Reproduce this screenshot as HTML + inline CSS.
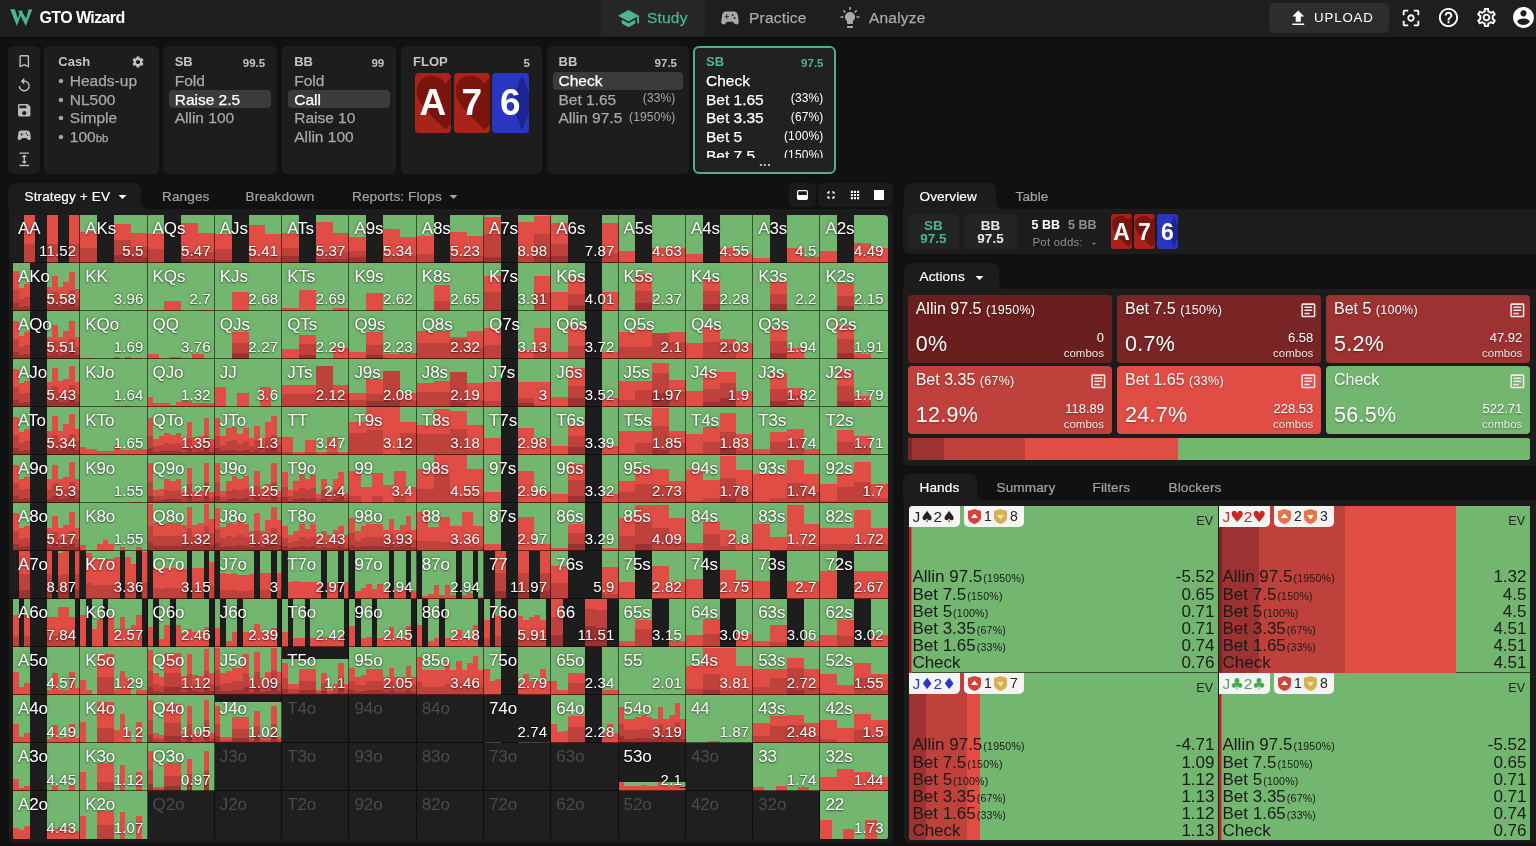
<!DOCTYPE html>
<html lang="en">
<head>
<meta charset="utf-8">
<title>GTO Wizard</title>
<style>
*{box-sizing:border-box;margin:0;padding:0}
html,body{width:1536px;height:846px;overflow:hidden;background:#111111}
body{position:relative;font-family:"Liberation Sans",sans-serif;color:#fff;font-size:14px}
.abs{position:absolute}
svg{display:block}
/* top bar */
#top{position:absolute;left:0;top:0;width:1536px;height:36.5px;background:#1e1e1e;box-shadow:0 0 2px rgba(0,0,0,.6)}
#top .brand{position:absolute;left:39.5px;top:7.5px;font-weight:bold;font-size:16px;letter-spacing:-.6px;color:#fff;line-height:20px}
.nav{position:absolute;top:0;height:36px;line-height:36px;font-size:15.5px;color:#a9a9a9;letter-spacing:.2px;-webkit-text-stroke:.25px currentColor}
.nav svg{position:absolute;top:7px}
.nav.act{background:#262626;color:#4db592}
#upload{position:absolute;left:1269px;top:3px;width:120px;height:30px;border-radius:5px;background:#2d2d2d;font-size:13.3px;letter-spacing:.85px;line-height:30px;color:#fff}
#upload span{position:absolute;left:45px;top:0}
/* panels */
.pn{position:absolute;top:46px;height:127.5px;background:#1d1d1d;border-radius:5px;overflow:hidden}
.pn .h{position:absolute;left:12px;top:9px;font-weight:bold;font-size:13px;color:#c4c4c4;line-height:14px}
.pn .s{position:absolute;right:12px;top:10px;font-weight:bold;font-size:11.5px;color:#c4c4c4;line-height:14px}
.pn .l{position:absolute;left:12px;font-size:15.5px;color:#a8a8a8;line-height:19px;white-space:nowrap;-webkit-text-stroke:.25px currentColor}
.pn .p{position:absolute;right:13.5px;font-size:12px;color:#a8a8a8;line-height:19px;letter-spacing:.15px}
.pn .hl{position:absolute;left:6px;right:6px;height:18px;border-radius:4px;background:#3b3b3b}
.pn .w{color:#fff}
.card{position:absolute;border-radius:4px;overflow:hidden;color:#fff;font-weight:bold;text-align:center}
/* tabs */
.tab{position:absolute;-webkit-text-stroke:.2px currentColor;font-size:13.6px;color:#a4a4a4;line-height:28px;height:26px;white-space:nowrap;letter-spacing:.1px}
.tab.act{background:#1c1c1c;color:#fff;border-radius:7px 7px 0 0}
.panel{position:absolute;background:#1c1c1c}
.cc{position:absolute;width:7px;height:7px;background:radial-gradient(circle at 100% 0,rgba(28,28,28,0) 6.5px,#1c1c1c 7.2px)}
/* matrix */
#matrix{position:absolute;border-radius:4px;overflow:hidden}
#matrix .msvg{position:absolute;left:0;top:0}
.c{position:absolute;width:67.29px;height:48.03px;color:#fff;text-shadow:0 0 3px rgba(0,0,0,.55),0 1px 1px rgba(0,0,0,.35)}
.c b{position:absolute;left:5px;top:3.6px;font-weight:normal;font-size:17px;line-height:20px;letter-spacing:-.1px}
.c i{position:absolute;right:4px;bottom:4px;font-style:normal;font-size:15px;line-height:16px;letter-spacing:.15px}
.c.in{color:#4b4b4b;text-shadow:none}
/* right side */
.box{position:absolute;background:#242424;border-radius:5px;text-align:center;font-weight:bold;font-size:13.5px;line-height:13px;padding-top:5px}
.ac{position:absolute;border-radius:4px;color:#fff;text-shadow:0 1px 2px rgba(0,0,0,.35)}
.ac .t{position:absolute;left:8px;top:5px;font-size:16px;line-height:18px;white-space:nowrap}
.ac .t small{font-size:12.5px;letter-spacing:.3px}
.ac .v{position:absolute;left:8px;bottom:6.5px;font-size:21.5px;line-height:24px;letter-spacing:.3px}
.ac .n{position:absolute;right:8px;bottom:2.5px;font-size:11.5px;line-height:14.5px;text-align:right;color:#f0e4e4}
.ac .n em{font-style:normal;font-size:13px;color:#fff}
.ac svg{position:absolute;right:3.9px;top:5.7px}
.hc{position:absolute;overflow:hidden;background:#73b66f;color:#1a1a1a}
.hc .bd{position:absolute;top:0;height:21px;background:#f4f4f4;border-radius:0 0 5px 0;font-size:15.5px;line-height:21px;font-weight:normal;white-space:nowrap;padding-left:3.5px}
.hc .bd u{text-decoration:none;font-family:"DejaVu Sans","Liberation Sans",sans-serif;font-size:15.5px;line-height:21px;letter-spacing:-.5px}
.hc .bd2{position:absolute;top:0;height:21px;background:#f4f4f4;border-radius:0 0 5px 5px;font-size:14px;line-height:21px;white-space:nowrap;color:#222}
.hc .ev{position:absolute;right:5px;top:8px;font-size:12.5px;line-height:14px;color:#222}
.hc .ls{position:absolute;left:3.5px;right:3.5px;bottom:0;font-size:17px;line-height:17.2px}
.hc.r1 .ls{bottom:1px}
.hc .ls div{position:relative;height:17.2px;white-space:nowrap}
.hc .ls small{font-size:10.6px;margin-left:1px;letter-spacing:.2px}
.hc .ls span{position:absolute;right:0;top:0}
</style>
</head>
<body>
<div id="top">
<svg class="abs" style="left:9.600px;top:9.100px" width="22.500" height="17.100" viewBox="135 170 540 410"><path d="M140 175L252 178 322 395 385 215 440 205 300 575zM330 215L402 205 522 395 583 180 670 175 515 575z" fill="#4db592"/></svg>
<div class="brand">GTO Wizard</div>
<div class="nav act" style="left:601px;width:104px"><svg style="left:16px" width="23" height="23" viewBox="0 0 24 24"><path d="M5 13.18v4L12 21l7-3.82v-4L12 17l-7-3.82zM12 3L1 9l11 6 9-4.910V17h2V9L12 3z" fill="#4db592"/></svg><span class="abs" style="left:46px">Study</span></div>
<div class="nav" style="left:705px;width:120px"><svg style="left:14px" width="22" height="22" viewBox="0 0 24 24"><path d="M21.58 16.09l-1.09-7.66C20.21 6.46 18.52 5 16.53 5H7.47C5.48 5 3.79 6.46 3.51 8.43l-1.090 7.66C2.2 17.63 3.39 19 4.94 19c.68 0 1.32-.27 1.8-.75L9 16h6l2.25 2.25c.48.48 1.13.75 1.8.75 1.56 0 2.75-1.37 2.53-2.910zM11 11H9v2H8v-2H6v-1h2V8h1v2h2v1zm4-1c-.55 0-1-.45-1-1s.45-1 1-1 1 .45 1 1-.45 1-1 1zm2 3c-.55 0-1-.45-1-1s.45-1 1-1 1 .45 1 1-.45 1-1 1z" fill="#a9a9a9"/></svg><span class="abs" style="left:44px">Practice</span></div>
<div class="nav" style="left:825px;width:120px"><svg style="left:13px;top:6px" width="24" height="24" viewBox="0 0 24 24"><path d="M9 21c0 .55.45 1 1 1h4c.55 0 1-.45 1-1v-1H9v1zm3-15c-2.760 0-5 2.240-5 5 0 1.640.8 3.090 2 4v2c0 .55.45 1 1 1h4c.55 0 1-.45 1-1v-2c1.200-.910 2-2.360 2-4 0-2.760-2.240-5-5-5z" fill="#a9a9a9"/><path d="M11.200 1h1.600v3h-1.600zM2.500 10.200h3v1.600h-3zM18.500 10.200h3v1.600h-3zM4.700 4.900l1.100-1.100 2.100 2.100-1.100 1.100zM16.100 5.900l2.100-2.100 1.100 1.100-2.100 2.100z" fill="#a9a9a9"/></svg><span class="abs" style="left:44px">Analyze</span></div>
<div id="upload"><svg class="abs" style="left:19px;top:4.500px" width="20.500" height="20.500" viewBox="0 0 24 24"><path d="M9 16h6v-6h4l-7-7-7 7h4zm-4 2h14v2H5z" fill="#fff"/></svg><span>UPLOAD</span></div>
<svg class="abs" style="left:1400px;top:7px" width="22" height="22" viewBox="0 0 24 24"><path d="M5 15H3v4c0 1.100.9 2 2 2h4v-2H5v-4zM5 5h4V3H5c-1.100 0-2 .9-2 2v4h2V5zm14-2h-4v2h4v4h2V5c0-1.100-.9-2-2-2zm0 16h-4v2h4c1.100 0 2-.9 2-2v-4h-2v4zM12 8c-2.210 0-4 1.790-4 4s1.790 4 4 4 4-1.790 4-4-1.790-4-4-4zm0 6c-1.100 0-2-.9-2-2s.9-2 2-2 2 .9 2 2-.9 2-2 2z" fill="#fff"/></svg>
<svg class="abs" style="left:1437px;top:6px" width="23" height="23" viewBox="0 0 24 24"><path d="M11 18h2v-2h-2v2zm1-16C6.480 2 2 6.480 2 12s4.480 10 10 10 10-4.480 10-10S17.520 2 12 2zm0 18c-4.410 0-8-3.590-8-8s3.590-8 8-8 8 3.590 8 8-3.590 8-8 8zm0-14c-2.210 0-4 1.790-4 4h2c0-1.100.9-2 2-2s2 .9 2 2c0 2-3 1.750-3 5h2c0-2.250 3-2.500 3-5 0-2.210-1.790-4-4-4z" fill="#fff"/></svg>
<svg class="abs" style="left:1475px;top:6px" width="23" height="23" viewBox="0 0 24 24"><path d="M19.430 12.980c.04-.32.07-.64.07-.98 0-.34-.03-.66-.07-.98l2.110-1.650c.19-.15.240-.42.120-.64l-2-3.460c-.09-.16-.26-.25-.44-.25-.06 0-.12.010-.17.030l-2.490 1c-.52-.4-1.080-.73-1.690-.98l-.38-2.650C14.460 2.180 14.250 2 14 2h-4c-.25 0-.46.180-.49.420l-.38 2.650c-.61.250-1.170.59-1.690.98l-2.490-1c-.06-.02-.12-.03-.18-.03-.17 0-.34.090-.43.250l-2 3.460c-.13.220-.07.490.12.640l2.110 1.650c-.04.320-.07.650-.07.980 0 .33.030.66.070.98l-2.110 1.650c-.19.150-.24.420-.12.640l2 3.460c.09.160.26.250.44.250.06 0 .12-.01.17-.03l2.490-1c.52.400 1.080.73 1.690.98l.38 2.650c.03.240.24.420.49.420h4c.25 0 .46-.18.490-.42l.38-2.650c.61-.25 1.170-.59 1.690-.98l2.490 1c.06.020.12.030.18.030.17 0 .34-.09.43-.25l2-3.460c.12-.22.070-.49-.12-.64l-2.110-1.650zm-1.980-1.710c.04.310.05.520.05.730 0 .21-.02.430-.05.730l-.14 1.130.89.700 1.080.84-.7 1.210-1.270-.51-1.040-.42-.9.680c-.43.320-.84.560-1.250.73l-1.060.43-.16 1.130-.2 1.350h-1.400l-.19-1.350-.16-1.130-1.060-.43c-.43-.18-.83-.41-1.230-.71l-.91-.7-1.060.43-1.270.51-.7-1.210 1.080-.84.890-.7-.14-1.130c-.03-.31-.05-.54-.05-.74s.02-.43.050-.73l.14-1.130-.89-.7-1.080-.84.7-1.210 1.270.51 1.040.42.900-.68c.43-.32.840-.56 1.250-.73l1.060-.43.160-1.130.2-1.350h1.390l.19 1.350.16 1.130 1.060.43c.43.180.83.410 1.230.71l.91.700 1.060-.43 1.270-.51.7 1.210-1.070.85-.89.700.14 1.130zM12 8c-2.210 0-4 1.790-4 4s1.790 4 4 4 4-1.790 4-4-1.790-4-4-4zm0 6c-1.100 0-2-.9-2-2s.9-2 2-2 2 .9 2 2-.9 2-2 2z" fill="#fff"/></svg>
<svg class="abs" style="left:1511px;top:5px" width="25" height="25" viewBox="0 0 24 24"><path d="M12 2C6.480 2 2 6.480 2 12s4.480 10 10 10 10-4.480 10-10S17.520 2 12 2zm0 3c1.660 0 3 1.340 3 3s-1.340 3-3 3-3-1.340-3-3 1.340-3 3-3zm0 14.200c-2.500 0-4.710-1.280-6-3.220.03-1.990 4-3.080 6-3.080 1.990 0 5.970 1.090 6 3.080-1.290 1.940-3.500 3.220-6 3.220z" fill="#fff"/></svg>
</div>

<div class="pn" style="left:8px;width:32px">
<svg class="abs" style="left:7.75px;top:6.75px" width="16.500" height="16.500" viewBox="0 0 24 24"><path d="M17 3H7c-1.100 0-2 .9-2 2v16l7-3 7 3V5c0-1.100-.9-2-2-2zm0 15l-5-2.180L7 18V5h10v13z" fill="#bdbdbd"/></svg>
<svg class="abs" style="left:7.75px;top:30.75px" width="16.500" height="16.500" viewBox="0 0 24 24"><path d="M12 5V1L7 6l5 5V7c3.310 0 6 2.690 6 6s-2.690 6-6 6-6-2.690-6-6H4c0 4.420 3.580 8 8 8s8-3.580 8-8-3.580-8-8-8z" fill="#bdbdbd"/></svg>
<svg class="abs" style="left:7.75px;top:55.75px" width="16.500" height="16.500" viewBox="0 0 24 24"><path d="M17 3H5c-1.110 0-2 .9-2 2v14c0 1.100.89 2 2 2h14c1.100 0 2-.9 2-2V7l-4-4zm-5 16c-1.660 0-3-1.340-3-3s1.340-3 3-3 3 1.340 3 3-1.340 3-3 3zm3-10H5V5h10v4z" fill="#bdbdbd"/></svg>
<svg class="abs" style="left:7.75px;top:80.75px" width="16.500" height="16.500" viewBox="0 0 24 24"><path d="M21.580 16.090l-1.090-7.660C20.210 6.460 18.520 5 16.530 5H7.470C5.480 5 3.790 6.460 3.510 8.430l-1.090 7.660C2.200 17.630 3.390 19 4.940 19c.68 0 1.320-.27 1.800-.75L9 16h6l2.250 2.250c.48.480 1.130.75 1.800.75 1.560 0 2.750-1.370 2.530-2.910zM11 11H9v2H8v-2H6v-1h2V8h1v2h2v1zm4-1c-.55 0-1-.45-1-1s.45-1 1-1 1 .45 1 1-.45 1-1 1zm2 3c-.55 0-1-.45-1-1s.45-1 1-1 1 .45 1 1-.45 1-1 1z" fill="#bdbdbd"/></svg>
<svg class="abs" style="left:7.75px;top:104.75px" width="16.500" height="16.500" viewBox="0 0 24 24"><path d="M5 20h14v2H5zM5 2h14v2H5zm8 7h3l-4-4-4 4h3v6H8l4 4 4-4h-3z" fill="#bdbdbd"/></svg>
</div>
<div class="pn" style="left:44.300px;width:114.500px">
<div class="h" style="left:14px">Cash</div>
<svg class="abs" style="left:87px;top:9px" width="14" height="14" viewBox="0 0 24 24"><path d="M19.140 12.940c.04-.3.060-.61.060-.94 0-.32-.02-.64-.07-.94l2.030-1.580c.18-.14.230-.41.120-.61l-1.920-3.320c-.12-.22-.37-.29-.59-.22l-2.390.96c-.5-.38-1.030-.7-1.620-.94l-.36-2.540c-.04-.24-.24-.41-.48-.41h-3.840c-.24 0-.43.170-.47.410l-.36 2.540c-.59.240-1.130.57-1.620.94l-2.390-.96c-.22-.08-.47 0-.59.220L2.740 8.870c-.12.210-.08.470.12.610l2.030 1.580c-.05.3-.09.630-.09.940s.02.640.07.940l-2.030 1.580c-.18.140-.23.410-.12.610l1.920 3.320c.12.220.37.290.59.220l2.390-.96c.5.380 1.030.7 1.620.94l.36 2.540c.05.240.24.410.48.410h3.840c.24 0 .44-.17.470-.41l.36-2.540c.59-.24 1.130-.56 1.620-.94l2.390.96c.22.080.47 0 .59-.22l1.920-3.320c.12-.22.070-.47-.12-.61l-2.010-1.580zM12 15.600c-1.980 0-3.600-1.620-3.600-3.600s1.620-3.600 3.600-3.600 3.600 1.620 3.600 3.600-1.620 3.600-3.600 3.600z" fill="#c4c4c4"/></svg>
<div class="l" style="left:14px;top:24.800px">•<span class="abs" style="left:11.500px;top:0">Heads-up</span></div>
<div class="l" style="left:14px;top:43.600px">•<span class="abs" style="left:11.500px;top:0">NL500</span></div>
<div class="l" style="left:14px;top:62.400px">•<span class="abs" style="left:11.500px;top:0">Simple</span></div>
<div class="l" style="left:14px;top:81.200px">•<span class="abs" style="left:11.500px;top:0">100<small style="font-size:11.500px">bb</small></span></div>
</div>
<div class="pn" style="left:162.700px;width:114.500px">
<div class="h">SB</div><div class="s">99.5</div>
<div class="hl" style="top:44px"></div>
<div class="l" style="top:24.800px">Fold</div>
<div class="l w" style="top:43.600px">Raise 2.5</div>
<div class="l" style="top:62.400px">Allin 100</div>
</div>
<div class="pn" style="left:282.200px;width:114px">
<div class="h">BB</div><div class="s">99</div>
<div class="hl" style="top:44px"></div>
<div class="l" style="top:24.800px">Fold</div>
<div class="l w" style="top:43.600px">Call</div>
<div class="l" style="top:62.400px">Raise 10</div>
<div class="l" style="top:81.200px">Allin 100</div>
</div>
<div class="pn" style="left:401px;width:141px">
<div class="h">FLOP</div><div class="s">5</div>
<div class="card" style="left:13.500px;top:26.500px;width:36.500px;height:60px;background:#a92418"><svg class="abs" style="left:0;top:0" width="37" height="60" viewBox="0 0 37 60"><path d="M30.600 56.600C20 46 1.700 32 1.700 18 1.700 9 8 3 16 3c6 0 12 3 14.600 7.600C33 6 39 3 45 3c8 0 14.500 6 14.500 15 0 14-18.500 28-28.900 38.600z" fill="#7a150e"/></svg><span class="abs" style="left:0;width:36.500px;top:9.500px;font-size:37px;line-height:42px">A</span></div>
<div class="card" style="left:52.500px;top:26.500px;width:36.500px;height:60px;background:#a92418"><svg class="abs" style="left:0;top:0" width="37" height="60" viewBox="0 0 37 60"><path d="M30.600 56.600C20 46 1.700 32 1.700 18 1.700 9 8 3 16 3c6 0 12 3 14.600 7.600C33 6 39 3 45 3c8 0 14.500 6 14.500 15 0 14-18.500 28-28.900 38.600z" fill="#7a150e"/></svg><span class="abs" style="left:0;width:36.500px;top:9.500px;font-size:37px;line-height:42px">7</span></div>
<div class="card" style="left:91px;top:26.500px;width:36.500px;height:60px;background:#2a36c0"><svg class="abs" style="left:0;top:0" width="37" height="60" viewBox="0 0 37 60"><path d="M30 2L40.400 30 30 57.500 19.600 30z" fill="#1c2690"/></svg><span class="abs" style="left:0;width:36.500px;top:9.500px;font-size:37px;line-height:42px">6</span></div>
</div>
<div class="pn" style="left:546.500px;width:142.500px">
<div class="h">BB</div><div class="s">97.5</div>
<div class="hl" style="top:25.500px;height:18.500px"></div>
<div class="l w" style="top:24.800px">Check</div>
<div class="l" style="top:43.600px">Bet 1.65</div><div class="p" style="top:43px">(33%)</div>
<div class="l" style="top:62.400px">Allin 97.5</div><div class="p" style="top:62px">(1950%)</div>
</div>
<div class="pn" style="left:693px;width:142.500px;border:2px solid #4fae8e;border-radius:6px;background:#212121">
<div class="h" style="left:11px;top:7px;color:#4db592">SB</div><div class="s" style="right:10px;top:8px;color:#4db592">97.5</div>
<div class="abs" style="left:0;top:0;width:140px;height:109.500px;overflow:hidden">
<div class="l w" style="left:11px;top:22.800px">Check</div>
<div class="l w" style="left:11px;top:41.600px">Bet 1.65</div><div class="p w" style="right:11.500px;top:41px">(33%)</div>
<div class="l w" style="left:11px;top:60.400px">Bet 3.35</div><div class="p w" style="right:11.500px;top:60px">(67%)</div>
<div class="l w" style="left:11px;top:79.200px">Bet 5</div><div class="p w" style="right:11.500px;top:79px">(100%)</div>
<div class="l w" style="left:11px;top:98px">Bet 7.5</div><div class="p w" style="right:11.500px;top:98px">(150%)</div>
</div>
<div class="abs" style="left:64px;top:109px;width:14px;font-size:13px;line-height:10px;color:#ccc;letter-spacing:.5px;font-weight:bold">...</div>
</div>

<div class="tab act" style="left:8px;top:183px;width:133px"><span class="abs" style="left:16.500px">Strategy + EV</span><svg class="abs" style="left:105px;top:4px" width="19" height="19" viewBox="0 0 24 24"><path d="M7 10l5 5 5-5z" fill="#fff"/></svg></div>
<div class="tab" style="left:162px;top:183px">Ranges</div>
<div class="tab" style="left:245.500px;top:183px">Breakdown</div>
<div class="tab" style="left:352px;top:183px">Reports: Flops<svg class="abs" style="left:92px;top:4px" width="19" height="19" viewBox="0 0 24 24"><path d="M7 10l5 5 5-5z" fill="#a4a4a4"/></svg></div>
<div class="abs" style="left:789px;top:183px;width:27px;height:24px;border-radius:5px;background:#1b1b1b"><svg class="abs" style="left:8px;top:7px" width="11" height="10" viewBox="0 0 11 10"><rect x=".6" y=".6" width="9.800" height="8.800" rx="1.200" fill="none" stroke="#fff" stroke-width="1.200"/><rect x="1" y="5" width="9" height="4.500" fill="#fff"/></svg></div>
<div class="abs" style="left:818px;top:183px;width:75px;height:24px;border-radius:5px;background:#1b1b1b">
<svg class="abs" style="left:7px;top:6px" width="12" height="12" viewBox="0 0 24 24"><path d="M4 15h5v5h-2.500v-2.500H4zM6.500 6.500V4H9v5H4V6.500zM15 20v-5h5v2.500h-2.500V20zM17.500 6.500H20V9h-5V4h2.500z" fill="#fff"/></svg>
<svg class="abs" style="left:32px;top:7px" width="10" height="10" viewBox="0 0 24 24"><path d="M2 2h5v5H2zM9.500 2h5v5h-5zM17 2h5v5h-5zM2 9.500h5v5H2zM9.500 9.500h5v5h-5zM17 9.500h5v5h-5zM2 17h5v5H2zM9.500 17h5v5h-5zM17 17h5v5h-5z" fill="#fff"/></svg>
<svg class="abs" style="left:56px;top:7px" width="10" height="10" viewBox="0 0 10 10"><rect width="10" height="10" fill="#fff"/></svg>
</div>
<div class="panel" style="left:8.500px;top:209px;width:884px;height:634px;border-radius:0 6px 6px 6px"></div>
<div class="cc" style="left:141px;top:202px"></div>
<div class="cc" style="left:995.500px;top:202px"></div>
<div class="cc" style="left:998.500px;top:282px"></div>
<div class="cc" style="left:977px;top:493px"></div>

<div id="matrix" style="left:13px;top:215.2px;width:874.77px;height:624.39px"><svg class="msvg" width="874.77" height="624.39" viewBox="0 0 874.77 624.39" shape-rendering="crispEdges"><rect x="0" y="0" width="67.29" height="48.03" fill="#1d1d1d"/><rect x="11.22" y="0" width="11.22" height="28.82" fill="#e04d45"/><rect x="11.22" y="28.82" width="11.22" height="19.21" fill="#bf413b"/><rect x="33.65" y="0" width="11.22" height="28.82" fill="#e04d45"/><rect x="33.65" y="28.82" width="11.22" height="19.21" fill="#bf413b"/><rect x="56.08" y="0" width="11.21" height="28.82" fill="#e04d45"/><rect x="56.08" y="28.82" width="11.21" height="19.21" fill="#bf413b"/><rect x="67.29" y="0" width="67.29" height="48.03" fill="#1d1d1d"/><rect x="67.29" y="0" width="16.82" height="16.81" fill="#73b66f"/><rect x="67.29" y="16.81" width="16.82" height="15.85" fill="#e04d45"/><rect x="67.29" y="32.66" width="16.82" height="15.37" fill="#bf413b"/><rect x="100.94" y="0" width="16.82" height="8.65" fill="#73b66f"/><rect x="100.94" y="8.65" width="16.82" height="16.81" fill="#e04d45"/><rect x="100.94" y="25.46" width="16.82" height="14.41" fill="#bf413b"/><rect x="100.94" y="39.86" width="16.82" height="8.17" fill="#9c3231"/><rect x="117.76" y="0" width="16.82" height="17.77" fill="#73b66f"/><rect x="117.76" y="17.77" width="16.82" height="13.93" fill="#e04d45"/><rect x="117.76" y="31.7" width="16.82" height="10.57" fill="#bf413b"/><rect x="117.76" y="42.27" width="16.82" height="5.76" fill="#9c3231"/><rect x="134.58" y="0" width="67.29" height="48.03" fill="#1d1d1d"/><rect x="134.58" y="0" width="16.82" height="19.21" fill="#73b66f"/><rect x="134.58" y="19.21" width="16.82" height="14.41" fill="#e04d45"/><rect x="134.58" y="33.62" width="16.82" height="14.41" fill="#bf413b"/><rect x="168.23" y="0" width="16.82" height="8.17" fill="#73b66f"/><rect x="168.23" y="8.17" width="16.82" height="29.3" fill="#e04d45"/><rect x="168.23" y="37.46" width="16.82" height="6.72" fill="#bf413b"/><rect x="168.23" y="44.19" width="16.82" height="3.84" fill="#9c3231"/><rect x="185.05" y="0" width="16.82" height="17.77" fill="#73b66f"/><rect x="185.05" y="17.77" width="16.82" height="19.69" fill="#e04d45"/><rect x="185.05" y="37.46" width="16.82" height="6.72" fill="#bf413b"/><rect x="185.05" y="44.19" width="16.82" height="3.84" fill="#9c3231"/><rect x="201.87" y="0" width="67.29" height="48.03" fill="#1d1d1d"/><rect x="201.87" y="0" width="16.82" height="19.21" fill="#73b66f"/><rect x="201.87" y="19.21" width="16.82" height="14.89" fill="#e04d45"/><rect x="201.87" y="34.1" width="16.82" height="10.57" fill="#bf413b"/><rect x="201.87" y="44.67" width="16.82" height="3.36" fill="#9c3231"/><rect x="235.52" y="0" width="16.82" height="9.61" fill="#73b66f"/><rect x="235.52" y="9.61" width="16.82" height="31.22" fill="#e04d45"/><rect x="235.52" y="40.83" width="16.82" height="7.2" fill="#bf413b"/><rect x="252.34" y="0" width="16.82" height="19.21" fill="#73b66f"/><rect x="252.34" y="19.21" width="16.82" height="21.61" fill="#e04d45"/><rect x="252.34" y="40.83" width="16.82" height="7.2" fill="#bf413b"/><rect x="269.16" y="0" width="67.29" height="48.03" fill="#1d1d1d"/><rect x="269.16" y="0" width="16.82" height="17.77" fill="#73b66f"/><rect x="269.16" y="17.77" width="16.82" height="15.37" fill="#e04d45"/><rect x="269.16" y="33.14" width="16.82" height="8.17" fill="#bf413b"/><rect x="269.16" y="41.31" width="16.82" height="6.72" fill="#9c3231"/><rect x="302.81" y="0" width="16.82" height="7.2" fill="#73b66f"/><rect x="302.81" y="7.2" width="16.82" height="30.26" fill="#e04d45"/><rect x="302.81" y="37.46" width="16.82" height="6.72" fill="#bf413b"/><rect x="302.81" y="44.19" width="16.82" height="3.84" fill="#9c3231"/><rect x="319.63" y="0" width="16.82" height="17.77" fill="#73b66f"/><rect x="319.63" y="17.77" width="16.82" height="19.69" fill="#e04d45"/><rect x="319.63" y="37.46" width="16.82" height="6.72" fill="#bf413b"/><rect x="319.63" y="44.19" width="16.82" height="3.84" fill="#9c3231"/><rect x="336.45" y="0" width="67.29" height="48.03" fill="#1d1d1d"/><rect x="336.45" y="0" width="16.82" height="21.61" fill="#73b66f"/><rect x="336.45" y="21.61" width="16.82" height="14.41" fill="#e04d45"/><rect x="336.45" y="36.02" width="16.82" height="6.24" fill="#bf413b"/><rect x="336.45" y="42.27" width="16.82" height="5.76" fill="#9c3231"/><rect x="370.1" y="0" width="16.82" height="14.41" fill="#73b66f"/><rect x="370.1" y="14.41" width="16.82" height="26.42" fill="#e04d45"/><rect x="370.1" y="40.83" width="16.82" height="7.2" fill="#bf413b"/><rect x="386.92" y="0" width="16.82" height="21.61" fill="#73b66f"/><rect x="386.92" y="21.61" width="16.82" height="19.21" fill="#e04d45"/><rect x="386.92" y="40.83" width="16.82" height="7.2" fill="#bf413b"/><rect x="403.74" y="0" width="67.29" height="48.03" fill="#1d1d1d"/><rect x="403.74" y="0" width="16.82" height="21.13" fill="#73b66f"/><rect x="403.74" y="21.13" width="16.82" height="18.25" fill="#e04d45"/><rect x="403.74" y="39.38" width="16.82" height="8.65" fill="#bf413b"/><rect x="437.38" y="0" width="16.82" height="16.81" fill="#73b66f"/><rect x="437.38" y="16.81" width="16.82" height="24.02" fill="#e04d45"/><rect x="437.38" y="40.83" width="16.82" height="4.8" fill="#bf413b"/><rect x="437.38" y="45.63" width="16.82" height="2.4" fill="#9c3231"/><rect x="454.21" y="0" width="16.82" height="20.65" fill="#73b66f"/><rect x="454.21" y="20.65" width="16.82" height="20.17" fill="#e04d45"/><rect x="454.21" y="40.83" width="16.82" height="4.8" fill="#bf413b"/><rect x="454.21" y="45.63" width="16.82" height="2.4" fill="#9c3231"/><rect x="471.03" y="0" width="67.29" height="48.03" fill="#1d1d1d"/><rect x="471.03" y="0" width="16.82" height="2.4" fill="#73b66f"/><rect x="471.03" y="2.4" width="16.82" height="16.81" fill="#e04d45"/><rect x="471.03" y="19.21" width="16.82" height="23.05" fill="#bf413b"/><rect x="471.03" y="42.27" width="16.82" height="5.76" fill="#9c3231"/><rect x="504.68" y="0" width="16.82" height="7.2" fill="#73b66f"/><rect x="504.68" y="7.2" width="16.82" height="35.06" fill="#e04d45"/><rect x="504.68" y="42.27" width="16.82" height="5.76" fill="#bf413b"/><rect x="521.5" y="0" width="16.82" height="0.96" fill="#73b66f"/><rect x="521.5" y="0.96" width="16.82" height="18.25" fill="#e04d45"/><rect x="521.5" y="19.21" width="16.82" height="23.05" fill="#bf413b"/><rect x="521.5" y="42.27" width="16.82" height="5.76" fill="#9c3231"/><rect x="538.32" y="0" width="67.29" height="48.03" fill="#1d1d1d"/><rect x="538.32" y="0" width="16.82" height="8.17" fill="#73b66f"/><rect x="538.32" y="8.17" width="16.82" height="20.65" fill="#e04d45"/><rect x="538.32" y="28.82" width="16.82" height="12.49" fill="#bf413b"/><rect x="538.32" y="41.31" width="16.82" height="6.72" fill="#9c3231"/><rect x="588.79" y="0" width="16.82" height="8.17" fill="#73b66f"/><rect x="588.79" y="8.17" width="16.82" height="30.26" fill="#e04d45"/><rect x="588.79" y="38.42" width="16.82" height="9.61" fill="#bf413b"/><rect x="605.61" y="0" width="67.29" height="48.03" fill="#1d1d1d"/><rect x="605.61" y="0" width="16.82" height="35.54" fill="#73b66f"/><rect x="605.61" y="35.54" width="16.82" height="12.49" fill="#e04d45"/><rect x="639.26" y="0" width="33.64" height="33.14" fill="#73b66f"/><rect x="639.26" y="33.14" width="33.64" height="14.89" fill="#e04d45"/><rect x="672.9" y="0" width="67.29" height="48.03" fill="#1d1d1d"/><rect x="672.9" y="0" width="16.82" height="38.9" fill="#73b66f"/><rect x="672.9" y="38.9" width="16.82" height="9.13" fill="#e04d45"/><rect x="706.55" y="0" width="16.82" height="33.14" fill="#73b66f"/><rect x="706.55" y="33.14" width="16.82" height="14.89" fill="#e04d45"/><rect x="723.37" y="0" width="16.82" height="38.9" fill="#73b66f"/><rect x="723.37" y="38.9" width="16.82" height="9.13" fill="#e04d45"/><rect x="740.19" y="0" width="67.29" height="48.03" fill="#1d1d1d"/><rect x="740.19" y="0" width="16.82" height="42.75" fill="#73b66f"/><rect x="740.19" y="42.75" width="16.82" height="5.28" fill="#e04d45"/><rect x="773.84" y="0" width="16.82" height="33.14" fill="#73b66f"/><rect x="773.84" y="33.14" width="16.82" height="14.89" fill="#e04d45"/><rect x="790.66" y="0" width="16.82" height="42.27" fill="#73b66f"/><rect x="790.66" y="42.27" width="16.82" height="5.76" fill="#e04d45"/><rect x="807.48" y="0" width="67.29" height="48.03" fill="#1d1d1d"/><rect x="807.48" y="0" width="16.82" height="35.54" fill="#73b66f"/><rect x="807.48" y="35.54" width="16.82" height="12.49" fill="#e04d45"/><rect x="841.12" y="0" width="16.82" height="27.86" fill="#73b66f"/><rect x="841.12" y="27.86" width="16.82" height="20.17" fill="#e04d45"/><rect x="857.95" y="0" width="16.82" height="33.14" fill="#73b66f"/><rect x="857.95" y="33.14" width="16.82" height="14.89" fill="#e04d45"/><rect x="0" y="48.03" width="67.29" height="48.03" fill="#1d1d1d"/><rect x="0" y="48.03" width="5.61" height="8.17" fill="#73b66f"/><rect x="0" y="56.2" width="5.61" height="18.74" fill="#e04d45"/><rect x="0" y="74.93" width="5.61" height="13.55" fill="#bf413b"/><rect x="0" y="88.49" width="5.61" height="7.57" fill="#9c3231"/><rect x="5.61" y="48.03" width="5.61" height="24.98" fill="#73b66f"/><rect x="5.61" y="73.01" width="5.61" height="10.84" fill="#e04d45"/><rect x="5.61" y="83.84" width="5.61" height="7.84" fill="#bf413b"/><rect x="5.61" y="91.68" width="5.61" height="4.38" fill="#9c3231"/><rect x="11.22" y="48.03" width="5.61" height="21.13" fill="#73b66f"/><rect x="11.22" y="69.16" width="5.61" height="12.64" fill="#e04d45"/><rect x="11.22" y="81.8" width="5.61" height="9.14" fill="#bf413b"/><rect x="11.22" y="90.95" width="5.61" height="5.11" fill="#9c3231"/><rect x="33.65" y="48.03" width="5.61" height="24.02" fill="#73b66f"/><rect x="33.65" y="72.05" width="5.61" height="11.29" fill="#e04d45"/><rect x="33.65" y="83.33" width="5.61" height="8.17" fill="#bf413b"/><rect x="33.65" y="91.5" width="5.61" height="4.56" fill="#9c3231"/><rect x="39.25" y="48.03" width="5.61" height="12.49" fill="#73b66f"/><rect x="39.25" y="60.52" width="5.61" height="16.7" fill="#e04d45"/><rect x="39.25" y="77.22" width="5.61" height="12.08" fill="#bf413b"/><rect x="39.25" y="89.31" width="5.61" height="6.75" fill="#9c3231"/><rect x="44.86" y="48.03" width="5.61" height="24.02" fill="#73b66f"/><rect x="44.86" y="72.05" width="5.61" height="11.29" fill="#e04d45"/><rect x="44.86" y="83.33" width="5.61" height="8.17" fill="#bf413b"/><rect x="44.86" y="91.5" width="5.61" height="4.56" fill="#9c3231"/><rect x="50.47" y="48.03" width="5.61" height="18.73" fill="#73b66f"/><rect x="50.47" y="66.76" width="5.61" height="13.77" fill="#e04d45"/><rect x="50.47" y="80.53" width="5.61" height="9.96" fill="#bf413b"/><rect x="50.47" y="90.49" width="5.61" height="5.57" fill="#9c3231"/><rect x="56.08" y="48.03" width="5.61" height="9.13" fill="#73b66f"/><rect x="56.08" y="57.16" width="5.61" height="18.29" fill="#e04d45"/><rect x="56.08" y="75.44" width="5.61" height="13.23" fill="#bf413b"/><rect x="56.08" y="88.67" width="5.61" height="7.39" fill="#9c3231"/><rect x="61.68" y="48.03" width="5.61" height="25.94" fill="#73b66f"/><rect x="61.68" y="73.97" width="5.61" height="10.38" fill="#e04d45"/><rect x="61.68" y="84.35" width="5.61" height="7.51" fill="#bf413b"/><rect x="61.68" y="91.86" width="5.61" height="4.2" fill="#9c3231"/><rect x="67.29" y="48.03" width="67.29" height="48.03" fill="#1d1d1d"/><rect x="67.29" y="48.03" width="67.29" height="48.03" fill="#73b66f"/><rect x="134.58" y="48.03" width="67.29" height="48.03" fill="#1d1d1d"/><rect x="134.58" y="48.03" width="16.82" height="47.07" fill="#73b66f"/><rect x="134.58" y="95.1" width="16.82" height="0.96" fill="#e04d45"/><rect x="151.4" y="48.03" width="16.82" height="38.42" fill="#73b66f"/><rect x="151.4" y="86.45" width="16.82" height="9.61" fill="#e04d45"/><rect x="168.23" y="48.03" width="16.82" height="48.03" fill="#73b66f"/><rect x="185.05" y="48.03" width="16.82" height="46.59" fill="#73b66f"/><rect x="185.05" y="94.62" width="16.82" height="1.44" fill="#e04d45"/><rect x="201.87" y="48.03" width="67.29" height="48.03" fill="#1d1d1d"/><rect x="201.87" y="48.03" width="16.82" height="48.03" fill="#73b66f"/><rect x="218.69" y="48.03" width="16.82" height="29.3" fill="#73b66f"/><rect x="218.69" y="77.33" width="16.82" height="18.73" fill="#e04d45"/><rect x="235.52" y="48.03" width="33.65" height="48.03" fill="#73b66f"/><rect x="269.16" y="48.03" width="67.29" height="48.03" fill="#1d1d1d"/><rect x="269.16" y="48.03" width="16.82" height="45.15" fill="#73b66f"/><rect x="269.16" y="93.18" width="16.82" height="2.88" fill="#e04d45"/><rect x="285.98" y="48.03" width="16.82" height="27.38" fill="#73b66f"/><rect x="285.98" y="75.41" width="16.82" height="20.65" fill="#e04d45"/><rect x="302.81" y="48.03" width="16.82" height="48.03" fill="#73b66f"/><rect x="319.63" y="48.03" width="16.82" height="45.15" fill="#73b66f"/><rect x="319.63" y="93.18" width="16.82" height="2.88" fill="#e04d45"/><rect x="336.45" y="48.03" width="67.29" height="48.03" fill="#1d1d1d"/><rect x="336.45" y="48.03" width="16.82" height="48.03" fill="#73b66f"/><rect x="353.27" y="48.03" width="16.82" height="30.26" fill="#73b66f"/><rect x="353.27" y="78.29" width="16.82" height="17.77" fill="#e04d45"/><rect x="370.1" y="48.03" width="33.64" height="48.03" fill="#73b66f"/><rect x="403.74" y="48.03" width="67.29" height="48.03" fill="#1d1d1d"/><rect x="403.74" y="48.03" width="16.82" height="48.03" fill="#73b66f"/><rect x="420.56" y="48.03" width="16.82" height="22.09" fill="#73b66f"/><rect x="420.56" y="70.12" width="16.82" height="15.85" fill="#e04d45"/><rect x="420.56" y="85.97" width="16.82" height="10.09" fill="#bf413b"/><rect x="437.38" y="48.03" width="33.65" height="48.03" fill="#73b66f"/><rect x="471.03" y="48.03" width="67.29" height="48.03" fill="#1d1d1d"/><rect x="471.03" y="48.03" width="16.82" height="12.49" fill="#73b66f"/><rect x="471.03" y="60.52" width="16.82" height="16.33" fill="#e04d45"/><rect x="471.03" y="76.85" width="16.82" height="19.21" fill="#bf413b"/><rect x="504.68" y="48.03" width="16.82" height="48.03" fill="#73b66f"/><rect x="521.5" y="48.03" width="16.82" height="12.49" fill="#73b66f"/><rect x="521.5" y="60.52" width="16.82" height="17.29" fill="#e04d45"/><rect x="521.5" y="77.81" width="16.82" height="18.25" fill="#bf413b"/><rect x="538.32" y="48.03" width="67.29" height="48.03" fill="#1d1d1d"/><rect x="538.32" y="48.03" width="16.82" height="28.82" fill="#73b66f"/><rect x="538.32" y="76.85" width="16.82" height="19.21" fill="#e04d45"/><rect x="555.14" y="48.03" width="16.82" height="15.37" fill="#73b66f"/><rect x="555.14" y="63.4" width="16.82" height="15.85" fill="#e04d45"/><rect x="555.14" y="79.25" width="16.82" height="11.05" fill="#bf413b"/><rect x="555.14" y="90.3" width="16.82" height="5.76" fill="#9c3231"/><rect x="588.79" y="48.03" width="16.82" height="28.82" fill="#73b66f"/><rect x="588.79" y="76.85" width="16.82" height="19.21" fill="#e04d45"/><rect x="605.61" y="48.03" width="67.29" height="48.03" fill="#1d1d1d"/><rect x="605.61" y="48.03" width="16.82" height="48.03" fill="#73b66f"/><rect x="622.43" y="48.03" width="16.82" height="11.05" fill="#73b66f"/><rect x="622.43" y="59.08" width="16.82" height="16.81" fill="#e04d45"/><rect x="622.43" y="75.89" width="16.82" height="12.49" fill="#bf413b"/><rect x="622.43" y="88.38" width="16.82" height="7.68" fill="#9c3231"/><rect x="639.26" y="48.03" width="33.64" height="48.03" fill="#73b66f"/><rect x="672.9" y="48.03" width="67.29" height="48.03" fill="#1d1d1d"/><rect x="672.9" y="48.03" width="16.82" height="48.03" fill="#73b66f"/><rect x="689.72" y="48.03" width="16.82" height="16.33" fill="#73b66f"/><rect x="689.72" y="64.36" width="16.82" height="12.01" fill="#e04d45"/><rect x="689.72" y="76.37" width="16.82" height="12.49" fill="#bf413b"/><rect x="689.72" y="88.86" width="16.82" height="7.2" fill="#9c3231"/><rect x="706.55" y="48.03" width="33.64" height="48.03" fill="#73b66f"/><rect x="740.19" y="48.03" width="67.29" height="48.03" fill="#1d1d1d"/><rect x="740.19" y="48.03" width="16.82" height="48.03" fill="#73b66f"/><rect x="757.01" y="48.03" width="16.82" height="19.21" fill="#73b66f"/><rect x="757.01" y="67.24" width="16.82" height="11.53" fill="#e04d45"/><rect x="757.01" y="78.77" width="16.82" height="10.09" fill="#bf413b"/><rect x="757.01" y="88.86" width="16.82" height="7.2" fill="#9c3231"/><rect x="773.84" y="48.03" width="33.64" height="48.03" fill="#73b66f"/><rect x="807.48" y="48.03" width="67.29" height="48.03" fill="#1d1d1d"/><rect x="807.48" y="48.03" width="16.82" height="48.03" fill="#73b66f"/><rect x="824.3" y="48.03" width="16.82" height="20.17" fill="#73b66f"/><rect x="824.3" y="68.2" width="16.82" height="12.49" fill="#e04d45"/><rect x="824.3" y="80.69" width="16.82" height="10.57" fill="#bf413b"/><rect x="824.3" y="91.26" width="16.82" height="4.8" fill="#9c3231"/><rect x="841.12" y="48.03" width="33.65" height="48.03" fill="#73b66f"/><rect x="0" y="96.06" width="67.29" height="48.03" fill="#1d1d1d"/><rect x="0" y="96.06" width="5.61" height="9.61" fill="#73b66f"/><rect x="0" y="105.67" width="5.61" height="18.06" fill="#e04d45"/><rect x="0" y="123.73" width="5.61" height="13.06" fill="#bf413b"/><rect x="0" y="136.79" width="5.61" height="7.3" fill="#9c3231"/><rect x="5.61" y="96.06" width="5.61" height="24.98" fill="#73b66f"/><rect x="5.61" y="121.04" width="5.61" height="10.84" fill="#e04d45"/><rect x="5.61" y="131.87" width="5.61" height="7.84" fill="#bf413b"/><rect x="5.61" y="139.71" width="5.61" height="4.38" fill="#9c3231"/><rect x="11.22" y="96.06" width="5.61" height="21.13" fill="#73b66f"/><rect x="11.22" y="117.19" width="5.61" height="12.64" fill="#e04d45"/><rect x="11.22" y="129.83" width="5.61" height="9.14" fill="#bf413b"/><rect x="11.22" y="138.98" width="5.61" height="5.11" fill="#9c3231"/><rect x="33.65" y="96.06" width="5.61" height="25.94" fill="#73b66f"/><rect x="33.65" y="122" width="5.61" height="10.38" fill="#e04d45"/><rect x="33.65" y="132.38" width="5.61" height="7.51" fill="#bf413b"/><rect x="33.65" y="139.89" width="5.61" height="4.2" fill="#9c3231"/><rect x="39.25" y="96.06" width="5.61" height="13.93" fill="#73b66f"/><rect x="39.25" y="109.99" width="5.61" height="16.03" fill="#e04d45"/><rect x="39.25" y="126.02" width="5.61" height="11.59" fill="#bf413b"/><rect x="39.25" y="137.61" width="5.61" height="6.48" fill="#9c3231"/><rect x="44.86" y="96.06" width="5.61" height="25.94" fill="#73b66f"/><rect x="44.86" y="122" width="5.61" height="10.38" fill="#e04d45"/><rect x="44.86" y="132.38" width="5.61" height="7.51" fill="#bf413b"/><rect x="44.86" y="139.89" width="5.61" height="4.2" fill="#9c3231"/><rect x="50.47" y="96.06" width="5.61" height="19.69" fill="#73b66f"/><rect x="50.47" y="115.75" width="5.61" height="13.32" fill="#e04d45"/><rect x="50.47" y="129.07" width="5.61" height="9.63" fill="#bf413b"/><rect x="50.47" y="138.71" width="5.61" height="5.38" fill="#9c3231"/><rect x="56.08" y="96.06" width="5.61" height="9.61" fill="#73b66f"/><rect x="56.08" y="105.67" width="5.61" height="18.06" fill="#e04d45"/><rect x="56.08" y="123.73" width="5.61" height="13.06" fill="#bf413b"/><rect x="56.08" y="136.79" width="5.61" height="7.3" fill="#9c3231"/><rect x="61.68" y="96.06" width="5.61" height="25.94" fill="#73b66f"/><rect x="61.68" y="122" width="5.61" height="10.38" fill="#e04d45"/><rect x="61.68" y="132.38" width="5.61" height="7.51" fill="#bf413b"/><rect x="61.68" y="139.89" width="5.61" height="4.2" fill="#9c3231"/><rect x="67.29" y="96.06" width="67.29" height="48.03" fill="#1d1d1d"/><rect x="67.29" y="96.06" width="5.61" height="48.03" fill="#73b66f"/><rect x="72.9" y="96.06" width="5.61" height="46.59" fill="#73b66f"/><rect x="72.9" y="142.65" width="5.61" height="1.44" fill="#e04d45"/><rect x="78.51" y="96.06" width="22.43" height="48.03" fill="#73b66f"/><rect x="100.94" y="96.06" width="5.61" height="45.63" fill="#73b66f"/><rect x="100.94" y="141.69" width="5.61" height="2.4" fill="#e04d45"/><rect x="106.54" y="96.06" width="5.61" height="48.03" fill="#73b66f"/><rect x="112.15" y="96.06" width="5.61" height="45.63" fill="#73b66f"/><rect x="112.15" y="141.69" width="5.61" height="2.4" fill="#e04d45"/><rect x="117.76" y="96.06" width="5.61" height="48.03" fill="#73b66f"/><rect x="123.37" y="96.06" width="5.61" height="46.59" fill="#73b66f"/><rect x="123.37" y="142.65" width="5.61" height="1.44" fill="#e04d45"/><rect x="128.97" y="96.06" width="5.61" height="48.03" fill="#73b66f"/><rect x="134.58" y="96.06" width="67.29" height="48.03" fill="#1d1d1d"/><rect x="134.58" y="96.06" width="11.22" height="42.75" fill="#73b66f"/><rect x="134.58" y="138.81" width="11.22" height="5.28" fill="#e04d45"/><rect x="145.8" y="96.06" width="11.22" height="48.03" fill="#73b66f"/><rect x="157.01" y="96.06" width="11.22" height="46.11" fill="#73b66f"/><rect x="157.01" y="142.17" width="11.22" height="1.92" fill="#e04d45"/><rect x="168.23" y="96.06" width="11.21" height="48.03" fill="#73b66f"/><rect x="179.44" y="96.06" width="11.22" height="43.23" fill="#73b66f"/><rect x="179.44" y="139.29" width="11.22" height="4.8" fill="#e04d45"/><rect x="190.66" y="96.06" width="11.22" height="48.03" fill="#73b66f"/><rect x="201.87" y="96.06" width="67.29" height="48.03" fill="#1d1d1d"/><rect x="201.87" y="96.06" width="16.82" height="48.03" fill="#73b66f"/><rect x="218.69" y="96.06" width="16.82" height="21.13" fill="#73b66f"/><rect x="218.69" y="117.19" width="16.82" height="11.05" fill="#e04d45"/><rect x="218.69" y="128.24" width="16.82" height="9.61" fill="#bf413b"/><rect x="218.69" y="137.85" width="16.82" height="6.24" fill="#9c3231"/><rect x="235.52" y="96.06" width="33.65" height="48.03" fill="#73b66f"/><rect x="269.16" y="96.06" width="67.29" height="48.03" fill="#1d1d1d"/><rect x="269.16" y="96.06" width="16.82" height="37.46" fill="#73b66f"/><rect x="269.16" y="133.52" width="16.82" height="10.57" fill="#e04d45"/><rect x="285.98" y="96.06" width="16.82" height="23.53" fill="#73b66f"/><rect x="285.98" y="119.59" width="16.82" height="9.61" fill="#e04d45"/><rect x="285.98" y="129.2" width="16.82" height="10.57" fill="#bf413b"/><rect x="285.98" y="139.77" width="16.82" height="4.32" fill="#9c3231"/><rect x="302.81" y="96.06" width="16.82" height="48.03" fill="#73b66f"/><rect x="319.63" y="96.06" width="16.82" height="36.98" fill="#73b66f"/><rect x="319.63" y="133.04" width="16.82" height="11.05" fill="#e04d45"/><rect x="336.45" y="96.06" width="67.29" height="48.03" fill="#1d1d1d"/><rect x="336.45" y="96.06" width="16.82" height="41.31" fill="#73b66f"/><rect x="336.45" y="137.37" width="16.82" height="6.72" fill="#e04d45"/><rect x="353.27" y="96.06" width="16.82" height="21.13" fill="#73b66f"/><rect x="353.27" y="117.19" width="16.82" height="12.97" fill="#e04d45"/><rect x="353.27" y="130.16" width="16.82" height="9.61" fill="#bf413b"/><rect x="353.27" y="139.77" width="16.82" height="4.32" fill="#9c3231"/><rect x="370.1" y="96.06" width="16.82" height="43.23" fill="#73b66f"/><rect x="370.1" y="139.29" width="16.82" height="4.8" fill="#e04d45"/><rect x="386.92" y="96.06" width="16.82" height="41.79" fill="#73b66f"/><rect x="386.92" y="137.85" width="16.82" height="6.24" fill="#e04d45"/><rect x="403.74" y="96.06" width="67.29" height="48.03" fill="#1d1d1d"/><rect x="403.74" y="96.06" width="33.64" height="19.69" fill="#73b66f"/><rect x="403.74" y="115.75" width="33.64" height="12.49" fill="#e04d45"/><rect x="403.74" y="128.24" width="33.64" height="15.85" fill="#bf413b"/><rect x="437.38" y="96.06" width="16.82" height="25.46" fill="#73b66f"/><rect x="437.38" y="121.52" width="16.82" height="2.4" fill="#e04d45"/><rect x="437.38" y="123.92" width="16.82" height="20.17" fill="#bf413b"/><rect x="454.21" y="96.06" width="16.82" height="19.69" fill="#73b66f"/><rect x="454.21" y="115.75" width="16.82" height="16.81" fill="#e04d45"/><rect x="454.21" y="132.56" width="16.82" height="11.53" fill="#bf413b"/><rect x="471.03" y="96.06" width="67.29" height="48.03" fill="#1d1d1d"/><rect x="471.03" y="96.06" width="16.82" height="17.29" fill="#73b66f"/><rect x="471.03" y="113.35" width="16.82" height="16.33" fill="#e04d45"/><rect x="471.03" y="129.68" width="16.82" height="14.41" fill="#bf413b"/><rect x="504.68" y="96.06" width="16.82" height="38.9" fill="#73b66f"/><rect x="504.68" y="134.96" width="16.82" height="9.13" fill="#e04d45"/><rect x="521.5" y="96.06" width="16.82" height="17.29" fill="#73b66f"/><rect x="521.5" y="113.35" width="16.82" height="20.17" fill="#e04d45"/><rect x="521.5" y="133.52" width="16.82" height="10.57" fill="#bf413b"/><rect x="538.32" y="96.06" width="67.29" height="48.03" fill="#1d1d1d"/><rect x="538.32" y="96.06" width="16.82" height="41.31" fill="#73b66f"/><rect x="538.32" y="137.37" width="16.82" height="6.72" fill="#e04d45"/><rect x="555.14" y="96.06" width="16.82" height="15.37" fill="#73b66f"/><rect x="555.14" y="111.43" width="16.82" height="19.21" fill="#e04d45"/><rect x="555.14" y="130.64" width="16.82" height="13.45" fill="#bf413b"/><rect x="588.79" y="96.06" width="16.82" height="41.31" fill="#73b66f"/><rect x="588.79" y="137.37" width="16.82" height="6.72" fill="#e04d45"/><rect x="605.61" y="96.06" width="67.29" height="48.03" fill="#1d1d1d"/><rect x="605.61" y="96.06" width="16.82" height="21.13" fill="#73b66f"/><rect x="605.61" y="117.19" width="16.82" height="14.89" fill="#e04d45"/><rect x="605.61" y="132.08" width="16.82" height="12.01" fill="#bf413b"/><rect x="622.43" y="96.06" width="16.82" height="19.21" fill="#73b66f"/><rect x="622.43" y="115.27" width="16.82" height="16.81" fill="#e04d45"/><rect x="622.43" y="132.08" width="16.82" height="12.01" fill="#bf413b"/><rect x="639.26" y="96.06" width="16.82" height="21.61" fill="#73b66f"/><rect x="639.26" y="117.67" width="16.82" height="26.42" fill="#bf413b"/><rect x="656.08" y="96.06" width="16.82" height="21.13" fill="#73b66f"/><rect x="656.08" y="117.19" width="16.82" height="9.61" fill="#e04d45"/><rect x="656.08" y="126.8" width="16.82" height="17.29" fill="#bf413b"/><rect x="672.9" y="96.06" width="67.29" height="48.03" fill="#1d1d1d"/><rect x="672.9" y="96.06" width="16.82" height="32.18" fill="#73b66f"/><rect x="672.9" y="128.24" width="16.82" height="15.85" fill="#e04d45"/><rect x="689.72" y="96.06" width="16.82" height="16.33" fill="#73b66f"/><rect x="689.72" y="112.39" width="16.82" height="14.89" fill="#e04d45"/><rect x="689.72" y="127.28" width="16.82" height="16.81" fill="#bf413b"/><rect x="706.55" y="96.06" width="16.82" height="27.86" fill="#73b66f"/><rect x="706.55" y="123.92" width="16.82" height="4.8" fill="#e04d45"/><rect x="706.55" y="128.72" width="16.82" height="15.37" fill="#bf413b"/><rect x="723.37" y="96.06" width="16.82" height="32.18" fill="#73b66f"/><rect x="723.37" y="128.24" width="16.82" height="15.85" fill="#e04d45"/><rect x="740.19" y="96.06" width="67.29" height="48.03" fill="#1d1d1d"/><rect x="740.19" y="96.06" width="16.82" height="48.03" fill="#73b66f"/><rect x="757.01" y="96.06" width="16.82" height="16.33" fill="#73b66f"/><rect x="757.01" y="112.39" width="16.82" height="13.45" fill="#e04d45"/><rect x="757.01" y="125.84" width="16.82" height="12.01" fill="#bf413b"/><rect x="757.01" y="137.85" width="16.82" height="6.24" fill="#9c3231"/><rect x="773.84" y="96.06" width="16.82" height="36.98" fill="#73b66f"/><rect x="773.84" y="133.04" width="16.82" height="11.05" fill="#e04d45"/><rect x="790.66" y="96.06" width="16.82" height="48.03" fill="#73b66f"/><rect x="807.48" y="96.06" width="67.29" height="48.03" fill="#1d1d1d"/><rect x="807.48" y="96.06" width="16.82" height="48.03" fill="#73b66f"/><rect x="824.3" y="96.06" width="16.82" height="14.89" fill="#73b66f"/><rect x="824.3" y="110.95" width="16.82" height="12.97" fill="#e04d45"/><rect x="824.3" y="123.92" width="16.82" height="13.93" fill="#bf413b"/><rect x="824.3" y="137.85" width="16.82" height="6.24" fill="#9c3231"/><rect x="841.12" y="96.06" width="16.82" height="42.75" fill="#73b66f"/><rect x="841.12" y="138.81" width="16.82" height="5.28" fill="#e04d45"/><rect x="857.95" y="96.06" width="16.82" height="48.03" fill="#73b66f"/><rect x="0" y="144.09" width="67.29" height="48.03" fill="#1d1d1d"/><rect x="0" y="144.09" width="5.61" height="9.61" fill="#73b66f"/><rect x="0" y="153.7" width="5.61" height="18.06" fill="#e04d45"/><rect x="0" y="171.76" width="5.61" height="13.06" fill="#bf413b"/><rect x="0" y="184.82" width="5.61" height="7.3" fill="#9c3231"/><rect x="5.61" y="144.09" width="5.61" height="24.02" fill="#73b66f"/><rect x="5.61" y="168.11" width="5.61" height="11.29" fill="#e04d45"/><rect x="5.61" y="179.39" width="5.61" height="8.17" fill="#bf413b"/><rect x="5.61" y="187.56" width="5.61" height="4.56" fill="#9c3231"/><rect x="11.22" y="144.09" width="5.61" height="21.61" fill="#73b66f"/><rect x="11.22" y="165.7" width="5.61" height="12.42" fill="#e04d45"/><rect x="11.22" y="178.12" width="5.61" height="8.98" fill="#bf413b"/><rect x="11.22" y="187.1" width="5.61" height="5.02" fill="#9c3231"/><rect x="33.65" y="144.09" width="5.61" height="22.57" fill="#73b66f"/><rect x="33.65" y="166.66" width="5.61" height="11.96" fill="#e04d45"/><rect x="33.65" y="178.63" width="5.61" height="8.66" fill="#bf413b"/><rect x="33.65" y="187.28" width="5.61" height="4.84" fill="#9c3231"/><rect x="39.25" y="144.09" width="5.61" height="9.13" fill="#73b66f"/><rect x="39.25" y="153.22" width="5.61" height="18.29" fill="#e04d45"/><rect x="39.25" y="171.5" width="5.61" height="13.23" fill="#bf413b"/><rect x="39.25" y="184.73" width="5.61" height="7.39" fill="#9c3231"/><rect x="44.86" y="144.09" width="5.61" height="21.61" fill="#73b66f"/><rect x="44.86" y="165.7" width="5.61" height="12.42" fill="#e04d45"/><rect x="44.86" y="178.12" width="5.61" height="8.98" fill="#bf413b"/><rect x="44.86" y="187.1" width="5.61" height="5.02" fill="#9c3231"/><rect x="50.47" y="144.09" width="5.61" height="19.69" fill="#73b66f"/><rect x="50.47" y="163.78" width="5.61" height="13.32" fill="#e04d45"/><rect x="50.47" y="177.1" width="5.61" height="9.63" fill="#bf413b"/><rect x="50.47" y="186.74" width="5.61" height="5.38" fill="#9c3231"/><rect x="56.08" y="144.09" width="5.61" height="7.2" fill="#73b66f"/><rect x="56.08" y="151.29" width="5.61" height="19.19" fill="#e04d45"/><rect x="56.08" y="170.48" width="5.61" height="13.88" fill="#bf413b"/><rect x="56.08" y="184.36" width="5.61" height="7.76" fill="#9c3231"/><rect x="61.68" y="144.09" width="5.61" height="22.57" fill="#73b66f"/><rect x="61.68" y="166.66" width="5.61" height="11.96" fill="#e04d45"/><rect x="61.68" y="178.63" width="5.61" height="8.66" fill="#bf413b"/><rect x="61.68" y="187.28" width="5.61" height="4.84" fill="#9c3231"/><rect x="67.29" y="144.09" width="67.29" height="48.03" fill="#1d1d1d"/><rect x="67.29" y="144.09" width="33.64" height="48.03" fill="#73b66f"/><rect x="100.94" y="144.09" width="5.61" height="47.07" fill="#73b66f"/><rect x="100.94" y="191.16" width="5.61" height="0.96" fill="#e04d45"/><rect x="106.54" y="144.09" width="5.61" height="48.03" fill="#73b66f"/><rect x="112.15" y="144.09" width="5.61" height="47.07" fill="#73b66f"/><rect x="112.15" y="191.16" width="5.61" height="0.96" fill="#e04d45"/><rect x="117.76" y="144.09" width="16.82" height="48.03" fill="#73b66f"/><rect x="134.58" y="144.09" width="67.29" height="48.03" fill="#1d1d1d"/><rect x="134.58" y="144.09" width="5.61" height="37.46" fill="#73b66f"/><rect x="134.58" y="181.55" width="5.61" height="10.57" fill="#e04d45"/><rect x="140.19" y="144.09" width="16.82" height="43.71" fill="#73b66f"/><rect x="140.19" y="187.8" width="16.82" height="4.32" fill="#e04d45"/><rect x="157.01" y="144.09" width="5.61" height="45.63" fill="#73b66f"/><rect x="157.01" y="189.72" width="5.61" height="2.4" fill="#e04d45"/><rect x="162.62" y="144.09" width="5.61" height="43.23" fill="#73b66f"/><rect x="162.62" y="187.32" width="5.61" height="4.8" fill="#e04d45"/><rect x="168.23" y="144.09" width="11.21" height="42.27" fill="#73b66f"/><rect x="168.23" y="186.36" width="11.21" height="5.76" fill="#e04d45"/><rect x="179.44" y="144.09" width="22.43" height="43.71" fill="#73b66f"/><rect x="179.44" y="187.8" width="22.43" height="4.32" fill="#e04d45"/><rect x="201.87" y="144.09" width="67.29" height="48.03" fill="#1d1d1d"/><rect x="201.87" y="144.09" width="11.22" height="27.86" fill="#73b66f"/><rect x="201.87" y="171.95" width="11.22" height="20.17" fill="#e04d45"/><rect x="213.09" y="144.09" width="11.22" height="48.03" fill="#73b66f"/><rect x="224.3" y="144.09" width="11.22" height="34.1" fill="#73b66f"/><rect x="224.3" y="178.19" width="11.22" height="13.93" fill="#e04d45"/><rect x="235.52" y="144.09" width="11.22" height="48.03" fill="#73b66f"/><rect x="246.73" y="144.09" width="11.22" height="27.86" fill="#73b66f"/><rect x="246.73" y="171.95" width="11.22" height="20.17" fill="#e04d45"/><rect x="257.95" y="144.09" width="11.21" height="48.03" fill="#73b66f"/><rect x="269.16" y="144.09" width="67.29" height="48.03" fill="#1d1d1d"/><rect x="269.16" y="144.09" width="33.65" height="25.46" fill="#73b66f"/><rect x="269.16" y="169.55" width="33.65" height="9.61" fill="#e04d45"/><rect x="269.16" y="179.15" width="33.65" height="12.97" fill="#bf413b"/><rect x="302.81" y="144.09" width="16.82" height="7.2" fill="#73b66f"/><rect x="302.81" y="151.29" width="16.82" height="40.83" fill="#bf413b"/><rect x="319.63" y="144.09" width="16.82" height="25.46" fill="#73b66f"/><rect x="319.63" y="169.55" width="16.82" height="9.61" fill="#e04d45"/><rect x="319.63" y="179.15" width="16.82" height="12.97" fill="#bf413b"/><rect x="336.45" y="144.09" width="67.29" height="48.03" fill="#1d1d1d"/><rect x="336.45" y="144.09" width="16.82" height="34.1" fill="#73b66f"/><rect x="336.45" y="178.19" width="16.82" height="7.2" fill="#e04d45"/><rect x="336.45" y="185.4" width="16.82" height="6.72" fill="#bf413b"/><rect x="353.27" y="144.09" width="16.82" height="19.69" fill="#73b66f"/><rect x="353.27" y="163.78" width="16.82" height="15.37" fill="#e04d45"/><rect x="353.27" y="179.15" width="16.82" height="7.2" fill="#bf413b"/><rect x="353.27" y="186.36" width="16.82" height="5.76" fill="#9c3231"/><rect x="370.1" y="144.09" width="16.82" height="11.53" fill="#73b66f"/><rect x="370.1" y="155.62" width="16.82" height="30.74" fill="#bf413b"/><rect x="370.1" y="186.36" width="16.82" height="5.76" fill="#9c3231"/><rect x="386.92" y="144.09" width="16.82" height="34.1" fill="#73b66f"/><rect x="386.92" y="178.19" width="16.82" height="7.2" fill="#e04d45"/><rect x="386.92" y="185.4" width="16.82" height="6.72" fill="#bf413b"/><rect x="403.74" y="144.09" width="67.29" height="48.03" fill="#1d1d1d"/><rect x="403.74" y="144.09" width="16.82" height="23.53" fill="#73b66f"/><rect x="403.74" y="167.62" width="16.82" height="9.61" fill="#e04d45"/><rect x="403.74" y="177.23" width="16.82" height="14.89" fill="#bf413b"/><rect x="420.56" y="144.09" width="16.82" height="21.61" fill="#73b66f"/><rect x="420.56" y="165.7" width="16.82" height="11.53" fill="#e04d45"/><rect x="420.56" y="177.23" width="16.82" height="14.89" fill="#bf413b"/><rect x="437.38" y="144.09" width="16.82" height="12.49" fill="#73b66f"/><rect x="437.38" y="156.58" width="16.82" height="30.74" fill="#bf413b"/><rect x="437.38" y="187.32" width="16.82" height="4.8" fill="#9c3231"/><rect x="454.21" y="144.09" width="16.82" height="23.53" fill="#73b66f"/><rect x="454.21" y="167.62" width="16.82" height="17.29" fill="#e04d45"/><rect x="454.21" y="184.92" width="16.82" height="7.2" fill="#bf413b"/><rect x="471.03" y="144.09" width="67.29" height="48.03" fill="#1d1d1d"/><rect x="471.03" y="144.09" width="16.82" height="22.57" fill="#73b66f"/><rect x="471.03" y="166.66" width="16.82" height="19.69" fill="#e04d45"/><rect x="471.03" y="186.36" width="16.82" height="5.76" fill="#bf413b"/><rect x="504.68" y="144.09" width="16.82" height="22.57" fill="#73b66f"/><rect x="504.68" y="166.66" width="16.82" height="16.33" fill="#e04d45"/><rect x="504.68" y="182.99" width="16.82" height="5.28" fill="#bf413b"/><rect x="504.68" y="188.28" width="16.82" height="3.84" fill="#9c3231"/><rect x="521.5" y="144.09" width="16.82" height="22.57" fill="#73b66f"/><rect x="521.5" y="166.66" width="16.82" height="23.05" fill="#e04d45"/><rect x="521.5" y="189.72" width="16.82" height="2.4" fill="#bf413b"/><rect x="538.32" y="144.09" width="67.29" height="48.03" fill="#1d1d1d"/><rect x="538.32" y="144.09" width="16.82" height="37.94" fill="#73b66f"/><rect x="538.32" y="182.03" width="16.82" height="10.09" fill="#e04d45"/><rect x="555.14" y="144.09" width="16.82" height="9.13" fill="#73b66f"/><rect x="555.14" y="153.22" width="16.82" height="17.77" fill="#e04d45"/><rect x="555.14" y="170.99" width="16.82" height="12.01" fill="#bf413b"/><rect x="555.14" y="182.99" width="16.82" height="9.13" fill="#9c3231"/><rect x="588.79" y="144.09" width="16.82" height="38.9" fill="#73b66f"/><rect x="588.79" y="182.99" width="16.82" height="9.13" fill="#e04d45"/><rect x="605.61" y="144.09" width="67.29" height="48.03" fill="#1d1d1d"/><rect x="605.61" y="144.09" width="16.82" height="21.61" fill="#73b66f"/><rect x="605.61" y="165.7" width="16.82" height="19.69" fill="#e04d45"/><rect x="605.61" y="185.4" width="16.82" height="6.72" fill="#bf413b"/><rect x="622.43" y="144.09" width="16.82" height="21.61" fill="#73b66f"/><rect x="622.43" y="165.7" width="16.82" height="9.13" fill="#e04d45"/><rect x="622.43" y="174.83" width="16.82" height="17.29" fill="#bf413b"/><rect x="639.26" y="144.09" width="16.82" height="3.84" fill="#73b66f"/><rect x="639.26" y="147.93" width="16.82" height="10.09" fill="#e04d45"/><rect x="639.26" y="158.02" width="16.82" height="19.69" fill="#bf413b"/><rect x="639.26" y="177.71" width="16.82" height="14.41" fill="#9c3231"/><rect x="656.08" y="144.09" width="16.82" height="20.65" fill="#73b66f"/><rect x="656.08" y="164.74" width="16.82" height="12.49" fill="#e04d45"/><rect x="656.08" y="177.23" width="16.82" height="14.89" fill="#bf413b"/><rect x="672.9" y="144.09" width="67.29" height="48.03" fill="#1d1d1d"/><rect x="672.9" y="144.09" width="16.82" height="31.7" fill="#73b66f"/><rect x="672.9" y="175.79" width="16.82" height="16.33" fill="#e04d45"/><rect x="689.72" y="144.09" width="16.82" height="12.97" fill="#73b66f"/><rect x="689.72" y="157.06" width="16.82" height="16.81" fill="#e04d45"/><rect x="689.72" y="173.87" width="16.82" height="13.45" fill="#bf413b"/><rect x="689.72" y="187.32" width="16.82" height="4.8" fill="#9c3231"/><rect x="706.55" y="144.09" width="16.82" height="12.97" fill="#73b66f"/><rect x="706.55" y="157.06" width="16.82" height="11.05" fill="#e04d45"/><rect x="706.55" y="168.11" width="16.82" height="14.89" fill="#bf413b"/><rect x="706.55" y="182.99" width="16.82" height="9.13" fill="#9c3231"/><rect x="723.37" y="144.09" width="16.82" height="31.7" fill="#73b66f"/><rect x="723.37" y="175.79" width="16.82" height="16.33" fill="#e04d45"/><rect x="740.19" y="144.09" width="67.29" height="48.03" fill="#1d1d1d"/><rect x="740.19" y="144.09" width="16.82" height="48.03" fill="#73b66f"/><rect x="757.01" y="144.09" width="16.82" height="13.93" fill="#73b66f"/><rect x="757.01" y="158.02" width="16.82" height="15.85" fill="#e04d45"/><rect x="757.01" y="173.87" width="16.82" height="12.49" fill="#bf413b"/><rect x="757.01" y="186.36" width="16.82" height="5.76" fill="#9c3231"/><rect x="773.84" y="144.09" width="16.82" height="29.3" fill="#73b66f"/><rect x="773.84" y="173.39" width="16.82" height="6.72" fill="#e04d45"/><rect x="773.84" y="180.11" width="16.82" height="9.61" fill="#bf413b"/><rect x="773.84" y="189.72" width="16.82" height="2.4" fill="#9c3231"/><rect x="790.66" y="144.09" width="16.82" height="48.03" fill="#73b66f"/><rect x="807.48" y="144.09" width="67.29" height="48.03" fill="#1d1d1d"/><rect x="807.48" y="144.09" width="16.82" height="48.03" fill="#73b66f"/><rect x="824.3" y="144.09" width="16.82" height="11.05" fill="#73b66f"/><rect x="824.3" y="155.14" width="16.82" height="16.33" fill="#e04d45"/><rect x="824.3" y="171.47" width="16.82" height="14.89" fill="#bf413b"/><rect x="824.3" y="186.36" width="16.82" height="5.76" fill="#9c3231"/><rect x="841.12" y="144.09" width="16.82" height="36.98" fill="#73b66f"/><rect x="841.12" y="181.07" width="16.82" height="6.24" fill="#e04d45"/><rect x="841.12" y="187.32" width="16.82" height="4.8" fill="#bf413b"/><rect x="857.95" y="144.09" width="16.82" height="48.03" fill="#73b66f"/><rect x="0" y="192.12" width="67.29" height="48.03" fill="#1d1d1d"/><rect x="0" y="192.12" width="5.61" height="9.61" fill="#73b66f"/><rect x="0" y="201.73" width="5.61" height="18.06" fill="#e04d45"/><rect x="0" y="219.79" width="5.61" height="13.06" fill="#bf413b"/><rect x="0" y="232.85" width="5.61" height="7.3" fill="#9c3231"/><rect x="5.61" y="192.12" width="5.61" height="24.5" fill="#73b66f"/><rect x="5.61" y="216.62" width="5.61" height="11.06" fill="#e04d45"/><rect x="5.61" y="227.68" width="5.61" height="8" fill="#bf413b"/><rect x="5.61" y="235.68" width="5.61" height="4.47" fill="#9c3231"/><rect x="11.22" y="192.12" width="5.61" height="21.61" fill="#73b66f"/><rect x="11.22" y="213.73" width="5.61" height="12.42" fill="#e04d45"/><rect x="11.22" y="226.15" width="5.61" height="8.98" fill="#bf413b"/><rect x="11.22" y="235.13" width="5.61" height="5.02" fill="#9c3231"/><rect x="33.65" y="192.12" width="5.61" height="23.53" fill="#73b66f"/><rect x="33.65" y="215.65" width="5.61" height="11.51" fill="#e04d45"/><rect x="33.65" y="227.17" width="5.61" height="8.33" fill="#bf413b"/><rect x="33.65" y="235.5" width="5.61" height="4.65" fill="#9c3231"/><rect x="39.25" y="192.12" width="5.61" height="9.13" fill="#73b66f"/><rect x="39.25" y="201.25" width="5.61" height="18.29" fill="#e04d45"/><rect x="39.25" y="219.53" width="5.61" height="13.23" fill="#bf413b"/><rect x="39.25" y="232.76" width="5.61" height="7.39" fill="#9c3231"/><rect x="44.86" y="192.12" width="5.61" height="23.53" fill="#73b66f"/><rect x="44.86" y="215.65" width="5.61" height="11.51" fill="#e04d45"/><rect x="44.86" y="227.17" width="5.61" height="8.33" fill="#bf413b"/><rect x="44.86" y="235.5" width="5.61" height="4.65" fill="#9c3231"/><rect x="50.47" y="192.12" width="5.61" height="17.29" fill="#73b66f"/><rect x="50.47" y="209.41" width="5.61" height="14.45" fill="#e04d45"/><rect x="50.47" y="223.86" width="5.61" height="10.45" fill="#bf413b"/><rect x="50.47" y="234.31" width="5.61" height="5.84" fill="#9c3231"/><rect x="56.08" y="192.12" width="5.61" height="7.2" fill="#73b66f"/><rect x="56.08" y="199.32" width="5.61" height="19.19" fill="#e04d45"/><rect x="56.08" y="218.51" width="5.61" height="13.88" fill="#bf413b"/><rect x="56.08" y="232.39" width="5.61" height="7.76" fill="#9c3231"/><rect x="61.68" y="192.12" width="5.61" height="21.61" fill="#73b66f"/><rect x="61.68" y="213.73" width="5.61" height="12.42" fill="#e04d45"/><rect x="61.68" y="226.15" width="5.61" height="8.98" fill="#bf413b"/><rect x="61.68" y="235.13" width="5.61" height="5.02" fill="#9c3231"/><rect x="67.29" y="192.12" width="67.29" height="48.03" fill="#1d1d1d"/><rect x="67.29" y="192.12" width="5.61" height="39.86" fill="#73b66f"/><rect x="67.29" y="231.98" width="5.61" height="8.17" fill="#e04d45"/><rect x="72.9" y="192.12" width="11.22" height="42.27" fill="#73b66f"/><rect x="72.9" y="234.39" width="11.22" height="5.76" fill="#e04d45"/><rect x="84.11" y="192.12" width="16.82" height="44.19" fill="#73b66f"/><rect x="84.11" y="236.31" width="16.82" height="3.84" fill="#e04d45"/><rect x="100.94" y="192.12" width="5.61" height="38.9" fill="#73b66f"/><rect x="100.94" y="231.02" width="5.61" height="9.13" fill="#e04d45"/><rect x="106.54" y="192.12" width="16.82" height="42.75" fill="#73b66f"/><rect x="106.54" y="234.87" width="16.82" height="5.28" fill="#e04d45"/><rect x="123.37" y="192.12" width="11.22" height="41.79" fill="#73b66f"/><rect x="123.37" y="233.91" width="11.22" height="6.24" fill="#e04d45"/><rect x="134.58" y="192.12" width="67.29" height="48.03" fill="#1d1d1d"/><rect x="134.58" y="192.12" width="5.61" height="11.05" fill="#73b66f"/><rect x="134.58" y="203.17" width="5.61" height="17.38" fill="#e04d45"/><rect x="134.58" y="220.55" width="5.61" height="12.57" fill="#bf413b"/><rect x="134.58" y="233.12" width="5.61" height="7.03" fill="#9c3231"/><rect x="140.19" y="192.12" width="5.61" height="31.7" fill="#73b66f"/><rect x="140.19" y="223.82" width="5.61" height="7.68" fill="#e04d45"/><rect x="140.19" y="231.49" width="5.61" height="5.55" fill="#bf413b"/><rect x="140.19" y="237.05" width="5.61" height="3.1" fill="#9c3231"/><rect x="145.8" y="192.12" width="5.61" height="28.82" fill="#73b66f"/><rect x="145.8" y="220.94" width="5.61" height="9.03" fill="#e04d45"/><rect x="145.8" y="229.97" width="5.61" height="6.53" fill="#bf413b"/><rect x="145.8" y="236.5" width="5.61" height="3.65" fill="#9c3231"/><rect x="151.4" y="192.12" width="5.61" height="25.46" fill="#73b66f"/><rect x="151.4" y="217.58" width="5.61" height="10.61" fill="#e04d45"/><rect x="151.4" y="228.19" width="5.61" height="7.68" fill="#bf413b"/><rect x="151.4" y="235.86" width="5.61" height="4.29" fill="#9c3231"/><rect x="157.01" y="192.12" width="5.61" height="27.86" fill="#73b66f"/><rect x="157.01" y="219.98" width="5.61" height="9.48" fill="#e04d45"/><rect x="157.01" y="229.46" width="5.61" height="6.86" fill="#bf413b"/><rect x="157.01" y="236.32" width="5.61" height="3.83" fill="#9c3231"/><rect x="162.62" y="192.12" width="5.61" height="25.46" fill="#73b66f"/><rect x="162.62" y="217.58" width="5.61" height="10.61" fill="#e04d45"/><rect x="162.62" y="228.19" width="5.61" height="7.68" fill="#bf413b"/><rect x="162.62" y="235.86" width="5.61" height="4.29" fill="#9c3231"/><rect x="168.23" y="192.12" width="5.61" height="30.74" fill="#73b66f"/><rect x="168.23" y="222.86" width="5.61" height="8.13" fill="#e04d45"/><rect x="168.23" y="230.99" width="5.61" height="5.88" fill="#bf413b"/><rect x="168.23" y="236.86" width="5.61" height="3.29" fill="#9c3231"/><rect x="173.83" y="192.12" width="5.61" height="15.37" fill="#73b66f"/><rect x="173.83" y="207.49" width="5.61" height="15.35" fill="#e04d45"/><rect x="173.83" y="222.84" width="5.61" height="11.1" fill="#bf413b"/><rect x="173.83" y="233.94" width="5.61" height="6.21" fill="#9c3231"/><rect x="179.44" y="192.12" width="5.61" height="29.78" fill="#73b66f"/><rect x="179.44" y="221.9" width="5.61" height="8.58" fill="#e04d45"/><rect x="179.44" y="230.48" width="5.61" height="6.21" fill="#bf413b"/><rect x="179.44" y="236.68" width="5.61" height="3.47" fill="#9c3231"/><rect x="185.05" y="192.12" width="5.61" height="28.82" fill="#73b66f"/><rect x="185.05" y="220.94" width="5.61" height="9.03" fill="#e04d45"/><rect x="185.05" y="229.97" width="5.61" height="6.53" fill="#bf413b"/><rect x="185.05" y="236.5" width="5.61" height="3.65" fill="#9c3231"/><rect x="190.66" y="192.12" width="5.61" height="11.05" fill="#73b66f"/><rect x="190.66" y="203.17" width="5.61" height="17.38" fill="#e04d45"/><rect x="190.66" y="220.55" width="5.61" height="12.57" fill="#bf413b"/><rect x="190.66" y="233.12" width="5.61" height="7.03" fill="#9c3231"/><rect x="196.26" y="192.12" width="5.61" height="31.7" fill="#73b66f"/><rect x="196.26" y="223.82" width="5.61" height="7.68" fill="#e04d45"/><rect x="196.26" y="231.49" width="5.61" height="5.55" fill="#bf413b"/><rect x="196.26" y="237.05" width="5.61" height="3.1" fill="#9c3231"/><rect x="201.87" y="192.12" width="67.29" height="48.03" fill="#1d1d1d"/><rect x="201.87" y="192.12" width="5.61" height="11.05" fill="#73b66f"/><rect x="201.87" y="203.17" width="5.61" height="17.38" fill="#e04d45"/><rect x="201.87" y="220.55" width="5.61" height="12.57" fill="#bf413b"/><rect x="201.87" y="233.12" width="5.61" height="7.03" fill="#9c3231"/><rect x="207.48" y="192.12" width="5.61" height="28.82" fill="#73b66f"/><rect x="207.48" y="220.94" width="5.61" height="9.03" fill="#e04d45"/><rect x="207.48" y="229.97" width="5.61" height="6.53" fill="#bf413b"/><rect x="207.48" y="236.5" width="5.61" height="3.65" fill="#9c3231"/><rect x="213.09" y="192.12" width="5.61" height="20.65" fill="#73b66f"/><rect x="213.09" y="212.77" width="5.61" height="12.87" fill="#e04d45"/><rect x="213.09" y="225.64" width="5.61" height="9.31" fill="#bf413b"/><rect x="213.09" y="234.95" width="5.61" height="5.2" fill="#9c3231"/><rect x="218.69" y="192.12" width="5.61" height="20.17" fill="#73b66f"/><rect x="218.69" y="212.29" width="5.61" height="13.09" fill="#e04d45"/><rect x="218.69" y="225.39" width="5.61" height="9.47" fill="#bf413b"/><rect x="218.69" y="234.86" width="5.61" height="5.29" fill="#9c3231"/><rect x="224.3" y="192.12" width="5.61" height="26.42" fill="#73b66f"/><rect x="224.3" y="218.54" width="5.61" height="10.16" fill="#e04d45"/><rect x="224.3" y="228.69" width="5.61" height="7.35" fill="#bf413b"/><rect x="224.3" y="236.04" width="5.61" height="4.11" fill="#9c3231"/><rect x="229.91" y="192.12" width="5.61" height="20.65" fill="#73b66f"/><rect x="229.91" y="212.77" width="5.61" height="12.87" fill="#e04d45"/><rect x="229.91" y="225.64" width="5.61" height="9.31" fill="#bf413b"/><rect x="229.91" y="234.95" width="5.61" height="5.2" fill="#9c3231"/><rect x="235.52" y="192.12" width="5.61" height="30.74" fill="#73b66f"/><rect x="235.52" y="222.86" width="5.61" height="8.13" fill="#e04d45"/><rect x="235.52" y="230.99" width="5.61" height="5.88" fill="#bf413b"/><rect x="235.52" y="236.86" width="5.61" height="3.29" fill="#9c3231"/><rect x="241.12" y="192.12" width="5.61" height="19.21" fill="#73b66f"/><rect x="241.12" y="211.33" width="5.61" height="13.54" fill="#e04d45"/><rect x="241.12" y="224.88" width="5.61" height="9.8" fill="#bf413b"/><rect x="241.12" y="234.67" width="5.61" height="5.48" fill="#9c3231"/><rect x="246.73" y="192.12" width="5.61" height="30.74" fill="#73b66f"/><rect x="246.73" y="222.86" width="5.61" height="8.13" fill="#e04d45"/><rect x="246.73" y="230.99" width="5.61" height="5.88" fill="#bf413b"/><rect x="246.73" y="236.86" width="5.61" height="3.29" fill="#9c3231"/><rect x="252.34" y="192.12" width="5.61" height="15.37" fill="#73b66f"/><rect x="252.34" y="207.49" width="5.61" height="15.35" fill="#e04d45"/><rect x="252.34" y="222.84" width="5.61" height="11.1" fill="#bf413b"/><rect x="252.34" y="233.94" width="5.61" height="6.21" fill="#9c3231"/><rect x="257.95" y="192.12" width="5.61" height="9.13" fill="#73b66f"/><rect x="257.95" y="201.25" width="5.61" height="18.29" fill="#e04d45"/><rect x="257.95" y="219.53" width="5.61" height="13.23" fill="#bf413b"/><rect x="257.95" y="232.76" width="5.61" height="7.39" fill="#9c3231"/><rect x="263.55" y="192.12" width="5.61" height="29.78" fill="#73b66f"/><rect x="263.55" y="221.9" width="5.61" height="8.58" fill="#e04d45"/><rect x="263.55" y="230.48" width="5.61" height="6.21" fill="#bf413b"/><rect x="263.55" y="236.68" width="5.61" height="3.47" fill="#9c3231"/><rect x="269.16" y="192.12" width="67.29" height="48.03" fill="#1d1d1d"/><rect x="269.16" y="192.12" width="11.21" height="29.78" fill="#73b66f"/><rect x="269.16" y="221.9" width="11.21" height="15.37" fill="#e04d45"/><rect x="269.16" y="237.27" width="11.21" height="2.88" fill="#bf413b"/><rect x="280.38" y="192.12" width="11.22" height="44.67" fill="#73b66f"/><rect x="280.38" y="236.79" width="11.22" height="3.36" fill="#e04d45"/><rect x="291.59" y="192.12" width="11.22" height="33.14" fill="#73b66f"/><rect x="291.59" y="225.26" width="11.22" height="12.01" fill="#e04d45"/><rect x="291.59" y="237.27" width="11.22" height="2.88" fill="#bf413b"/><rect x="302.81" y="192.12" width="11.21" height="44.67" fill="#73b66f"/><rect x="302.81" y="236.79" width="11.21" height="3.36" fill="#e04d45"/><rect x="314.02" y="192.12" width="11.21" height="29.78" fill="#73b66f"/><rect x="314.02" y="221.9" width="11.21" height="15.37" fill="#e04d45"/><rect x="314.02" y="237.27" width="11.21" height="2.88" fill="#bf413b"/><rect x="325.24" y="192.12" width="11.22" height="44.67" fill="#73b66f"/><rect x="325.24" y="236.79" width="11.22" height="3.36" fill="#e04d45"/><rect x="336.45" y="192.12" width="67.29" height="48.03" fill="#1d1d1d"/><rect x="336.45" y="192.12" width="16.82" height="15.37" fill="#73b66f"/><rect x="336.45" y="207.49" width="16.82" height="10.09" fill="#e04d45"/><rect x="336.45" y="217.58" width="16.82" height="22.57" fill="#bf413b"/><rect x="353.27" y="192.12" width="16.82" height="22.57" fill="#e04d45"/><rect x="353.27" y="214.69" width="16.82" height="25.46" fill="#bf413b"/><rect x="370.1" y="192.12" width="16.82" height="48.03" fill="#e04d45"/><rect x="386.92" y="192.12" width="16.82" height="14.41" fill="#73b66f"/><rect x="386.92" y="206.53" width="16.82" height="11.05" fill="#e04d45"/><rect x="386.92" y="217.58" width="16.82" height="22.57" fill="#bf413b"/><rect x="403.74" y="192.12" width="67.29" height="48.03" fill="#1d1d1d"/><rect x="403.74" y="192.12" width="16.82" height="18.25" fill="#73b66f"/><rect x="403.74" y="210.37" width="16.82" height="9.13" fill="#e04d45"/><rect x="403.74" y="219.5" width="16.82" height="20.65" fill="#bf413b"/><rect x="420.56" y="192.12" width="16.82" height="1.92" fill="#73b66f"/><rect x="420.56" y="194.04" width="16.82" height="25.46" fill="#e04d45"/><rect x="420.56" y="219.5" width="16.82" height="20.65" fill="#bf413b"/><rect x="437.38" y="192.12" width="16.82" height="4.32" fill="#73b66f"/><rect x="437.38" y="196.44" width="16.82" height="17.29" fill="#e04d45"/><rect x="437.38" y="213.73" width="16.82" height="26.42" fill="#bf413b"/><rect x="454.21" y="192.12" width="16.82" height="18.25" fill="#73b66f"/><rect x="454.21" y="210.37" width="16.82" height="24.98" fill="#e04d45"/><rect x="454.21" y="235.35" width="16.82" height="4.8" fill="#bf413b"/><rect x="471.03" y="192.12" width="67.29" height="48.03" fill="#1d1d1d"/><rect x="471.03" y="192.12" width="16.82" height="30.74" fill="#73b66f"/><rect x="471.03" y="222.86" width="16.82" height="17.29" fill="#e04d45"/><rect x="504.68" y="192.12" width="16.82" height="20.65" fill="#73b66f"/><rect x="504.68" y="212.77" width="16.82" height="27.38" fill="#e04d45"/><rect x="521.5" y="192.12" width="16.82" height="30.74" fill="#73b66f"/><rect x="521.5" y="222.86" width="16.82" height="17.29" fill="#e04d45"/><rect x="538.32" y="192.12" width="67.29" height="48.03" fill="#1d1d1d"/><rect x="538.32" y="192.12" width="16.82" height="38.42" fill="#73b66f"/><rect x="538.32" y="230.54" width="16.82" height="9.61" fill="#e04d45"/><rect x="555.14" y="192.12" width="16.82" height="19.21" fill="#73b66f"/><rect x="555.14" y="211.33" width="16.82" height="10.09" fill="#e04d45"/><rect x="555.14" y="221.42" width="16.82" height="10.57" fill="#bf413b"/><rect x="555.14" y="231.98" width="16.82" height="8.17" fill="#9c3231"/><rect x="588.79" y="192.12" width="16.82" height="38.42" fill="#73b66f"/><rect x="588.79" y="230.54" width="16.82" height="9.61" fill="#e04d45"/><rect x="605.61" y="192.12" width="67.29" height="48.03" fill="#1d1d1d"/><rect x="605.61" y="192.12" width="16.82" height="24.01" fill="#73b66f"/><rect x="605.61" y="216.13" width="16.82" height="21.61" fill="#e04d45"/><rect x="605.61" y="237.75" width="16.82" height="2.4" fill="#bf413b"/><rect x="622.43" y="192.12" width="16.82" height="24.01" fill="#73b66f"/><rect x="622.43" y="216.13" width="16.82" height="12.01" fill="#e04d45"/><rect x="622.43" y="228.14" width="16.82" height="12.01" fill="#bf413b"/><rect x="639.26" y="192.12" width="16.82" height="0.96" fill="#73b66f"/><rect x="639.26" y="193.08" width="16.82" height="18.25" fill="#e04d45"/><rect x="639.26" y="211.33" width="16.82" height="24.02" fill="#bf413b"/><rect x="639.26" y="235.35" width="16.82" height="4.8" fill="#9c3231"/><rect x="656.08" y="192.12" width="16.82" height="24.01" fill="#73b66f"/><rect x="656.08" y="216.13" width="16.82" height="12.01" fill="#e04d45"/><rect x="656.08" y="228.14" width="16.82" height="12.01" fill="#bf413b"/><rect x="672.9" y="192.12" width="67.29" height="48.03" fill="#1d1d1d"/><rect x="672.9" y="192.12" width="16.82" height="27.38" fill="#73b66f"/><rect x="672.9" y="219.5" width="16.82" height="18.25" fill="#e04d45"/><rect x="672.9" y="237.75" width="16.82" height="2.4" fill="#bf413b"/><rect x="689.72" y="192.12" width="16.82" height="20.17" fill="#73b66f"/><rect x="689.72" y="212.29" width="16.82" height="14.89" fill="#e04d45"/><rect x="689.72" y="227.18" width="16.82" height="12.97" fill="#bf413b"/><rect x="706.55" y="192.12" width="16.82" height="6.24" fill="#73b66f"/><rect x="706.55" y="198.36" width="16.82" height="18.73" fill="#e04d45"/><rect x="706.55" y="217.1" width="16.82" height="15.85" fill="#bf413b"/><rect x="706.55" y="232.95" width="16.82" height="7.2" fill="#9c3231"/><rect x="723.37" y="192.12" width="16.82" height="27.38" fill="#73b66f"/><rect x="723.37" y="219.5" width="16.82" height="15.85" fill="#e04d45"/><rect x="723.37" y="235.35" width="16.82" height="4.8" fill="#bf413b"/><rect x="740.19" y="192.12" width="67.29" height="48.03" fill="#1d1d1d"/><rect x="740.19" y="192.12" width="16.82" height="41.79" fill="#73b66f"/><rect x="740.19" y="233.91" width="16.82" height="6.24" fill="#e04d45"/><rect x="757.01" y="192.12" width="16.82" height="24.98" fill="#73b66f"/><rect x="757.01" y="217.1" width="16.82" height="10.09" fill="#e04d45"/><rect x="757.01" y="227.18" width="16.82" height="12.97" fill="#bf413b"/><rect x="773.84" y="192.12" width="16.82" height="21.61" fill="#73b66f"/><rect x="773.84" y="213.73" width="16.82" height="10.09" fill="#e04d45"/><rect x="773.84" y="223.82" width="16.82" height="16.33" fill="#bf413b"/><rect x="790.66" y="192.12" width="16.82" height="41.79" fill="#73b66f"/><rect x="790.66" y="233.91" width="16.82" height="6.24" fill="#e04d45"/><rect x="807.48" y="192.12" width="67.29" height="48.03" fill="#1d1d1d"/><rect x="807.48" y="192.12" width="16.82" height="48.03" fill="#73b66f"/><rect x="824.3" y="192.12" width="16.82" height="22.57" fill="#73b66f"/><rect x="824.3" y="214.69" width="16.82" height="12.49" fill="#e04d45"/><rect x="824.3" y="227.18" width="16.82" height="12.97" fill="#bf413b"/><rect x="841.12" y="192.12" width="16.82" height="29.3" fill="#73b66f"/><rect x="841.12" y="221.42" width="16.82" height="9.13" fill="#e04d45"/><rect x="841.12" y="230.54" width="16.82" height="9.61" fill="#bf413b"/><rect x="857.95" y="192.12" width="16.82" height="48.03" fill="#73b66f"/><rect x="0" y="240.15" width="67.29" height="48.03" fill="#1d1d1d"/><rect x="0" y="240.15" width="5.61" height="9.61" fill="#73b66f"/><rect x="0" y="249.76" width="5.61" height="18.06" fill="#e04d45"/><rect x="0" y="267.82" width="5.61" height="13.06" fill="#bf413b"/><rect x="0" y="280.88" width="5.61" height="7.3" fill="#9c3231"/><rect x="5.61" y="240.15" width="5.61" height="24.02" fill="#73b66f"/><rect x="5.61" y="264.17" width="5.61" height="11.29" fill="#e04d45"/><rect x="5.61" y="275.45" width="5.61" height="8.17" fill="#bf413b"/><rect x="5.61" y="283.62" width="5.61" height="4.56" fill="#9c3231"/><rect x="11.22" y="240.15" width="5.61" height="21.61" fill="#73b66f"/><rect x="11.22" y="261.76" width="5.61" height="12.42" fill="#e04d45"/><rect x="11.22" y="274.18" width="5.61" height="8.98" fill="#bf413b"/><rect x="11.22" y="283.16" width="5.61" height="5.02" fill="#9c3231"/><rect x="33.65" y="240.15" width="5.61" height="24.02" fill="#73b66f"/><rect x="33.65" y="264.17" width="5.61" height="11.29" fill="#e04d45"/><rect x="33.65" y="275.45" width="5.61" height="8.17" fill="#bf413b"/><rect x="33.65" y="283.62" width="5.61" height="4.56" fill="#9c3231"/><rect x="39.25" y="240.15" width="5.61" height="10.09" fill="#73b66f"/><rect x="39.25" y="250.24" width="5.61" height="17.83" fill="#e04d45"/><rect x="39.25" y="268.07" width="5.61" height="12.9" fill="#bf413b"/><rect x="39.25" y="280.97" width="5.61" height="7.21" fill="#9c3231"/><rect x="44.86" y="240.15" width="5.61" height="24.02" fill="#73b66f"/><rect x="44.86" y="264.17" width="5.61" height="11.29" fill="#e04d45"/><rect x="44.86" y="275.45" width="5.61" height="8.17" fill="#bf413b"/><rect x="44.86" y="283.62" width="5.61" height="4.56" fill="#9c3231"/><rect x="50.47" y="240.15" width="5.61" height="21.61" fill="#73b66f"/><rect x="50.47" y="261.76" width="5.61" height="12.42" fill="#e04d45"/><rect x="50.47" y="274.18" width="5.61" height="8.98" fill="#bf413b"/><rect x="50.47" y="283.16" width="5.61" height="5.02" fill="#9c3231"/><rect x="56.08" y="240.15" width="5.61" height="7.2" fill="#73b66f"/><rect x="56.08" y="247.35" width="5.61" height="19.19" fill="#e04d45"/><rect x="56.08" y="266.54" width="5.61" height="13.88" fill="#bf413b"/><rect x="56.08" y="280.42" width="5.61" height="7.76" fill="#9c3231"/><rect x="61.68" y="240.15" width="5.61" height="24.02" fill="#73b66f"/><rect x="61.68" y="264.17" width="5.61" height="11.29" fill="#e04d45"/><rect x="61.68" y="275.45" width="5.61" height="8.17" fill="#bf413b"/><rect x="61.68" y="283.62" width="5.61" height="4.56" fill="#9c3231"/><rect x="67.29" y="240.15" width="67.29" height="48.03" fill="#1d1d1d"/><rect x="67.29" y="240.15" width="50.47" height="48.03" fill="#73b66f"/><rect x="117.76" y="240.15" width="11.22" height="47.07" fill="#73b66f"/><rect x="117.76" y="287.22" width="11.22" height="0.96" fill="#e04d45"/><rect x="128.97" y="240.15" width="5.61" height="48.03" fill="#73b66f"/><rect x="134.58" y="240.15" width="67.29" height="48.03" fill="#1d1d1d"/><rect x="134.58" y="240.15" width="5.61" height="8.17" fill="#73b66f"/><rect x="134.58" y="248.32" width="5.61" height="18.74" fill="#e04d45"/><rect x="134.58" y="267.05" width="5.61" height="13.55" fill="#bf413b"/><rect x="134.58" y="280.61" width="5.61" height="7.57" fill="#9c3231"/><rect x="140.19" y="240.15" width="5.61" height="34.58" fill="#73b66f"/><rect x="140.19" y="274.73" width="5.61" height="6.32" fill="#e04d45"/><rect x="140.19" y="281.05" width="5.61" height="4.57" fill="#bf413b"/><rect x="140.19" y="285.62" width="5.61" height="2.56" fill="#9c3231"/><rect x="145.8" y="240.15" width="5.61" height="33.62" fill="#73b66f"/><rect x="145.8" y="273.77" width="5.61" height="6.77" fill="#e04d45"/><rect x="145.8" y="280.54" width="5.61" height="4.9" fill="#bf413b"/><rect x="145.8" y="285.44" width="5.61" height="2.74" fill="#9c3231"/><rect x="151.4" y="240.15" width="5.61" height="23.53" fill="#73b66f"/><rect x="151.4" y="263.68" width="5.61" height="11.51" fill="#e04d45"/><rect x="151.4" y="275.2" width="5.61" height="8.33" fill="#bf413b"/><rect x="151.4" y="283.53" width="5.61" height="4.65" fill="#9c3231"/><rect x="157.01" y="240.15" width="5.61" height="25.94" fill="#73b66f"/><rect x="157.01" y="266.09" width="5.61" height="10.38" fill="#e04d45"/><rect x="157.01" y="276.47" width="5.61" height="7.51" fill="#bf413b"/><rect x="157.01" y="283.98" width="5.61" height="4.2" fill="#9c3231"/><rect x="162.62" y="240.15" width="5.61" height="23.53" fill="#73b66f"/><rect x="162.62" y="263.68" width="5.61" height="11.51" fill="#e04d45"/><rect x="162.62" y="275.2" width="5.61" height="8.33" fill="#bf413b"/><rect x="162.62" y="283.53" width="5.61" height="4.65" fill="#9c3231"/><rect x="168.23" y="240.15" width="5.61" height="36.5" fill="#73b66f"/><rect x="168.23" y="276.65" width="5.61" height="5.42" fill="#e04d45"/><rect x="168.23" y="282.07" width="5.61" height="3.92" fill="#bf413b"/><rect x="168.23" y="285.99" width="5.61" height="2.19" fill="#9c3231"/><rect x="173.83" y="240.15" width="5.61" height="12.49" fill="#73b66f"/><rect x="173.83" y="252.64" width="5.61" height="16.7" fill="#e04d45"/><rect x="173.83" y="269.34" width="5.61" height="12.08" fill="#bf413b"/><rect x="173.83" y="281.43" width="5.61" height="6.75" fill="#9c3231"/><rect x="179.44" y="240.15" width="5.61" height="36.5" fill="#73b66f"/><rect x="179.44" y="276.65" width="5.61" height="5.42" fill="#e04d45"/><rect x="179.44" y="282.07" width="5.61" height="3.92" fill="#bf413b"/><rect x="179.44" y="285.99" width="5.61" height="2.19" fill="#9c3231"/><rect x="185.05" y="240.15" width="5.61" height="35.54" fill="#73b66f"/><rect x="185.05" y="275.69" width="5.61" height="5.87" fill="#e04d45"/><rect x="185.05" y="281.56" width="5.61" height="4.25" fill="#bf413b"/><rect x="185.05" y="285.81" width="5.61" height="2.37" fill="#9c3231"/><rect x="190.66" y="240.15" width="5.61" height="8.17" fill="#73b66f"/><rect x="190.66" y="248.32" width="5.61" height="18.74" fill="#e04d45"/><rect x="190.66" y="267.05" width="5.61" height="13.55" fill="#bf413b"/><rect x="190.66" y="280.61" width="5.61" height="7.57" fill="#9c3231"/><rect x="196.26" y="240.15" width="5.61" height="36.5" fill="#73b66f"/><rect x="196.26" y="276.65" width="5.61" height="5.42" fill="#e04d45"/><rect x="196.26" y="282.07" width="5.61" height="3.92" fill="#bf413b"/><rect x="196.26" y="285.99" width="5.61" height="2.19" fill="#9c3231"/><rect x="201.87" y="240.15" width="67.29" height="48.03" fill="#1d1d1d"/><rect x="201.87" y="240.15" width="5.61" height="8.17" fill="#73b66f"/><rect x="201.87" y="248.32" width="5.61" height="18.74" fill="#e04d45"/><rect x="201.87" y="267.05" width="5.61" height="13.55" fill="#bf413b"/><rect x="201.87" y="280.61" width="5.61" height="7.57" fill="#9c3231"/><rect x="207.48" y="240.15" width="5.61" height="35.54" fill="#73b66f"/><rect x="207.48" y="275.69" width="5.61" height="5.87" fill="#e04d45"/><rect x="207.48" y="281.56" width="5.61" height="4.25" fill="#bf413b"/><rect x="207.48" y="285.81" width="5.61" height="2.37" fill="#9c3231"/><rect x="213.09" y="240.15" width="5.61" height="25.94" fill="#73b66f"/><rect x="213.09" y="266.09" width="5.61" height="10.38" fill="#e04d45"/><rect x="213.09" y="276.47" width="5.61" height="7.51" fill="#bf413b"/><rect x="213.09" y="283.98" width="5.61" height="4.2" fill="#9c3231"/><rect x="218.69" y="240.15" width="5.61" height="20.65" fill="#73b66f"/><rect x="218.69" y="260.8" width="5.61" height="12.87" fill="#e04d45"/><rect x="218.69" y="273.67" width="5.61" height="9.31" fill="#bf413b"/><rect x="218.69" y="282.98" width="5.61" height="5.2" fill="#9c3231"/><rect x="224.3" y="240.15" width="5.61" height="24.02" fill="#73b66f"/><rect x="224.3" y="264.17" width="5.61" height="11.29" fill="#e04d45"/><rect x="224.3" y="275.45" width="5.61" height="8.17" fill="#bf413b"/><rect x="224.3" y="283.62" width="5.61" height="4.56" fill="#9c3231"/><rect x="229.91" y="240.15" width="5.61" height="20.65" fill="#73b66f"/><rect x="229.91" y="260.8" width="5.61" height="12.87" fill="#e04d45"/><rect x="229.91" y="273.67" width="5.61" height="9.31" fill="#bf413b"/><rect x="229.91" y="282.98" width="5.61" height="5.2" fill="#9c3231"/><rect x="235.52" y="240.15" width="5.61" height="35.54" fill="#73b66f"/><rect x="235.52" y="275.69" width="5.61" height="5.87" fill="#e04d45"/><rect x="235.52" y="281.56" width="5.61" height="4.25" fill="#bf413b"/><rect x="235.52" y="285.81" width="5.61" height="2.37" fill="#9c3231"/><rect x="241.12" y="240.15" width="5.61" height="16.33" fill="#73b66f"/><rect x="241.12" y="256.48" width="5.61" height="14.9" fill="#e04d45"/><rect x="241.12" y="271.38" width="5.61" height="10.78" fill="#bf413b"/><rect x="241.12" y="282.16" width="5.61" height="6.02" fill="#9c3231"/><rect x="246.73" y="240.15" width="5.61" height="33.62" fill="#73b66f"/><rect x="246.73" y="273.77" width="5.61" height="6.77" fill="#e04d45"/><rect x="246.73" y="280.54" width="5.61" height="4.9" fill="#bf413b"/><rect x="246.73" y="285.44" width="5.61" height="2.74" fill="#9c3231"/><rect x="252.34" y="240.15" width="5.61" height="29.3" fill="#73b66f"/><rect x="252.34" y="269.45" width="5.61" height="8.8" fill="#e04d45"/><rect x="252.34" y="278.25" width="5.61" height="6.37" fill="#bf413b"/><rect x="252.34" y="284.62" width="5.61" height="3.56" fill="#9c3231"/><rect x="257.95" y="240.15" width="5.61" height="8.17" fill="#73b66f"/><rect x="257.95" y="248.32" width="5.61" height="18.74" fill="#e04d45"/><rect x="257.95" y="267.05" width="5.61" height="13.55" fill="#bf413b"/><rect x="257.95" y="280.61" width="5.61" height="7.57" fill="#9c3231"/><rect x="263.55" y="240.15" width="5.61" height="35.54" fill="#73b66f"/><rect x="263.55" y="275.69" width="5.61" height="5.87" fill="#e04d45"/><rect x="263.55" y="281.56" width="5.61" height="4.25" fill="#bf413b"/><rect x="263.55" y="285.81" width="5.61" height="2.37" fill="#9c3231"/><rect x="269.16" y="240.15" width="67.29" height="48.03" fill="#1d1d1d"/><rect x="269.16" y="240.15" width="5.61" height="17.29" fill="#73b66f"/><rect x="269.16" y="257.44" width="5.61" height="14.45" fill="#e04d45"/><rect x="269.16" y="271.89" width="5.61" height="10.45" fill="#bf413b"/><rect x="269.16" y="282.34" width="5.61" height="5.84" fill="#9c3231"/><rect x="274.77" y="240.15" width="5.61" height="34.58" fill="#73b66f"/><rect x="274.77" y="274.73" width="5.61" height="6.32" fill="#e04d45"/><rect x="274.77" y="281.05" width="5.61" height="4.57" fill="#bf413b"/><rect x="274.77" y="285.62" width="5.61" height="2.56" fill="#9c3231"/><rect x="280.38" y="240.15" width="5.61" height="25.94" fill="#73b66f"/><rect x="280.38" y="266.09" width="5.61" height="10.38" fill="#e04d45"/><rect x="280.38" y="276.47" width="5.61" height="7.51" fill="#bf413b"/><rect x="280.38" y="283.98" width="5.61" height="4.2" fill="#9c3231"/><rect x="285.98" y="240.15" width="5.61" height="19.69" fill="#73b66f"/><rect x="285.98" y="259.84" width="5.61" height="13.32" fill="#e04d45"/><rect x="285.98" y="273.16" width="5.61" height="9.63" fill="#bf413b"/><rect x="285.98" y="282.8" width="5.61" height="5.38" fill="#9c3231"/><rect x="291.59" y="240.15" width="5.61" height="24.02" fill="#73b66f"/><rect x="291.59" y="264.17" width="5.61" height="11.29" fill="#e04d45"/><rect x="291.59" y="275.45" width="5.61" height="8.17" fill="#bf413b"/><rect x="291.59" y="283.62" width="5.61" height="4.56" fill="#9c3231"/><rect x="297.2" y="240.15" width="5.61" height="19.69" fill="#73b66f"/><rect x="297.2" y="259.84" width="5.61" height="13.32" fill="#e04d45"/><rect x="297.2" y="273.16" width="5.61" height="9.63" fill="#bf413b"/><rect x="297.2" y="282.8" width="5.61" height="5.38" fill="#9c3231"/><rect x="302.81" y="240.15" width="5.61" height="38.42" fill="#73b66f"/><rect x="302.81" y="278.57" width="5.61" height="4.51" fill="#e04d45"/><rect x="302.81" y="283.09" width="5.61" height="3.27" fill="#bf413b"/><rect x="302.81" y="286.35" width="5.61" height="1.83" fill="#9c3231"/><rect x="308.41" y="240.15" width="5.61" height="24.02" fill="#73b66f"/><rect x="308.41" y="264.17" width="5.61" height="11.29" fill="#e04d45"/><rect x="308.41" y="275.45" width="5.61" height="8.17" fill="#bf413b"/><rect x="308.41" y="283.62" width="5.61" height="4.56" fill="#9c3231"/><rect x="314.02" y="240.15" width="5.61" height="36.5" fill="#73b66f"/><rect x="314.02" y="276.65" width="5.61" height="5.42" fill="#e04d45"/><rect x="314.02" y="282.07" width="5.61" height="3.92" fill="#bf413b"/><rect x="314.02" y="285.99" width="5.61" height="2.19" fill="#9c3231"/><rect x="319.63" y="240.15" width="5.61" height="24.02" fill="#73b66f"/><rect x="319.63" y="264.17" width="5.61" height="11.29" fill="#e04d45"/><rect x="319.63" y="275.45" width="5.61" height="8.17" fill="#bf413b"/><rect x="319.63" y="283.62" width="5.61" height="4.56" fill="#9c3231"/><rect x="325.24" y="240.15" width="5.61" height="17.29" fill="#73b66f"/><rect x="325.24" y="257.44" width="5.61" height="14.45" fill="#e04d45"/><rect x="325.24" y="271.89" width="5.61" height="10.45" fill="#bf413b"/><rect x="325.24" y="282.34" width="5.61" height="5.84" fill="#9c3231"/><rect x="330.84" y="240.15" width="5.61" height="37.46" fill="#73b66f"/><rect x="330.84" y="277.61" width="5.61" height="4.97" fill="#e04d45"/><rect x="330.84" y="282.58" width="5.61" height="3.59" fill="#bf413b"/><rect x="330.84" y="286.17" width="5.61" height="2.01" fill="#9c3231"/><rect x="336.45" y="240.15" width="67.29" height="48.03" fill="#1d1d1d"/><rect x="336.45" y="240.15" width="11.21" height="15.37" fill="#73b66f"/><rect x="336.45" y="255.52" width="11.21" height="25.46" fill="#e04d45"/><rect x="336.45" y="280.98" width="11.21" height="7.2" fill="#bf413b"/><rect x="347.67" y="240.15" width="11.22" height="32.18" fill="#73b66f"/><rect x="347.67" y="272.33" width="11.22" height="15.85" fill="#e04d45"/><rect x="358.88" y="240.15" width="11.21" height="17.77" fill="#73b66f"/><rect x="358.88" y="257.92" width="11.21" height="23.05" fill="#e04d45"/><rect x="358.88" y="280.98" width="11.21" height="7.2" fill="#bf413b"/><rect x="370.1" y="240.15" width="11.21" height="30.26" fill="#73b66f"/><rect x="370.1" y="270.41" width="11.21" height="17.77" fill="#e04d45"/><rect x="381.31" y="240.15" width="11.22" height="15.37" fill="#73b66f"/><rect x="381.31" y="255.52" width="11.22" height="25.46" fill="#e04d45"/><rect x="381.31" y="280.98" width="11.22" height="7.2" fill="#bf413b"/><rect x="392.53" y="240.15" width="11.21" height="32.18" fill="#73b66f"/><rect x="392.53" y="272.33" width="11.21" height="15.85" fill="#e04d45"/><rect x="403.74" y="240.15" width="67.29" height="48.03" fill="#1d1d1d"/><rect x="403.74" y="240.15" width="16.82" height="13.45" fill="#73b66f"/><rect x="403.74" y="253.6" width="16.82" height="20.17" fill="#e04d45"/><rect x="403.74" y="273.77" width="16.82" height="14.41" fill="#bf413b"/><rect x="420.56" y="240.15" width="16.82" height="18.73" fill="#e04d45"/><rect x="420.56" y="258.88" width="16.82" height="29.3" fill="#bf413b"/><rect x="437.38" y="240.15" width="16.82" height="40.83" fill="#e04d45"/><rect x="437.38" y="280.98" width="16.82" height="7.2" fill="#bf413b"/><rect x="454.21" y="240.15" width="16.82" height="13.45" fill="#73b66f"/><rect x="454.21" y="253.6" width="16.82" height="27.38" fill="#e04d45"/><rect x="454.21" y="280.98" width="16.82" height="7.2" fill="#bf413b"/><rect x="471.03" y="240.15" width="67.29" height="48.03" fill="#1d1d1d"/><rect x="471.03" y="240.15" width="16.82" height="36.5" fill="#73b66f"/><rect x="471.03" y="276.65" width="16.82" height="11.53" fill="#e04d45"/><rect x="504.68" y="240.15" width="16.82" height="16.33" fill="#73b66f"/><rect x="504.68" y="256.48" width="16.82" height="31.7" fill="#e04d45"/><rect x="521.5" y="240.15" width="16.82" height="36.5" fill="#73b66f"/><rect x="521.5" y="276.65" width="16.82" height="11.53" fill="#e04d45"/><rect x="538.32" y="240.15" width="67.29" height="48.03" fill="#1d1d1d"/><rect x="538.32" y="240.15" width="16.82" height="38.9" fill="#73b66f"/><rect x="538.32" y="279.05" width="16.82" height="9.13" fill="#e04d45"/><rect x="555.14" y="240.15" width="16.82" height="8.65" fill="#73b66f"/><rect x="555.14" y="248.8" width="16.82" height="15.85" fill="#e04d45"/><rect x="555.14" y="264.65" width="16.82" height="16.33" fill="#bf413b"/><rect x="555.14" y="280.98" width="16.82" height="7.2" fill="#9c3231"/><rect x="588.79" y="240.15" width="16.82" height="38.9" fill="#73b66f"/><rect x="588.79" y="279.05" width="16.82" height="9.13" fill="#e04d45"/><rect x="605.61" y="240.15" width="67.29" height="48.03" fill="#1d1d1d"/><rect x="605.61" y="240.15" width="16.82" height="25.46" fill="#73b66f"/><rect x="605.61" y="265.61" width="16.82" height="11.53" fill="#e04d45"/><rect x="605.61" y="277.13" width="16.82" height="11.05" fill="#bf413b"/><rect x="622.43" y="240.15" width="16.82" height="12.97" fill="#73b66f"/><rect x="622.43" y="253.12" width="16.82" height="15.85" fill="#e04d45"/><rect x="622.43" y="268.97" width="16.82" height="19.21" fill="#bf413b"/><rect x="639.26" y="240.15" width="16.82" height="13.93" fill="#73b66f"/><rect x="639.26" y="254.08" width="16.82" height="15.85" fill="#e04d45"/><rect x="639.26" y="269.93" width="16.82" height="18.25" fill="#bf413b"/><rect x="656.08" y="240.15" width="16.82" height="25.46" fill="#73b66f"/><rect x="656.08" y="265.61" width="16.82" height="11.53" fill="#e04d45"/><rect x="656.08" y="277.13" width="16.82" height="11.05" fill="#bf413b"/><rect x="672.9" y="240.15" width="67.29" height="48.03" fill="#1d1d1d"/><rect x="672.9" y="240.15" width="16.82" height="14.41" fill="#73b66f"/><rect x="672.9" y="254.56" width="16.82" height="31.22" fill="#e04d45"/><rect x="672.9" y="285.78" width="16.82" height="2.4" fill="#bf413b"/><rect x="689.72" y="240.15" width="16.82" height="24.98" fill="#73b66f"/><rect x="689.72" y="265.13" width="16.82" height="18.25" fill="#e04d45"/><rect x="689.72" y="283.38" width="16.82" height="4.8" fill="#bf413b"/><rect x="706.55" y="240.15" width="16.82" height="0.96" fill="#73b66f"/><rect x="706.55" y="241.11" width="16.82" height="22.09" fill="#e04d45"/><rect x="706.55" y="263.2" width="16.82" height="20.17" fill="#bf413b"/><rect x="706.55" y="283.38" width="16.82" height="4.8" fill="#9c3231"/><rect x="723.37" y="240.15" width="16.82" height="14.41" fill="#73b66f"/><rect x="723.37" y="254.56" width="16.82" height="21.61" fill="#e04d45"/><rect x="723.37" y="276.17" width="16.82" height="12.01" fill="#bf413b"/><rect x="740.19" y="240.15" width="67.29" height="48.03" fill="#1d1d1d"/><rect x="740.19" y="240.15" width="16.82" height="18.73" fill="#73b66f"/><rect x="740.19" y="258.88" width="16.82" height="26.9" fill="#e04d45"/><rect x="740.19" y="285.78" width="16.82" height="2.4" fill="#bf413b"/><rect x="757.01" y="240.15" width="16.82" height="18.73" fill="#73b66f"/><rect x="757.01" y="258.88" width="16.82" height="24.5" fill="#e04d45"/><rect x="757.01" y="283.38" width="16.82" height="4.8" fill="#bf413b"/><rect x="773.84" y="240.15" width="16.82" height="4.8" fill="#73b66f"/><rect x="773.84" y="244.95" width="16.82" height="23.05" fill="#e04d45"/><rect x="773.84" y="268.01" width="16.82" height="20.17" fill="#bf413b"/><rect x="790.66" y="240.15" width="16.82" height="18.73" fill="#73b66f"/><rect x="790.66" y="258.88" width="16.82" height="18.25" fill="#e04d45"/><rect x="790.66" y="277.13" width="16.82" height="11.05" fill="#bf413b"/><rect x="807.48" y="240.15" width="67.29" height="48.03" fill="#1d1d1d"/><rect x="807.48" y="240.15" width="16.82" height="28.82" fill="#73b66f"/><rect x="807.48" y="268.97" width="16.82" height="16.81" fill="#e04d45"/><rect x="807.48" y="285.78" width="16.82" height="2.4" fill="#bf413b"/><rect x="824.3" y="240.15" width="16.82" height="18.73" fill="#73b66f"/><rect x="824.3" y="258.88" width="16.82" height="13.45" fill="#e04d45"/><rect x="824.3" y="272.33" width="16.82" height="15.85" fill="#bf413b"/><rect x="841.12" y="240.15" width="16.82" height="7.2" fill="#73b66f"/><rect x="841.12" y="247.35" width="16.82" height="19.21" fill="#e04d45"/><rect x="841.12" y="266.57" width="16.82" height="21.61" fill="#bf413b"/><rect x="857.95" y="240.15" width="16.82" height="28.82" fill="#73b66f"/><rect x="857.95" y="268.97" width="16.82" height="14.41" fill="#e04d45"/><rect x="857.95" y="283.38" width="16.82" height="4.8" fill="#bf413b"/><rect x="0" y="288.18" width="67.29" height="48.03" fill="#1d1d1d"/><rect x="0" y="288.18" width="5.61" height="9.61" fill="#73b66f"/><rect x="0" y="297.79" width="5.61" height="18.06" fill="#e04d45"/><rect x="0" y="315.85" width="5.61" height="13.06" fill="#bf413b"/><rect x="0" y="328.91" width="5.61" height="7.3" fill="#9c3231"/><rect x="5.61" y="288.18" width="5.61" height="24.98" fill="#73b66f"/><rect x="5.61" y="313.16" width="5.61" height="10.84" fill="#e04d45"/><rect x="5.61" y="323.99" width="5.61" height="7.84" fill="#bf413b"/><rect x="5.61" y="331.83" width="5.61" height="4.38" fill="#9c3231"/><rect x="11.22" y="288.18" width="5.61" height="22.57" fill="#73b66f"/><rect x="11.22" y="310.75" width="5.61" height="11.96" fill="#e04d45"/><rect x="11.22" y="322.72" width="5.61" height="8.66" fill="#bf413b"/><rect x="11.22" y="331.37" width="5.61" height="4.84" fill="#9c3231"/><rect x="33.65" y="288.18" width="5.61" height="24.98" fill="#73b66f"/><rect x="33.65" y="313.16" width="5.61" height="10.84" fill="#e04d45"/><rect x="33.65" y="323.99" width="5.61" height="7.84" fill="#bf413b"/><rect x="33.65" y="331.83" width="5.61" height="4.38" fill="#9c3231"/><rect x="39.25" y="288.18" width="5.61" height="12.49" fill="#73b66f"/><rect x="39.25" y="300.67" width="5.61" height="16.7" fill="#e04d45"/><rect x="39.25" y="317.37" width="5.61" height="12.08" fill="#bf413b"/><rect x="39.25" y="329.46" width="5.61" height="6.75" fill="#9c3231"/><rect x="44.86" y="288.18" width="5.61" height="24.98" fill="#73b66f"/><rect x="44.86" y="313.16" width="5.61" height="10.84" fill="#e04d45"/><rect x="44.86" y="323.99" width="5.61" height="7.84" fill="#bf413b"/><rect x="44.86" y="331.83" width="5.61" height="4.38" fill="#9c3231"/><rect x="50.47" y="288.18" width="5.61" height="21.61" fill="#73b66f"/><rect x="50.47" y="309.79" width="5.61" height="12.42" fill="#e04d45"/><rect x="50.47" y="322.21" width="5.61" height="8.98" fill="#bf413b"/><rect x="50.47" y="331.19" width="5.61" height="5.02" fill="#9c3231"/><rect x="56.08" y="288.18" width="5.61" height="9.13" fill="#73b66f"/><rect x="56.08" y="297.31" width="5.61" height="18.29" fill="#e04d45"/><rect x="56.08" y="315.59" width="5.61" height="13.23" fill="#bf413b"/><rect x="56.08" y="328.82" width="5.61" height="7.39" fill="#9c3231"/><rect x="61.68" y="288.18" width="5.61" height="24.98" fill="#73b66f"/><rect x="61.68" y="313.16" width="5.61" height="10.84" fill="#e04d45"/><rect x="61.68" y="323.99" width="5.61" height="7.84" fill="#bf413b"/><rect x="61.68" y="331.83" width="5.61" height="4.38" fill="#9c3231"/><rect x="67.29" y="288.18" width="67.29" height="48.03" fill="#1d1d1d"/><rect x="67.29" y="288.18" width="5.61" height="42.27" fill="#73b66f"/><rect x="67.29" y="330.45" width="5.61" height="5.76" fill="#e04d45"/><rect x="72.9" y="288.18" width="5.61" height="48.03" fill="#73b66f"/><rect x="78.51" y="288.18" width="5.61" height="46.59" fill="#73b66f"/><rect x="78.51" y="334.77" width="5.61" height="1.44" fill="#e04d45"/><rect x="84.11" y="288.18" width="5.61" height="41.31" fill="#73b66f"/><rect x="84.11" y="329.49" width="5.61" height="6.72" fill="#e04d45"/><rect x="89.72" y="288.18" width="5.61" height="36.5" fill="#73b66f"/><rect x="89.72" y="324.68" width="5.61" height="11.53" fill="#e04d45"/><rect x="95.33" y="288.18" width="5.61" height="41.31" fill="#73b66f"/><rect x="95.33" y="329.49" width="5.61" height="6.72" fill="#e04d45"/><rect x="100.94" y="288.18" width="5.61" height="48.03" fill="#73b66f"/><rect x="106.54" y="288.18" width="5.61" height="43.71" fill="#73b66f"/><rect x="106.54" y="331.89" width="5.61" height="4.32" fill="#e04d45"/><rect x="112.15" y="288.18" width="11.22" height="48.03" fill="#73b66f"/><rect x="123.37" y="288.18" width="5.61" height="43.71" fill="#73b66f"/><rect x="123.37" y="331.89" width="5.61" height="4.32" fill="#e04d45"/><rect x="128.97" y="288.18" width="5.61" height="48.03" fill="#73b66f"/><rect x="134.58" y="288.18" width="67.29" height="48.03" fill="#1d1d1d"/><rect x="134.58" y="288.18" width="5.61" height="0.96" fill="#73b66f"/><rect x="134.58" y="289.14" width="5.61" height="22.12" fill="#e04d45"/><rect x="134.58" y="311.26" width="5.61" height="16" fill="#bf413b"/><rect x="134.58" y="327.27" width="5.61" height="8.94" fill="#9c3231"/><rect x="140.19" y="288.18" width="28.04" height="19.69" fill="#73b66f"/><rect x="140.19" y="307.87" width="28.04" height="13.32" fill="#e04d45"/><rect x="140.19" y="321.19" width="28.04" height="9.63" fill="#bf413b"/><rect x="140.19" y="330.83" width="28.04" height="5.38" fill="#9c3231"/><rect x="168.23" y="288.18" width="5.61" height="21.61" fill="#73b66f"/><rect x="168.23" y="309.79" width="5.61" height="12.42" fill="#e04d45"/><rect x="168.23" y="322.21" width="5.61" height="8.98" fill="#bf413b"/><rect x="168.23" y="331.19" width="5.61" height="5.02" fill="#9c3231"/><rect x="173.83" y="288.18" width="5.61" height="4.32" fill="#73b66f"/><rect x="173.83" y="292.5" width="5.61" height="20.54" fill="#e04d45"/><rect x="173.83" y="313.05" width="5.61" height="14.86" fill="#bf413b"/><rect x="173.83" y="327.91" width="5.61" height="8.3" fill="#9c3231"/><rect x="179.44" y="288.18" width="5.61" height="21.61" fill="#73b66f"/><rect x="179.44" y="309.79" width="5.61" height="12.42" fill="#e04d45"/><rect x="179.44" y="322.21" width="5.61" height="8.98" fill="#bf413b"/><rect x="179.44" y="331.19" width="5.61" height="5.02" fill="#9c3231"/><rect x="185.05" y="288.18" width="5.61" height="19.69" fill="#73b66f"/><rect x="185.05" y="307.87" width="5.61" height="13.32" fill="#e04d45"/><rect x="185.05" y="321.19" width="5.61" height="9.63" fill="#bf413b"/><rect x="185.05" y="330.83" width="5.61" height="5.38" fill="#9c3231"/><rect x="190.66" y="288.18" width="5.61" height="0.96" fill="#73b66f"/><rect x="190.66" y="289.14" width="5.61" height="22.12" fill="#e04d45"/><rect x="190.66" y="311.26" width="5.61" height="16" fill="#bf413b"/><rect x="190.66" y="327.27" width="5.61" height="8.94" fill="#9c3231"/><rect x="196.26" y="288.18" width="5.61" height="15.37" fill="#73b66f"/><rect x="196.26" y="303.55" width="5.61" height="15.35" fill="#e04d45"/><rect x="196.26" y="318.9" width="5.61" height="11.1" fill="#bf413b"/><rect x="196.26" y="330" width="5.61" height="6.21" fill="#9c3231"/><rect x="201.87" y="288.18" width="67.29" height="48.03" fill="#1d1d1d"/><rect x="201.87" y="288.18" width="5.61" height="5.28" fill="#73b66f"/><rect x="201.87" y="293.46" width="5.61" height="20.09" fill="#e04d45"/><rect x="201.87" y="313.55" width="5.61" height="14.53" fill="#bf413b"/><rect x="201.87" y="328.09" width="5.61" height="8.12" fill="#9c3231"/><rect x="207.48" y="288.18" width="5.61" height="24.02" fill="#73b66f"/><rect x="207.48" y="312.2" width="5.61" height="11.29" fill="#e04d45"/><rect x="207.48" y="323.48" width="5.61" height="8.17" fill="#bf413b"/><rect x="207.48" y="331.65" width="5.61" height="4.56" fill="#9c3231"/><rect x="213.09" y="288.18" width="5.61" height="19.69" fill="#73b66f"/><rect x="213.09" y="307.87" width="5.61" height="13.32" fill="#e04d45"/><rect x="213.09" y="321.19" width="5.61" height="9.63" fill="#bf413b"/><rect x="213.09" y="330.83" width="5.61" height="5.38" fill="#9c3231"/><rect x="218.69" y="288.18" width="5.61" height="20.65" fill="#73b66f"/><rect x="218.69" y="308.83" width="5.61" height="12.87" fill="#e04d45"/><rect x="218.69" y="321.7" width="5.61" height="9.31" fill="#bf413b"/><rect x="218.69" y="331.01" width="5.61" height="5.2" fill="#9c3231"/><rect x="224.3" y="288.18" width="5.61" height="16.81" fill="#73b66f"/><rect x="224.3" y="304.99" width="5.61" height="14.67" fill="#e04d45"/><rect x="224.3" y="319.66" width="5.61" height="10.61" fill="#bf413b"/><rect x="224.3" y="330.28" width="5.61" height="5.93" fill="#9c3231"/><rect x="229.91" y="288.18" width="5.61" height="20.65" fill="#73b66f"/><rect x="229.91" y="308.83" width="5.61" height="12.87" fill="#e04d45"/><rect x="229.91" y="321.7" width="5.61" height="9.31" fill="#bf413b"/><rect x="229.91" y="331.01" width="5.61" height="5.2" fill="#9c3231"/><rect x="235.52" y="288.18" width="5.61" height="27.86" fill="#73b66f"/><rect x="235.52" y="316.04" width="5.61" height="9.48" fill="#e04d45"/><rect x="235.52" y="325.52" width="5.61" height="6.86" fill="#bf413b"/><rect x="235.52" y="332.38" width="5.61" height="3.83" fill="#9c3231"/><rect x="241.12" y="288.18" width="5.61" height="9.61" fill="#73b66f"/><rect x="241.12" y="297.79" width="5.61" height="18.06" fill="#e04d45"/><rect x="241.12" y="315.85" width="5.61" height="13.06" fill="#bf413b"/><rect x="241.12" y="328.91" width="5.61" height="7.3" fill="#9c3231"/><rect x="246.73" y="288.18" width="5.61" height="27.86" fill="#73b66f"/><rect x="246.73" y="316.04" width="5.61" height="9.48" fill="#e04d45"/><rect x="246.73" y="325.52" width="5.61" height="6.86" fill="#bf413b"/><rect x="246.73" y="332.38" width="5.61" height="3.83" fill="#9c3231"/><rect x="252.34" y="288.18" width="5.61" height="16.81" fill="#73b66f"/><rect x="252.34" y="304.99" width="5.61" height="14.67" fill="#e04d45"/><rect x="252.34" y="319.66" width="5.61" height="10.61" fill="#bf413b"/><rect x="252.34" y="330.28" width="5.61" height="5.93" fill="#9c3231"/><rect x="257.95" y="288.18" width="5.61" height="4.32" fill="#73b66f"/><rect x="257.95" y="292.5" width="5.61" height="20.54" fill="#e04d45"/><rect x="257.95" y="313.05" width="5.61" height="14.86" fill="#bf413b"/><rect x="257.95" y="327.91" width="5.61" height="8.3" fill="#9c3231"/><rect x="263.55" y="288.18" width="5.61" height="16.81" fill="#73b66f"/><rect x="263.55" y="304.99" width="5.61" height="14.67" fill="#e04d45"/><rect x="263.55" y="319.66" width="5.61" height="10.61" fill="#bf413b"/><rect x="263.55" y="330.28" width="5.61" height="5.93" fill="#9c3231"/><rect x="269.16" y="288.18" width="67.29" height="48.03" fill="#1d1d1d"/><rect x="269.16" y="288.18" width="5.61" height="22.57" fill="#73b66f"/><rect x="269.16" y="310.75" width="5.61" height="11.96" fill="#e04d45"/><rect x="269.16" y="322.72" width="5.61" height="8.66" fill="#bf413b"/><rect x="269.16" y="331.37" width="5.61" height="4.84" fill="#9c3231"/><rect x="274.77" y="288.18" width="5.61" height="32.18" fill="#73b66f"/><rect x="274.77" y="320.36" width="5.61" height="7.45" fill="#e04d45"/><rect x="274.77" y="327.81" width="5.61" height="5.39" fill="#bf413b"/><rect x="274.77" y="333.2" width="5.61" height="3.01" fill="#9c3231"/><rect x="280.38" y="288.18" width="5.61" height="27.86" fill="#73b66f"/><rect x="280.38" y="316.04" width="5.61" height="9.48" fill="#e04d45"/><rect x="280.38" y="325.52" width="5.61" height="6.86" fill="#bf413b"/><rect x="280.38" y="332.38" width="5.61" height="3.83" fill="#9c3231"/><rect x="285.98" y="288.18" width="5.61" height="20.65" fill="#73b66f"/><rect x="285.98" y="308.83" width="5.61" height="12.87" fill="#e04d45"/><rect x="285.98" y="321.7" width="5.61" height="9.31" fill="#bf413b"/><rect x="285.98" y="331.01" width="5.61" height="5.2" fill="#9c3231"/><rect x="291.59" y="288.18" width="5.61" height="25.94" fill="#73b66f"/><rect x="291.59" y="314.12" width="5.61" height="10.38" fill="#e04d45"/><rect x="291.59" y="324.5" width="5.61" height="7.51" fill="#bf413b"/><rect x="291.59" y="332.01" width="5.61" height="4.2" fill="#9c3231"/><rect x="297.2" y="288.18" width="5.61" height="20.65" fill="#73b66f"/><rect x="297.2" y="308.83" width="5.61" height="12.87" fill="#e04d45"/><rect x="297.2" y="321.7" width="5.61" height="9.31" fill="#bf413b"/><rect x="297.2" y="331.01" width="5.61" height="5.2" fill="#9c3231"/><rect x="302.81" y="288.18" width="5.61" height="32.18" fill="#73b66f"/><rect x="302.81" y="320.36" width="5.61" height="7.45" fill="#e04d45"/><rect x="302.81" y="327.81" width="5.61" height="5.39" fill="#bf413b"/><rect x="302.81" y="333.2" width="5.61" height="3.01" fill="#9c3231"/><rect x="308.41" y="288.18" width="5.61" height="27.86" fill="#73b66f"/><rect x="308.41" y="316.04" width="5.61" height="9.48" fill="#e04d45"/><rect x="308.41" y="325.52" width="5.61" height="6.86" fill="#bf413b"/><rect x="308.41" y="332.38" width="5.61" height="3.83" fill="#9c3231"/><rect x="314.02" y="288.18" width="5.61" height="32.18" fill="#73b66f"/><rect x="314.02" y="320.36" width="5.61" height="7.45" fill="#e04d45"/><rect x="314.02" y="327.81" width="5.61" height="5.39" fill="#bf413b"/><rect x="314.02" y="333.2" width="5.61" height="3.01" fill="#9c3231"/><rect x="319.63" y="288.18" width="5.61" height="26.9" fill="#73b66f"/><rect x="319.63" y="315.08" width="5.61" height="9.93" fill="#e04d45"/><rect x="319.63" y="325.01" width="5.61" height="7.19" fill="#bf413b"/><rect x="319.63" y="332.19" width="5.61" height="4.02" fill="#9c3231"/><rect x="325.24" y="288.18" width="5.61" height="22.57" fill="#73b66f"/><rect x="325.24" y="310.75" width="5.61" height="11.96" fill="#e04d45"/><rect x="325.24" y="322.72" width="5.61" height="8.66" fill="#bf413b"/><rect x="325.24" y="331.37" width="5.61" height="4.84" fill="#9c3231"/><rect x="330.84" y="288.18" width="5.61" height="32.18" fill="#73b66f"/><rect x="330.84" y="320.36" width="5.61" height="7.45" fill="#e04d45"/><rect x="330.84" y="327.81" width="5.61" height="5.39" fill="#bf413b"/><rect x="330.84" y="333.2" width="5.61" height="3.01" fill="#9c3231"/><rect x="336.45" y="288.18" width="67.29" height="48.03" fill="#1d1d1d"/><rect x="336.45" y="288.18" width="5.61" height="14.41" fill="#73b66f"/><rect x="336.45" y="302.59" width="5.61" height="15.8" fill="#e04d45"/><rect x="336.45" y="318.39" width="5.61" height="11.43" fill="#bf413b"/><rect x="336.45" y="329.82" width="5.61" height="6.39" fill="#9c3231"/><rect x="342.06" y="288.18" width="5.61" height="27.86" fill="#73b66f"/><rect x="342.06" y="316.04" width="5.61" height="9.48" fill="#e04d45"/><rect x="342.06" y="325.52" width="5.61" height="6.86" fill="#bf413b"/><rect x="342.06" y="332.38" width="5.61" height="3.83" fill="#9c3231"/><rect x="347.67" y="288.18" width="5.61" height="22.57" fill="#73b66f"/><rect x="347.67" y="310.75" width="5.61" height="11.96" fill="#e04d45"/><rect x="347.67" y="322.72" width="5.61" height="8.66" fill="#bf413b"/><rect x="347.67" y="331.37" width="5.61" height="4.84" fill="#9c3231"/><rect x="353.27" y="288.18" width="16.82" height="20.65" fill="#73b66f"/><rect x="353.27" y="308.83" width="16.82" height="12.87" fill="#e04d45"/><rect x="353.27" y="321.7" width="16.82" height="9.31" fill="#bf413b"/><rect x="353.27" y="331.01" width="16.82" height="5.2" fill="#9c3231"/><rect x="370.1" y="288.18" width="5.61" height="26.9" fill="#73b66f"/><rect x="370.1" y="315.08" width="5.61" height="9.93" fill="#e04d45"/><rect x="370.1" y="325.01" width="5.61" height="7.19" fill="#bf413b"/><rect x="370.1" y="332.19" width="5.61" height="4.02" fill="#9c3231"/><rect x="375.7" y="288.18" width="5.61" height="15.37" fill="#73b66f"/><rect x="375.7" y="303.55" width="5.61" height="15.35" fill="#e04d45"/><rect x="375.7" y="318.9" width="5.61" height="11.1" fill="#bf413b"/><rect x="375.7" y="330" width="5.61" height="6.21" fill="#9c3231"/><rect x="381.31" y="288.18" width="5.61" height="26.9" fill="#73b66f"/><rect x="381.31" y="315.08" width="5.61" height="9.93" fill="#e04d45"/><rect x="381.31" y="325.01" width="5.61" height="7.19" fill="#bf413b"/><rect x="381.31" y="332.19" width="5.61" height="4.02" fill="#9c3231"/><rect x="386.92" y="288.18" width="5.61" height="21.61" fill="#73b66f"/><rect x="386.92" y="309.79" width="5.61" height="12.42" fill="#e04d45"/><rect x="386.92" y="322.21" width="5.61" height="8.98" fill="#bf413b"/><rect x="386.92" y="331.19" width="5.61" height="5.02" fill="#9c3231"/><rect x="392.53" y="288.18" width="5.61" height="12.49" fill="#73b66f"/><rect x="392.53" y="300.67" width="5.61" height="16.7" fill="#e04d45"/><rect x="392.53" y="317.37" width="5.61" height="12.08" fill="#bf413b"/><rect x="392.53" y="329.46" width="5.61" height="6.75" fill="#9c3231"/><rect x="398.13" y="288.18" width="5.61" height="26.9" fill="#73b66f"/><rect x="398.13" y="315.08" width="5.61" height="9.93" fill="#e04d45"/><rect x="398.13" y="325.01" width="5.61" height="7.19" fill="#bf413b"/><rect x="398.13" y="332.19" width="5.61" height="4.02" fill="#9c3231"/><rect x="403.74" y="288.18" width="67.29" height="48.03" fill="#1d1d1d"/><rect x="403.74" y="288.18" width="11.22" height="9.13" fill="#73b66f"/><rect x="403.74" y="297.31" width="11.22" height="28.34" fill="#e04d45"/><rect x="403.74" y="325.64" width="11.22" height="10.57" fill="#bf413b"/><rect x="414.96" y="288.18" width="11.21" height="23.53" fill="#73b66f"/><rect x="414.96" y="311.71" width="11.21" height="13.93" fill="#e04d45"/><rect x="414.96" y="325.64" width="11.21" height="10.57" fill="#bf413b"/><rect x="426.17" y="288.18" width="11.21" height="13.45" fill="#73b66f"/><rect x="426.17" y="301.63" width="11.21" height="24.98" fill="#e04d45"/><rect x="426.17" y="326.6" width="11.21" height="9.61" fill="#bf413b"/><rect x="437.38" y="288.18" width="11.22" height="22.57" fill="#73b66f"/><rect x="437.38" y="310.75" width="11.22" height="18.25" fill="#e04d45"/><rect x="437.38" y="329.01" width="11.22" height="7.2" fill="#bf413b"/><rect x="448.6" y="288.18" width="11.22" height="9.13" fill="#73b66f"/><rect x="448.6" y="297.31" width="11.22" height="34.1" fill="#e04d45"/><rect x="448.6" y="331.41" width="11.22" height="4.8" fill="#bf413b"/><rect x="459.82" y="288.18" width="11.21" height="22.57" fill="#73b66f"/><rect x="459.82" y="310.75" width="11.21" height="20.65" fill="#e04d45"/><rect x="459.82" y="331.41" width="11.21" height="4.8" fill="#bf413b"/><rect x="471.03" y="288.18" width="67.29" height="48.03" fill="#1d1d1d"/><rect x="471.03" y="288.18" width="16.82" height="41.31" fill="#73b66f"/><rect x="471.03" y="329.49" width="16.82" height="6.72" fill="#e04d45"/><rect x="504.68" y="288.18" width="16.82" height="13.45" fill="#73b66f"/><rect x="504.68" y="301.63" width="16.82" height="34.58" fill="#e04d45"/><rect x="521.5" y="288.18" width="16.82" height="41.31" fill="#73b66f"/><rect x="521.5" y="329.49" width="16.82" height="6.72" fill="#e04d45"/><rect x="538.32" y="288.18" width="67.29" height="48.03" fill="#1d1d1d"/><rect x="538.32" y="288.18" width="16.82" height="44.67" fill="#73b66f"/><rect x="538.32" y="332.85" width="16.82" height="3.36" fill="#e04d45"/><rect x="555.14" y="288.18" width="16.82" height="20.65" fill="#73b66f"/><rect x="555.14" y="308.83" width="16.82" height="9.13" fill="#e04d45"/><rect x="555.14" y="317.96" width="16.82" height="11.05" fill="#bf413b"/><rect x="555.14" y="329.01" width="16.82" height="7.2" fill="#9c3231"/><rect x="588.79" y="288.18" width="16.82" height="44.67" fill="#73b66f"/><rect x="588.79" y="332.85" width="16.82" height="3.36" fill="#e04d45"/><rect x="605.61" y="288.18" width="67.29" height="48.03" fill="#1d1d1d"/><rect x="605.61" y="288.18" width="16.82" height="14.89" fill="#73b66f"/><rect x="605.61" y="303.07" width="16.82" height="18.25" fill="#e04d45"/><rect x="605.61" y="321.32" width="16.82" height="14.89" fill="#bf413b"/><rect x="622.43" y="288.18" width="16.82" height="1.44" fill="#73b66f"/><rect x="622.43" y="289.62" width="16.82" height="18.25" fill="#e04d45"/><rect x="622.43" y="307.87" width="16.82" height="21.13" fill="#bf413b"/><rect x="622.43" y="329.01" width="16.82" height="7.2" fill="#9c3231"/><rect x="639.26" y="288.18" width="16.82" height="1.44" fill="#73b66f"/><rect x="639.26" y="289.62" width="16.82" height="23.53" fill="#e04d45"/><rect x="639.26" y="313.16" width="16.82" height="23.05" fill="#bf413b"/><rect x="656.08" y="288.18" width="16.82" height="14.89" fill="#73b66f"/><rect x="656.08" y="303.07" width="16.82" height="23.53" fill="#e04d45"/><rect x="656.08" y="326.6" width="16.82" height="9.61" fill="#bf413b"/><rect x="672.9" y="288.18" width="67.29" height="48.03" fill="#1d1d1d"/><rect x="672.9" y="288.18" width="16.82" height="39.86" fill="#73b66f"/><rect x="672.9" y="328.04" width="16.82" height="8.17" fill="#e04d45"/><rect x="689.72" y="288.18" width="16.82" height="19.21" fill="#73b66f"/><rect x="689.72" y="307.39" width="16.82" height="11.53" fill="#e04d45"/><rect x="689.72" y="318.92" width="16.82" height="17.29" fill="#bf413b"/><rect x="706.55" y="288.18" width="16.82" height="26.42" fill="#73b66f"/><rect x="706.55" y="314.6" width="16.82" height="16.81" fill="#e04d45"/><rect x="706.55" y="331.41" width="16.82" height="4.8" fill="#bf413b"/><rect x="723.37" y="288.18" width="16.82" height="39.86" fill="#73b66f"/><rect x="723.37" y="328.04" width="16.82" height="8.17" fill="#e04d45"/><rect x="740.19" y="288.18" width="67.29" height="48.03" fill="#1d1d1d"/><rect x="740.19" y="288.18" width="16.82" height="20.65" fill="#73b66f"/><rect x="740.19" y="308.83" width="16.82" height="24.98" fill="#e04d45"/><rect x="740.19" y="333.81" width="16.82" height="2.4" fill="#bf413b"/><rect x="757.01" y="288.18" width="16.82" height="34.1" fill="#73b66f"/><rect x="757.01" y="322.28" width="16.82" height="13.93" fill="#e04d45"/><rect x="773.84" y="288.18" width="16.82" height="1.44" fill="#73b66f"/><rect x="773.84" y="289.62" width="16.82" height="41.79" fill="#e04d45"/><rect x="773.84" y="331.41" width="16.82" height="4.8" fill="#bf413b"/><rect x="790.66" y="288.18" width="16.82" height="20.65" fill="#73b66f"/><rect x="790.66" y="308.83" width="16.82" height="22.57" fill="#e04d45"/><rect x="790.66" y="331.41" width="16.82" height="4.8" fill="#bf413b"/><rect x="807.48" y="288.18" width="67.29" height="48.03" fill="#1d1d1d"/><rect x="807.48" y="288.18" width="33.64" height="24.98" fill="#73b66f"/><rect x="807.48" y="313.16" width="33.64" height="16.33" fill="#e04d45"/><rect x="807.48" y="329.49" width="33.64" height="6.72" fill="#bf413b"/><rect x="841.12" y="288.18" width="16.82" height="7.2" fill="#73b66f"/><rect x="841.12" y="295.38" width="16.82" height="33.62" fill="#e04d45"/><rect x="841.12" y="329.01" width="16.82" height="7.2" fill="#bf413b"/><rect x="857.95" y="288.18" width="16.82" height="24.98" fill="#73b66f"/><rect x="857.95" y="313.16" width="16.82" height="15.85" fill="#e04d45"/><rect x="857.95" y="329.01" width="16.82" height="7.2" fill="#bf413b"/><rect x="0" y="336.21" width="67.29" height="48.03" fill="#1d1d1d"/><rect x="5.61" y="336.21" width="11.21" height="22.57" fill="#e04d45"/><rect x="5.61" y="358.78" width="11.21" height="16.33" fill="#bf413b"/><rect x="5.61" y="375.11" width="11.21" height="9.13" fill="#9c3231"/><rect x="33.65" y="336.21" width="5.61" height="22.57" fill="#e04d45"/><rect x="33.65" y="358.78" width="5.61" height="16.33" fill="#bf413b"/><rect x="33.65" y="375.11" width="5.61" height="9.13" fill="#9c3231"/><rect x="44.86" y="336.21" width="5.61" height="1.92" fill="#73b66f"/><rect x="44.86" y="338.13" width="5.61" height="21.67" fill="#e04d45"/><rect x="44.86" y="359.8" width="5.61" height="15.68" fill="#bf413b"/><rect x="44.86" y="375.48" width="5.61" height="8.76" fill="#9c3231"/><rect x="50.47" y="336.21" width="5.61" height="22.57" fill="#e04d45"/><rect x="50.47" y="358.78" width="5.61" height="16.33" fill="#bf413b"/><rect x="50.47" y="375.11" width="5.61" height="9.13" fill="#9c3231"/><rect x="61.68" y="336.21" width="5.61" height="22.57" fill="#e04d45"/><rect x="61.68" y="358.78" width="5.61" height="16.33" fill="#bf413b"/><rect x="61.68" y="375.11" width="5.61" height="9.13" fill="#9c3231"/><rect x="67.29" y="336.21" width="67.29" height="48.03" fill="#1d1d1d"/><rect x="72.9" y="336.21" width="5.61" height="1.44" fill="#73b66f"/><rect x="72.9" y="337.65" width="5.61" height="30.28" fill="#e04d45"/><rect x="72.9" y="367.93" width="5.61" height="16.31" fill="#bf413b"/><rect x="78.51" y="336.21" width="22.43" height="8.17" fill="#73b66f"/><rect x="78.51" y="344.38" width="22.43" height="25.91" fill="#e04d45"/><rect x="78.51" y="370.29" width="22.43" height="13.95" fill="#bf413b"/><rect x="100.94" y="336.21" width="5.61" height="5.76" fill="#73b66f"/><rect x="100.94" y="341.97" width="5.61" height="27.47" fill="#e04d45"/><rect x="100.94" y="369.45" width="5.61" height="14.79" fill="#bf413b"/><rect x="112.15" y="336.21" width="5.61" height="5.76" fill="#73b66f"/><rect x="112.15" y="341.97" width="5.61" height="27.47" fill="#e04d45"/><rect x="112.15" y="369.45" width="5.61" height="14.79" fill="#bf413b"/><rect x="117.76" y="336.21" width="5.61" height="12.97" fill="#73b66f"/><rect x="117.76" y="349.18" width="5.61" height="22.79" fill="#e04d45"/><rect x="117.76" y="371.97" width="5.61" height="12.27" fill="#bf413b"/><rect x="128.97" y="336.21" width="5.61" height="0.48" fill="#73b66f"/><rect x="128.97" y="336.69" width="5.61" height="30.91" fill="#e04d45"/><rect x="128.97" y="367.6" width="5.61" height="16.64" fill="#bf413b"/><rect x="134.58" y="336.21" width="67.29" height="48.03" fill="#1d1d1d"/><rect x="140.19" y="336.21" width="5.61" height="17.29" fill="#73b66f"/><rect x="140.19" y="353.5" width="5.61" height="19.98" fill="#e04d45"/><rect x="140.19" y="373.48" width="5.61" height="10.76" fill="#bf413b"/><rect x="145.8" y="336.21" width="5.61" height="17.77" fill="#73b66f"/><rect x="145.8" y="353.98" width="5.61" height="19.67" fill="#e04d45"/><rect x="145.8" y="373.65" width="5.61" height="10.59" fill="#bf413b"/><rect x="151.4" y="336.21" width="5.61" height="17.29" fill="#73b66f"/><rect x="151.4" y="353.5" width="5.61" height="19.98" fill="#e04d45"/><rect x="151.4" y="373.48" width="5.61" height="10.76" fill="#bf413b"/><rect x="157.01" y="336.21" width="5.61" height="16.81" fill="#73b66f"/><rect x="157.01" y="353.02" width="5.61" height="20.29" fill="#e04d45"/><rect x="157.01" y="373.31" width="5.61" height="10.93" fill="#bf413b"/><rect x="162.62" y="336.21" width="5.61" height="17.29" fill="#73b66f"/><rect x="162.62" y="353.5" width="5.61" height="19.98" fill="#e04d45"/><rect x="162.62" y="373.48" width="5.61" height="10.76" fill="#bf413b"/><rect x="168.23" y="336.21" width="5.61" height="17.77" fill="#73b66f"/><rect x="168.23" y="353.98" width="5.61" height="19.67" fill="#e04d45"/><rect x="168.23" y="373.65" width="5.61" height="10.59" fill="#bf413b"/><rect x="179.44" y="336.21" width="11.22" height="17.29" fill="#73b66f"/><rect x="179.44" y="353.5" width="11.22" height="19.98" fill="#e04d45"/><rect x="179.44" y="373.48" width="11.22" height="10.76" fill="#bf413b"/><rect x="196.26" y="336.21" width="5.61" height="11.05" fill="#73b66f"/><rect x="196.26" y="347.26" width="5.61" height="24.04" fill="#e04d45"/><rect x="196.26" y="371.3" width="5.61" height="12.94" fill="#bf413b"/><rect x="201.87" y="336.21" width="67.29" height="48.03" fill="#1d1d1d"/><rect x="207.48" y="336.21" width="5.61" height="21.61" fill="#73b66f"/><rect x="207.48" y="357.82" width="5.61" height="17.17" fill="#e04d45"/><rect x="207.48" y="374.99" width="5.61" height="9.25" fill="#bf413b"/><rect x="213.09" y="336.21" width="5.61" height="22.57" fill="#73b66f"/><rect x="213.09" y="358.78" width="5.61" height="16.55" fill="#e04d45"/><rect x="213.09" y="375.33" width="5.61" height="8.91" fill="#bf413b"/><rect x="218.69" y="336.21" width="5.61" height="21.61" fill="#73b66f"/><rect x="218.69" y="357.82" width="5.61" height="17.17" fill="#e04d45"/><rect x="218.69" y="374.99" width="5.61" height="9.25" fill="#bf413b"/><rect x="224.3" y="336.21" width="11.22" height="23.53" fill="#73b66f"/><rect x="224.3" y="359.74" width="11.22" height="15.92" fill="#e04d45"/><rect x="224.3" y="375.67" width="11.22" height="8.57" fill="#bf413b"/><rect x="235.52" y="336.21" width="5.61" height="22.57" fill="#73b66f"/><rect x="235.52" y="358.78" width="5.61" height="16.55" fill="#e04d45"/><rect x="235.52" y="375.33" width="5.61" height="8.91" fill="#bf413b"/><rect x="246.73" y="336.21" width="11.22" height="21.61" fill="#73b66f"/><rect x="246.73" y="357.82" width="11.22" height="17.17" fill="#e04d45"/><rect x="246.73" y="374.99" width="11.22" height="9.25" fill="#bf413b"/><rect x="263.55" y="336.21" width="5.61" height="21.61" fill="#73b66f"/><rect x="263.55" y="357.82" width="5.61" height="17.17" fill="#e04d45"/><rect x="263.55" y="374.99" width="5.61" height="9.25" fill="#bf413b"/><rect x="269.16" y="336.21" width="67.29" height="48.03" fill="#1d1d1d"/><rect x="274.77" y="336.21" width="5.61" height="30.74" fill="#73b66f"/><rect x="274.77" y="366.95" width="5.61" height="17.29" fill="#e04d45"/><rect x="280.38" y="336.21" width="5.61" height="30.26" fill="#73b66f"/><rect x="280.38" y="366.47" width="5.61" height="17.77" fill="#e04d45"/><rect x="285.98" y="336.21" width="11.22" height="30.74" fill="#73b66f"/><rect x="285.98" y="366.95" width="11.22" height="17.29" fill="#e04d45"/><rect x="297.2" y="336.21" width="5.61" height="31.22" fill="#73b66f"/><rect x="297.2" y="367.43" width="5.61" height="16.81" fill="#e04d45"/><rect x="302.81" y="336.21" width="5.61" height="30.74" fill="#73b66f"/><rect x="302.81" y="366.95" width="5.61" height="17.29" fill="#e04d45"/><rect x="314.02" y="336.21" width="11.21" height="31.7" fill="#73b66f"/><rect x="314.02" y="367.91" width="11.21" height="16.33" fill="#e04d45"/><rect x="330.84" y="336.21" width="5.61" height="31.22" fill="#73b66f"/><rect x="330.84" y="367.43" width="5.61" height="16.81" fill="#e04d45"/><rect x="336.45" y="336.21" width="67.29" height="48.03" fill="#1d1d1d"/><rect x="342.06" y="336.21" width="5.61" height="39.86" fill="#73b66f"/><rect x="342.06" y="376.07" width="5.61" height="8.17" fill="#e04d45"/><rect x="347.67" y="336.21" width="5.61" height="36.98" fill="#73b66f"/><rect x="347.67" y="373.19" width="5.61" height="11.05" fill="#e04d45"/><rect x="353.27" y="336.21" width="5.61" height="33.14" fill="#73b66f"/><rect x="353.27" y="369.35" width="5.61" height="14.89" fill="#e04d45"/><rect x="358.88" y="336.21" width="5.61" height="37.94" fill="#73b66f"/><rect x="358.88" y="374.15" width="5.61" height="10.09" fill="#e04d45"/><rect x="364.49" y="336.21" width="5.61" height="33.14" fill="#73b66f"/><rect x="364.49" y="369.35" width="5.61" height="14.89" fill="#e04d45"/><rect x="370.1" y="336.21" width="5.61" height="38.9" fill="#73b66f"/><rect x="370.1" y="375.11" width="5.61" height="9.13" fill="#e04d45"/><rect x="381.31" y="336.21" width="11.22" height="38.9" fill="#73b66f"/><rect x="381.31" y="375.11" width="11.22" height="9.13" fill="#e04d45"/><rect x="398.13" y="336.21" width="5.61" height="39.86" fill="#73b66f"/><rect x="398.13" y="376.07" width="5.61" height="8.17" fill="#e04d45"/><rect x="403.74" y="336.21" width="67.29" height="48.03" fill="#1d1d1d"/><rect x="409.35" y="336.21" width="5.61" height="45.15" fill="#73b66f"/><rect x="409.35" y="381.36" width="5.61" height="2.88" fill="#e04d45"/><rect x="414.96" y="336.21" width="5.61" height="42.75" fill="#73b66f"/><rect x="414.96" y="378.96" width="5.61" height="5.28" fill="#e04d45"/><rect x="420.56" y="336.21" width="5.61" height="33.62" fill="#73b66f"/><rect x="420.56" y="369.83" width="5.61" height="14.41" fill="#e04d45"/><rect x="426.17" y="336.21" width="5.61" height="43.71" fill="#73b66f"/><rect x="426.17" y="379.92" width="5.61" height="4.32" fill="#e04d45"/><rect x="431.78" y="336.21" width="5.61" height="33.62" fill="#73b66f"/><rect x="431.78" y="369.83" width="5.61" height="14.41" fill="#e04d45"/><rect x="437.38" y="336.21" width="5.61" height="44.19" fill="#73b66f"/><rect x="437.38" y="380.4" width="5.61" height="3.84" fill="#e04d45"/><rect x="448.6" y="336.21" width="5.61" height="44.19" fill="#73b66f"/><rect x="448.6" y="380.4" width="5.61" height="3.84" fill="#e04d45"/><rect x="454.21" y="336.21" width="5.61" height="41.79" fill="#73b66f"/><rect x="454.21" y="378" width="5.61" height="6.24" fill="#e04d45"/><rect x="465.42" y="336.21" width="5.61" height="46.11" fill="#73b66f"/><rect x="465.42" y="382.32" width="5.61" height="1.92" fill="#e04d45"/><rect x="471.03" y="336.21" width="67.29" height="48.03" fill="#1d1d1d"/><rect x="482.25" y="336.21" width="11.22" height="21.61" fill="#e04d45"/><rect x="482.25" y="357.82" width="11.22" height="18.25" fill="#bf413b"/><rect x="482.25" y="376.07" width="11.22" height="8.17" fill="#9c3231"/><rect x="504.68" y="336.21" width="11.22" height="21.61" fill="#e04d45"/><rect x="504.68" y="357.82" width="11.22" height="18.25" fill="#bf413b"/><rect x="504.68" y="376.07" width="11.22" height="8.17" fill="#9c3231"/><rect x="527.11" y="336.21" width="11.22" height="21.61" fill="#e04d45"/><rect x="527.11" y="357.82" width="11.22" height="18.25" fill="#bf413b"/><rect x="527.11" y="376.07" width="11.22" height="8.17" fill="#9c3231"/><rect x="538.32" y="336.21" width="67.29" height="48.03" fill="#1d1d1d"/><rect x="538.32" y="336.21" width="16.82" height="14.89" fill="#73b66f"/><rect x="538.32" y="351.1" width="16.82" height="16.81" fill="#e04d45"/><rect x="538.32" y="367.91" width="16.82" height="16.33" fill="#bf413b"/><rect x="588.79" y="336.21" width="16.82" height="15.85" fill="#73b66f"/><rect x="588.79" y="352.06" width="16.82" height="27.38" fill="#e04d45"/><rect x="588.79" y="379.44" width="16.82" height="4.8" fill="#bf413b"/><rect x="605.61" y="336.21" width="67.29" height="48.03" fill="#1d1d1d"/><rect x="605.61" y="336.21" width="16.82" height="30.74" fill="#73b66f"/><rect x="605.61" y="366.95" width="16.82" height="17.29" fill="#e04d45"/><rect x="639.26" y="336.21" width="16.82" height="14.89" fill="#73b66f"/><rect x="639.26" y="351.1" width="16.82" height="33.14" fill="#e04d45"/><rect x="656.08" y="336.21" width="16.82" height="30.74" fill="#73b66f"/><rect x="656.08" y="366.95" width="16.82" height="17.29" fill="#e04d45"/><rect x="672.9" y="336.21" width="67.29" height="48.03" fill="#1d1d1d"/><rect x="672.9" y="336.21" width="16.82" height="27.38" fill="#73b66f"/><rect x="672.9" y="363.59" width="16.82" height="20.65" fill="#e04d45"/><rect x="706.55" y="336.21" width="16.82" height="19.21" fill="#73b66f"/><rect x="706.55" y="355.42" width="16.82" height="28.82" fill="#e04d45"/><rect x="723.37" y="336.21" width="16.82" height="28.34" fill="#73b66f"/><rect x="723.37" y="364.55" width="16.82" height="19.69" fill="#e04d45"/><rect x="740.19" y="336.21" width="67.29" height="48.03" fill="#1d1d1d"/><rect x="740.19" y="336.21" width="16.82" height="29.3" fill="#73b66f"/><rect x="740.19" y="365.51" width="16.82" height="18.73" fill="#e04d45"/><rect x="773.84" y="336.21" width="33.64" height="29.3" fill="#73b66f"/><rect x="773.84" y="365.51" width="33.64" height="18.73" fill="#e04d45"/><rect x="807.48" y="336.21" width="67.29" height="48.03" fill="#1d1d1d"/><rect x="807.48" y="336.21" width="16.82" height="20.17" fill="#73b66f"/><rect x="807.48" y="356.38" width="16.82" height="27.86" fill="#e04d45"/><rect x="841.12" y="336.21" width="33.65" height="20.17" fill="#73b66f"/><rect x="841.12" y="356.38" width="33.65" height="27.86" fill="#e04d45"/><rect x="0" y="384.24" width="67.29" height="48.03" fill="#1d1d1d"/><rect x="0" y="384.24" width="5.61" height="15.37" fill="#73b66f"/><rect x="0" y="399.61" width="5.61" height="21.23" fill="#e04d45"/><rect x="0" y="420.84" width="5.61" height="11.43" fill="#bf413b"/><rect x="11.22" y="384.24" width="5.61" height="15.37" fill="#73b66f"/><rect x="11.22" y="399.61" width="5.61" height="21.23" fill="#e04d45"/><rect x="11.22" y="420.84" width="5.61" height="11.43" fill="#bf413b"/><rect x="33.65" y="384.24" width="11.22" height="17.29" fill="#73b66f"/><rect x="33.65" y="401.53" width="11.22" height="19.98" fill="#e04d45"/><rect x="33.65" y="421.51" width="11.22" height="10.76" fill="#bf413b"/><rect x="44.86" y="384.24" width="11.22" height="8.17" fill="#73b66f"/><rect x="44.86" y="392.41" width="11.22" height="25.91" fill="#e04d45"/><rect x="44.86" y="418.32" width="11.22" height="13.95" fill="#bf413b"/><rect x="56.08" y="384.24" width="5.61" height="17.29" fill="#73b66f"/><rect x="56.08" y="401.53" width="5.61" height="19.98" fill="#e04d45"/><rect x="56.08" y="421.51" width="5.61" height="10.76" fill="#bf413b"/><rect x="67.29" y="384.24" width="67.29" height="48.03" fill="#1d1d1d"/><rect x="67.29" y="384.24" width="5.61" height="15.37" fill="#73b66f"/><rect x="67.29" y="399.61" width="5.61" height="32.66" fill="#e04d45"/><rect x="78.51" y="384.24" width="5.61" height="29.3" fill="#73b66f"/><rect x="78.51" y="413.54" width="5.61" height="18.73" fill="#e04d45"/><rect x="84.11" y="384.24" width="5.61" height="19.69" fill="#73b66f"/><rect x="84.11" y="403.93" width="5.61" height="28.34" fill="#e04d45"/><rect x="95.33" y="384.24" width="5.61" height="15.37" fill="#73b66f"/><rect x="95.33" y="399.61" width="5.61" height="32.66" fill="#e04d45"/><rect x="100.94" y="384.24" width="5.61" height="30.26" fill="#73b66f"/><rect x="100.94" y="414.5" width="5.61" height="17.77" fill="#e04d45"/><rect x="106.54" y="384.24" width="5.61" height="17.29" fill="#73b66f"/><rect x="106.54" y="401.53" width="5.61" height="30.74" fill="#e04d45"/><rect x="112.15" y="384.24" width="5.61" height="30.26" fill="#73b66f"/><rect x="112.15" y="414.5" width="5.61" height="17.77" fill="#e04d45"/><rect x="117.76" y="384.24" width="5.61" height="25.94" fill="#73b66f"/><rect x="117.76" y="410.18" width="5.61" height="22.09" fill="#e04d45"/><rect x="123.37" y="384.24" width="5.61" height="15.37" fill="#73b66f"/><rect x="123.37" y="399.61" width="5.61" height="32.66" fill="#e04d45"/><rect x="134.58" y="384.24" width="67.29" height="48.03" fill="#1d1d1d"/><rect x="134.58" y="384.24" width="5.61" height="27.86" fill="#73b66f"/><rect x="134.58" y="412.1" width="5.61" height="20.17" fill="#e04d45"/><rect x="145.8" y="384.24" width="5.61" height="39.86" fill="#73b66f"/><rect x="145.8" y="424.1" width="5.61" height="8.17" fill="#e04d45"/><rect x="151.4" y="384.24" width="5.61" height="25.94" fill="#73b66f"/><rect x="151.4" y="410.18" width="5.61" height="22.09" fill="#e04d45"/><rect x="162.62" y="384.24" width="5.61" height="25.94" fill="#73b66f"/><rect x="162.62" y="410.18" width="5.61" height="22.09" fill="#e04d45"/><rect x="168.23" y="384.24" width="5.61" height="33.62" fill="#73b66f"/><rect x="168.23" y="417.86" width="5.61" height="14.41" fill="#e04d45"/><rect x="173.83" y="384.24" width="5.61" height="29.3" fill="#73b66f"/><rect x="173.83" y="413.54" width="5.61" height="18.73" fill="#e04d45"/><rect x="179.44" y="384.24" width="11.22" height="33.14" fill="#73b66f"/><rect x="179.44" y="417.38" width="11.22" height="14.89" fill="#e04d45"/><rect x="190.66" y="384.24" width="5.61" height="27.86" fill="#73b66f"/><rect x="190.66" y="412.1" width="5.61" height="20.17" fill="#e04d45"/><rect x="201.87" y="384.24" width="67.29" height="48.03" fill="#1d1d1d"/><rect x="201.87" y="384.24" width="5.61" height="28.82" fill="#73b66f"/><rect x="201.87" y="413.06" width="5.61" height="19.21" fill="#e04d45"/><rect x="213.09" y="384.24" width="5.61" height="41.79" fill="#73b66f"/><rect x="213.09" y="426.03" width="5.61" height="6.24" fill="#e04d45"/><rect x="218.69" y="384.24" width="5.61" height="33.14" fill="#73b66f"/><rect x="218.69" y="417.38" width="5.61" height="14.89" fill="#e04d45"/><rect x="229.91" y="384.24" width="11.21" height="33.14" fill="#73b66f"/><rect x="229.91" y="417.38" width="11.21" height="14.89" fill="#e04d45"/><rect x="241.12" y="384.24" width="5.61" height="24.98" fill="#73b66f"/><rect x="241.12" y="409.22" width="5.61" height="23.05" fill="#e04d45"/><rect x="246.73" y="384.24" width="5.61" height="33.14" fill="#73b66f"/><rect x="246.73" y="417.38" width="5.61" height="14.89" fill="#e04d45"/><rect x="252.34" y="384.24" width="5.61" height="33.62" fill="#73b66f"/><rect x="252.34" y="417.86" width="5.61" height="14.41" fill="#e04d45"/><rect x="257.95" y="384.24" width="5.61" height="28.82" fill="#73b66f"/><rect x="257.95" y="413.06" width="5.61" height="19.21" fill="#e04d45"/><rect x="269.16" y="384.24" width="67.29" height="48.03" fill="#1d1d1d"/><rect x="269.16" y="384.24" width="5.61" height="33.14" fill="#73b66f"/><rect x="269.16" y="417.38" width="5.61" height="14.89" fill="#e04d45"/><rect x="280.38" y="384.24" width="11.22" height="38.42" fill="#73b66f"/><rect x="280.38" y="422.66" width="11.22" height="9.61" fill="#e04d45"/><rect x="297.2" y="384.24" width="5.61" height="38.42" fill="#73b66f"/><rect x="297.2" y="422.66" width="5.61" height="9.61" fill="#e04d45"/><rect x="302.81" y="384.24" width="28.04" height="37.46" fill="#73b66f"/><rect x="302.81" y="421.7" width="28.04" height="10.57" fill="#e04d45"/><rect x="336.45" y="384.24" width="67.29" height="48.03" fill="#1d1d1d"/><rect x="336.45" y="384.24" width="5.61" height="26.9" fill="#73b66f"/><rect x="336.45" y="411.14" width="5.61" height="21.13" fill="#e04d45"/><rect x="347.67" y="384.24" width="5.61" height="38.42" fill="#73b66f"/><rect x="347.67" y="422.66" width="5.61" height="9.61" fill="#e04d45"/><rect x="353.27" y="384.24" width="5.61" height="37.46" fill="#73b66f"/><rect x="353.27" y="421.7" width="5.61" height="10.57" fill="#e04d45"/><rect x="364.49" y="384.24" width="5.61" height="38.42" fill="#73b66f"/><rect x="364.49" y="422.66" width="5.61" height="9.61" fill="#e04d45"/><rect x="370.1" y="384.24" width="5.61" height="37.46" fill="#73b66f"/><rect x="370.1" y="421.7" width="5.61" height="10.57" fill="#e04d45"/><rect x="375.7" y="384.24" width="5.61" height="27.86" fill="#73b66f"/><rect x="375.7" y="412.1" width="5.61" height="20.17" fill="#e04d45"/><rect x="381.31" y="384.24" width="11.22" height="38.42" fill="#73b66f"/><rect x="381.31" y="422.66" width="11.22" height="9.61" fill="#e04d45"/><rect x="392.53" y="384.24" width="5.61" height="26.9" fill="#73b66f"/><rect x="392.53" y="411.14" width="5.61" height="21.13" fill="#e04d45"/><rect x="403.74" y="384.24" width="67.29" height="48.03" fill="#1d1d1d"/><rect x="403.74" y="384.24" width="5.61" height="25.94" fill="#73b66f"/><rect x="403.74" y="410.18" width="5.61" height="22.09" fill="#e04d45"/><rect x="414.96" y="384.24" width="5.61" height="41.79" fill="#73b66f"/><rect x="414.96" y="426.03" width="5.61" height="6.24" fill="#e04d45"/><rect x="420.56" y="384.24" width="5.61" height="38.42" fill="#73b66f"/><rect x="420.56" y="422.66" width="5.61" height="9.61" fill="#e04d45"/><rect x="431.78" y="384.24" width="11.21" height="38.42" fill="#73b66f"/><rect x="431.78" y="422.66" width="11.21" height="9.61" fill="#e04d45"/><rect x="442.99" y="384.24" width="5.61" height="31.22" fill="#73b66f"/><rect x="442.99" y="415.46" width="5.61" height="16.81" fill="#e04d45"/><rect x="448.6" y="384.24" width="11.22" height="38.42" fill="#73b66f"/><rect x="448.6" y="422.66" width="11.22" height="9.61" fill="#e04d45"/><rect x="459.82" y="384.24" width="5.61" height="25.94" fill="#73b66f"/><rect x="459.82" y="410.18" width="5.61" height="22.09" fill="#e04d45"/><rect x="471.03" y="384.24" width="67.29" height="48.03" fill="#1d1d1d"/><rect x="471.03" y="384.24" width="5.61" height="20.65" fill="#73b66f"/><rect x="471.03" y="404.89" width="5.61" height="17.8" fill="#e04d45"/><rect x="471.03" y="422.69" width="5.61" height="9.58" fill="#bf413b"/><rect x="482.25" y="384.24" width="5.61" height="16.81" fill="#73b66f"/><rect x="482.25" y="401.05" width="5.61" height="20.29" fill="#e04d45"/><rect x="482.25" y="421.34" width="5.61" height="10.93" fill="#bf413b"/><rect x="504.68" y="384.24" width="5.61" height="16.81" fill="#73b66f"/><rect x="504.68" y="401.05" width="5.61" height="20.29" fill="#e04d45"/><rect x="504.68" y="421.34" width="5.61" height="10.93" fill="#bf413b"/><rect x="510.28" y="384.24" width="5.61" height="20.65" fill="#73b66f"/><rect x="510.28" y="404.89" width="5.61" height="17.8" fill="#e04d45"/><rect x="510.28" y="422.69" width="5.61" height="9.58" fill="#bf413b"/><rect x="515.89" y="384.24" width="5.61" height="17.29" fill="#73b66f"/><rect x="515.89" y="401.53" width="5.61" height="19.98" fill="#e04d45"/><rect x="515.89" y="421.51" width="5.61" height="10.76" fill="#bf413b"/><rect x="521.5" y="384.24" width="5.61" height="15.37" fill="#73b66f"/><rect x="521.5" y="399.61" width="5.61" height="21.23" fill="#e04d45"/><rect x="521.5" y="420.84" width="5.61" height="11.43" fill="#bf413b"/><rect x="527.11" y="384.24" width="5.61" height="20.65" fill="#73b66f"/><rect x="527.11" y="404.89" width="5.61" height="17.8" fill="#e04d45"/><rect x="527.11" y="422.69" width="5.61" height="9.58" fill="#bf413b"/><rect x="538.32" y="384.24" width="67.29" height="48.03" fill="#1d1d1d"/><rect x="538.32" y="384.24" width="11.22" height="17.29" fill="#e04d45"/><rect x="538.32" y="401.53" width="11.22" height="18.73" fill="#bf413b"/><rect x="538.32" y="420.26" width="11.22" height="12.01" fill="#9c3231"/><rect x="571.97" y="384.24" width="11.22" height="9.61" fill="#e04d45"/><rect x="571.97" y="393.85" width="11.22" height="16.81" fill="#bf413b"/><rect x="571.97" y="410.66" width="11.22" height="21.61" fill="#9c3231"/><rect x="583.18" y="384.24" width="11.21" height="10.57" fill="#e04d45"/><rect x="583.18" y="394.81" width="11.21" height="18.25" fill="#bf413b"/><rect x="583.18" y="413.06" width="11.21" height="19.21" fill="#9c3231"/><rect x="605.61" y="384.24" width="67.29" height="48.03" fill="#1d1d1d"/><rect x="605.61" y="384.24" width="16.82" height="41.31" fill="#73b66f"/><rect x="605.61" y="425.55" width="16.82" height="6.72" fill="#e04d45"/><rect x="622.43" y="384.24" width="16.82" height="21.13" fill="#73b66f"/><rect x="622.43" y="405.37" width="16.82" height="8.65" fill="#e04d45"/><rect x="622.43" y="414.02" width="16.82" height="18.25" fill="#bf413b"/><rect x="656.08" y="384.24" width="16.82" height="42.27" fill="#73b66f"/><rect x="656.08" y="426.51" width="16.82" height="5.76" fill="#e04d45"/><rect x="672.9" y="384.24" width="67.29" height="48.03" fill="#1d1d1d"/><rect x="672.9" y="384.24" width="16.82" height="35.54" fill="#73b66f"/><rect x="672.9" y="419.78" width="16.82" height="12.49" fill="#e04d45"/><rect x="689.72" y="384.24" width="16.82" height="19.69" fill="#73b66f"/><rect x="689.72" y="403.93" width="16.82" height="14.89" fill="#e04d45"/><rect x="689.72" y="418.82" width="16.82" height="13.45" fill="#bf413b"/><rect x="723.37" y="384.24" width="16.82" height="34.58" fill="#73b66f"/><rect x="723.37" y="418.82" width="16.82" height="13.45" fill="#e04d45"/><rect x="740.19" y="384.24" width="67.29" height="48.03" fill="#1d1d1d"/><rect x="740.19" y="384.24" width="16.82" height="42.27" fill="#73b66f"/><rect x="740.19" y="426.51" width="16.82" height="5.76" fill="#e04d45"/><rect x="757.01" y="384.24" width="16.82" height="25.46" fill="#73b66f"/><rect x="757.01" y="409.7" width="16.82" height="17.77" fill="#e04d45"/><rect x="757.01" y="427.47" width="16.82" height="4.8" fill="#bf413b"/><rect x="790.66" y="384.24" width="16.82" height="42.27" fill="#73b66f"/><rect x="790.66" y="426.51" width="16.82" height="5.76" fill="#e04d45"/><rect x="807.48" y="384.24" width="67.29" height="48.03" fill="#1d1d1d"/><rect x="807.48" y="384.24" width="16.82" height="35.54" fill="#73b66f"/><rect x="807.48" y="419.78" width="16.82" height="12.49" fill="#e04d45"/><rect x="824.3" y="384.24" width="16.82" height="21.13" fill="#73b66f"/><rect x="824.3" y="405.37" width="16.82" height="15.85" fill="#e04d45"/><rect x="824.3" y="421.22" width="16.82" height="11.05" fill="#bf413b"/><rect x="857.95" y="384.24" width="16.82" height="35.54" fill="#73b66f"/><rect x="857.95" y="419.78" width="16.82" height="12.49" fill="#e04d45"/><rect x="0" y="432.27" width="67.29" height="48.03" fill="#1d1d1d"/><rect x="0" y="432.27" width="5.61" height="24.98" fill="#73b66f"/><rect x="0" y="457.25" width="5.61" height="23.05" fill="#e04d45"/><rect x="5.61" y="432.27" width="5.61" height="39.86" fill="#73b66f"/><rect x="5.61" y="472.13" width="5.61" height="8.17" fill="#e04d45"/><rect x="11.22" y="432.27" width="5.61" height="35.54" fill="#73b66f"/><rect x="11.22" y="467.81" width="5.61" height="12.49" fill="#e04d45"/><rect x="33.65" y="432.27" width="5.61" height="43.23" fill="#73b66f"/><rect x="33.65" y="475.5" width="5.61" height="4.8" fill="#e04d45"/><rect x="39.25" y="432.27" width="5.61" height="25.46" fill="#73b66f"/><rect x="39.25" y="457.73" width="5.61" height="22.57" fill="#e04d45"/><rect x="44.86" y="432.27" width="11.22" height="42.27" fill="#73b66f"/><rect x="44.86" y="474.54" width="11.22" height="5.76" fill="#e04d45"/><rect x="56.08" y="432.27" width="5.61" height="24.98" fill="#73b66f"/><rect x="56.08" y="457.25" width="5.61" height="23.05" fill="#e04d45"/><rect x="61.68" y="432.27" width="5.61" height="40.35" fill="#73b66f"/><rect x="61.68" y="472.62" width="5.61" height="7.68" fill="#e04d45"/><rect x="67.29" y="432.27" width="67.29" height="48.03" fill="#1d1d1d"/><rect x="67.29" y="432.27" width="5.61" height="32.66" fill="#73b66f"/><rect x="67.29" y="464.93" width="5.61" height="15.37" fill="#e04d45"/><rect x="72.9" y="432.27" width="5.61" height="42.75" fill="#73b66f"/><rect x="72.9" y="475.02" width="5.61" height="5.28" fill="#e04d45"/><rect x="78.51" y="432.27" width="5.61" height="48.03" fill="#73b66f"/><rect x="84.11" y="432.27" width="16.82" height="6.72" fill="#73b66f"/><rect x="84.11" y="438.99" width="16.82" height="23.05" fill="#e04d45"/><rect x="84.11" y="462.05" width="16.82" height="18.25" fill="#bf413b"/><rect x="100.94" y="432.27" width="5.61" height="42.75" fill="#73b66f"/><rect x="100.94" y="475.02" width="5.61" height="5.28" fill="#e04d45"/><rect x="106.54" y="432.27" width="5.61" height="23.53" fill="#73b66f"/><rect x="106.54" y="455.8" width="5.61" height="24.5" fill="#e04d45"/><rect x="112.15" y="432.27" width="5.61" height="31.22" fill="#73b66f"/><rect x="112.15" y="463.49" width="5.61" height="16.81" fill="#e04d45"/><rect x="117.76" y="432.27" width="5.61" height="48.03" fill="#73b66f"/><rect x="123.37" y="432.27" width="5.61" height="42.27" fill="#73b66f"/><rect x="123.37" y="474.54" width="5.61" height="5.76" fill="#e04d45"/><rect x="128.97" y="432.27" width="5.61" height="42.75" fill="#73b66f"/><rect x="128.97" y="475.02" width="5.61" height="5.28" fill="#e04d45"/><rect x="134.58" y="432.27" width="67.29" height="48.03" fill="#1d1d1d"/><rect x="134.58" y="432.27" width="5.61" height="2.88" fill="#73b66f"/><rect x="134.58" y="435.15" width="5.61" height="21.22" fill="#e04d45"/><rect x="134.58" y="456.37" width="5.61" height="15.35" fill="#bf413b"/><rect x="134.58" y="471.72" width="5.61" height="8.58" fill="#9c3231"/><rect x="140.19" y="432.27" width="5.61" height="25.94" fill="#73b66f"/><rect x="140.19" y="458.21" width="5.61" height="10.38" fill="#e04d45"/><rect x="140.19" y="468.59" width="5.61" height="7.51" fill="#bf413b"/><rect x="140.19" y="476.1" width="5.61" height="4.2" fill="#9c3231"/><rect x="145.8" y="432.27" width="5.61" height="29.78" fill="#73b66f"/><rect x="145.8" y="462.05" width="5.61" height="8.58" fill="#e04d45"/><rect x="145.8" y="470.63" width="5.61" height="6.21" fill="#bf413b"/><rect x="145.8" y="476.83" width="5.61" height="3.47" fill="#9c3231"/><rect x="151.4" y="432.27" width="16.82" height="5.28" fill="#73b66f"/><rect x="151.4" y="437.55" width="16.82" height="20.09" fill="#e04d45"/><rect x="151.4" y="457.64" width="16.82" height="14.53" fill="#bf413b"/><rect x="151.4" y="472.18" width="16.82" height="8.12" fill="#9c3231"/><rect x="168.23" y="432.27" width="5.61" height="28.82" fill="#73b66f"/><rect x="168.23" y="461.09" width="5.61" height="9.03" fill="#e04d45"/><rect x="168.23" y="470.12" width="5.61" height="6.53" fill="#bf413b"/><rect x="168.23" y="476.65" width="5.61" height="3.65" fill="#9c3231"/><rect x="173.83" y="432.27" width="5.61" height="7.2" fill="#73b66f"/><rect x="173.83" y="439.47" width="5.61" height="19.19" fill="#e04d45"/><rect x="173.83" y="458.66" width="5.61" height="13.88" fill="#bf413b"/><rect x="173.83" y="472.54" width="5.61" height="7.76" fill="#9c3231"/><rect x="179.44" y="432.27" width="5.61" height="27.86" fill="#73b66f"/><rect x="179.44" y="460.13" width="5.61" height="9.48" fill="#e04d45"/><rect x="179.44" y="469.61" width="5.61" height="6.86" fill="#bf413b"/><rect x="179.44" y="476.47" width="5.61" height="3.83" fill="#9c3231"/><rect x="185.05" y="432.27" width="5.61" height="28.82" fill="#73b66f"/><rect x="185.05" y="461.09" width="5.61" height="9.03" fill="#e04d45"/><rect x="185.05" y="470.12" width="5.61" height="6.53" fill="#bf413b"/><rect x="185.05" y="476.65" width="5.61" height="3.65" fill="#9c3231"/><rect x="190.66" y="432.27" width="5.61" height="1.92" fill="#73b66f"/><rect x="190.66" y="434.19" width="5.61" height="21.67" fill="#e04d45"/><rect x="190.66" y="455.86" width="5.61" height="15.68" fill="#bf413b"/><rect x="190.66" y="471.54" width="5.61" height="8.76" fill="#9c3231"/><rect x="196.26" y="432.27" width="5.61" height="25.94" fill="#73b66f"/><rect x="196.26" y="458.21" width="5.61" height="10.38" fill="#e04d45"/><rect x="196.26" y="468.59" width="5.61" height="7.51" fill="#bf413b"/><rect x="196.26" y="476.1" width="5.61" height="4.2" fill="#9c3231"/><rect x="201.87" y="432.27" width="67.29" height="48.03" fill="#1d1d1d"/><rect x="201.87" y="432.27" width="5.61" height="0.96" fill="#73b66f"/><rect x="201.87" y="433.23" width="5.61" height="22.12" fill="#e04d45"/><rect x="201.87" y="455.35" width="5.61" height="16" fill="#bf413b"/><rect x="201.87" y="471.36" width="5.61" height="8.94" fill="#9c3231"/><rect x="207.48" y="432.27" width="5.61" height="25.94" fill="#73b66f"/><rect x="207.48" y="458.21" width="5.61" height="10.38" fill="#e04d45"/><rect x="207.48" y="468.59" width="5.61" height="7.51" fill="#bf413b"/><rect x="207.48" y="476.1" width="5.61" height="4.2" fill="#9c3231"/><rect x="213.09" y="432.27" width="5.61" height="24.01" fill="#73b66f"/><rect x="213.09" y="456.28" width="5.61" height="11.29" fill="#e04d45"/><rect x="213.09" y="467.57" width="5.61" height="8.17" fill="#bf413b"/><rect x="213.09" y="475.74" width="5.61" height="4.56" fill="#9c3231"/><rect x="218.69" y="432.27" width="11.22" height="21.13" fill="#73b66f"/><rect x="218.69" y="453.4" width="11.22" height="12.64" fill="#e04d45"/><rect x="218.69" y="466.04" width="11.22" height="9.14" fill="#bf413b"/><rect x="218.69" y="475.19" width="11.22" height="5.11" fill="#9c3231"/><rect x="229.91" y="432.27" width="5.61" height="6.72" fill="#73b66f"/><rect x="229.91" y="438.99" width="5.61" height="19.41" fill="#e04d45"/><rect x="229.91" y="458.41" width="5.61" height="14.04" fill="#bf413b"/><rect x="229.91" y="472.45" width="5.61" height="7.85" fill="#9c3231"/><rect x="235.52" y="432.27" width="5.61" height="30.26" fill="#73b66f"/><rect x="235.52" y="462.53" width="5.61" height="8.35" fill="#e04d45"/><rect x="235.52" y="470.88" width="5.61" height="6.04" fill="#bf413b"/><rect x="235.52" y="476.92" width="5.61" height="3.38" fill="#9c3231"/><rect x="241.12" y="432.27" width="5.61" height="4.8" fill="#73b66f"/><rect x="241.12" y="437.07" width="5.61" height="20.32" fill="#e04d45"/><rect x="241.12" y="457.39" width="5.61" height="14.7" fill="#bf413b"/><rect x="241.12" y="472.09" width="5.61" height="8.21" fill="#9c3231"/><rect x="246.73" y="432.27" width="5.61" height="31.22" fill="#73b66f"/><rect x="246.73" y="463.49" width="5.61" height="7.9" fill="#e04d45"/><rect x="246.73" y="471.39" width="5.61" height="5.72" fill="#bf413b"/><rect x="246.73" y="477.11" width="5.61" height="3.19" fill="#9c3231"/><rect x="252.34" y="432.27" width="5.61" height="24.98" fill="#73b66f"/><rect x="252.34" y="457.25" width="5.61" height="10.84" fill="#e04d45"/><rect x="252.34" y="468.08" width="5.61" height="7.84" fill="#bf413b"/><rect x="252.34" y="475.92" width="5.61" height="4.38" fill="#9c3231"/><rect x="257.95" y="432.27" width="5.61" height="0.48" fill="#73b66f"/><rect x="257.95" y="432.75" width="5.61" height="22.35" fill="#e04d45"/><rect x="257.95" y="455.1" width="5.61" height="16.17" fill="#bf413b"/><rect x="257.95" y="471.27" width="5.61" height="9.03" fill="#9c3231"/><rect x="263.55" y="432.27" width="5.61" height="24.98" fill="#73b66f"/><rect x="263.55" y="457.25" width="5.61" height="10.84" fill="#e04d45"/><rect x="263.55" y="468.08" width="5.61" height="7.84" fill="#bf413b"/><rect x="263.55" y="475.92" width="5.61" height="4.38" fill="#9c3231"/><rect x="269.16" y="432.27" width="67.29" height="48.03" fill="#1d1d1d"/><rect x="269.16" y="444.28" width="5.61" height="3.96" fill="#73b66f"/><rect x="269.16" y="448.24" width="5.61" height="15.07" fill="#e04d45"/><rect x="269.16" y="463.31" width="5.61" height="10.9" fill="#bf413b"/><rect x="269.16" y="474.21" width="5.61" height="6.09" fill="#9c3231"/><rect x="274.77" y="444.28" width="11.21" height="24.5" fill="#73b66f"/><rect x="274.77" y="468.77" width="11.21" height="5.42" fill="#e04d45"/><rect x="274.77" y="474.19" width="11.21" height="3.92" fill="#bf413b"/><rect x="274.77" y="478.11" width="11.21" height="2.19" fill="#9c3231"/><rect x="285.98" y="444.28" width="16.82" height="9.73" fill="#73b66f"/><rect x="285.98" y="454" width="16.82" height="12.36" fill="#e04d45"/><rect x="285.98" y="466.36" width="16.82" height="8.94" fill="#bf413b"/><rect x="285.98" y="475.3" width="16.82" height="5" fill="#9c3231"/><rect x="302.81" y="444.28" width="5.61" height="30.26" fill="#73b66f"/><rect x="302.81" y="474.54" width="5.61" height="2.71" fill="#e04d45"/><rect x="302.81" y="477.25" width="5.61" height="1.96" fill="#bf413b"/><rect x="302.81" y="479.2" width="5.61" height="1.1" fill="#9c3231"/><rect x="308.41" y="444.28" width="5.61" height="13.33" fill="#73b66f"/><rect x="308.41" y="457.61" width="5.61" height="10.67" fill="#e04d45"/><rect x="308.41" y="468.27" width="5.61" height="7.72" fill="#bf413b"/><rect x="308.41" y="475.99" width="5.61" height="4.31" fill="#9c3231"/><rect x="314.02" y="444.28" width="5.61" height="30.26" fill="#73b66f"/><rect x="314.02" y="474.54" width="5.61" height="2.71" fill="#e04d45"/><rect x="314.02" y="477.25" width="5.61" height="1.96" fill="#bf413b"/><rect x="314.02" y="479.2" width="5.61" height="1.1" fill="#9c3231"/><rect x="319.63" y="444.28" width="5.61" height="24.5" fill="#73b66f"/><rect x="319.63" y="468.77" width="5.61" height="5.42" fill="#e04d45"/><rect x="319.63" y="474.19" width="5.61" height="3.92" fill="#bf413b"/><rect x="319.63" y="478.11" width="5.61" height="2.19" fill="#9c3231"/><rect x="325.24" y="444.28" width="5.61" height="3.96" fill="#73b66f"/><rect x="325.24" y="448.24" width="5.61" height="15.07" fill="#e04d45"/><rect x="325.24" y="463.31" width="5.61" height="10.9" fill="#bf413b"/><rect x="325.24" y="474.21" width="5.61" height="6.09" fill="#9c3231"/><rect x="330.84" y="444.28" width="5.61" height="24.5" fill="#73b66f"/><rect x="330.84" y="468.77" width="5.61" height="5.42" fill="#e04d45"/><rect x="330.84" y="474.19" width="5.61" height="3.92" fill="#bf413b"/><rect x="330.84" y="478.11" width="5.61" height="2.19" fill="#9c3231"/><rect x="336.45" y="432.27" width="67.29" height="48.03" fill="#1d1d1d"/><rect x="336.45" y="432.27" width="5.61" height="20.65" fill="#73b66f"/><rect x="336.45" y="452.92" width="5.61" height="12.87" fill="#e04d45"/><rect x="336.45" y="465.79" width="5.61" height="9.31" fill="#bf413b"/><rect x="336.45" y="475.1" width="5.61" height="5.2" fill="#9c3231"/><rect x="342.06" y="432.27" width="5.61" height="29.3" fill="#73b66f"/><rect x="342.06" y="461.57" width="5.61" height="8.8" fill="#e04d45"/><rect x="342.06" y="470.37" width="5.61" height="6.37" fill="#bf413b"/><rect x="342.06" y="476.74" width="5.61" height="3.56" fill="#9c3231"/><rect x="347.67" y="432.27" width="5.61" height="27.86" fill="#73b66f"/><rect x="347.67" y="460.13" width="5.61" height="9.48" fill="#e04d45"/><rect x="347.67" y="469.61" width="5.61" height="6.86" fill="#bf413b"/><rect x="347.67" y="476.47" width="5.61" height="3.83" fill="#9c3231"/><rect x="353.27" y="432.27" width="16.82" height="21.61" fill="#73b66f"/><rect x="353.27" y="453.88" width="16.82" height="12.42" fill="#e04d45"/><rect x="353.27" y="466.3" width="16.82" height="8.98" fill="#bf413b"/><rect x="353.27" y="475.28" width="16.82" height="5.02" fill="#9c3231"/><rect x="370.1" y="432.27" width="5.61" height="29.3" fill="#73b66f"/><rect x="370.1" y="461.57" width="5.61" height="8.8" fill="#e04d45"/><rect x="370.1" y="470.37" width="5.61" height="6.37" fill="#bf413b"/><rect x="370.1" y="476.74" width="5.61" height="3.56" fill="#9c3231"/><rect x="375.7" y="432.27" width="5.61" height="20.65" fill="#73b66f"/><rect x="375.7" y="452.92" width="5.61" height="12.87" fill="#e04d45"/><rect x="375.7" y="465.79" width="5.61" height="9.31" fill="#bf413b"/><rect x="375.7" y="475.1" width="5.61" height="5.2" fill="#9c3231"/><rect x="381.31" y="432.27" width="11.22" height="29.3" fill="#73b66f"/><rect x="381.31" y="461.57" width="11.22" height="8.8" fill="#e04d45"/><rect x="381.31" y="470.37" width="11.22" height="6.37" fill="#bf413b"/><rect x="381.31" y="476.74" width="11.22" height="3.56" fill="#9c3231"/><rect x="392.53" y="432.27" width="5.61" height="19.21" fill="#73b66f"/><rect x="392.53" y="451.48" width="5.61" height="13.54" fill="#e04d45"/><rect x="392.53" y="465.03" width="5.61" height="9.8" fill="#bf413b"/><rect x="392.53" y="474.82" width="5.61" height="5.48" fill="#9c3231"/><rect x="398.13" y="432.27" width="5.61" height="29.3" fill="#73b66f"/><rect x="398.13" y="461.57" width="5.61" height="8.8" fill="#e04d45"/><rect x="398.13" y="470.37" width="5.61" height="6.37" fill="#bf413b"/><rect x="398.13" y="476.74" width="5.61" height="3.56" fill="#9c3231"/><rect x="403.74" y="432.27" width="67.29" height="48.03" fill="#1d1d1d"/><rect x="403.74" y="432.27" width="5.61" height="9.61" fill="#73b66f"/><rect x="403.74" y="441.88" width="5.61" height="24.98" fill="#e04d45"/><rect x="403.74" y="466.85" width="5.61" height="13.45" fill="#bf413b"/><rect x="409.35" y="432.27" width="22.43" height="23.05" fill="#73b66f"/><rect x="409.35" y="455.32" width="22.43" height="16.23" fill="#e04d45"/><rect x="409.35" y="471.56" width="22.43" height="8.74" fill="#bf413b"/><rect x="431.78" y="432.27" width="5.61" height="14.41" fill="#73b66f"/><rect x="431.78" y="446.68" width="5.61" height="21.85" fill="#e04d45"/><rect x="431.78" y="468.53" width="5.61" height="11.77" fill="#bf413b"/><rect x="437.38" y="432.27" width="5.61" height="23.05" fill="#73b66f"/><rect x="437.38" y="455.32" width="5.61" height="16.23" fill="#e04d45"/><rect x="437.38" y="471.56" width="5.61" height="8.74" fill="#bf413b"/><rect x="442.99" y="432.27" width="5.61" height="13.45" fill="#73b66f"/><rect x="442.99" y="445.72" width="5.61" height="22.48" fill="#e04d45"/><rect x="442.99" y="468.2" width="5.61" height="12.1" fill="#bf413b"/><rect x="448.6" y="432.27" width="5.61" height="23.05" fill="#73b66f"/><rect x="448.6" y="455.32" width="5.61" height="16.23" fill="#e04d45"/><rect x="448.6" y="471.56" width="5.61" height="8.74" fill="#bf413b"/><rect x="454.21" y="432.27" width="5.61" height="15.85" fill="#73b66f"/><rect x="454.21" y="448.12" width="5.61" height="20.92" fill="#e04d45"/><rect x="454.21" y="469.04" width="5.61" height="11.26" fill="#bf413b"/><rect x="459.82" y="432.27" width="5.61" height="8.65" fill="#73b66f"/><rect x="459.82" y="440.92" width="5.61" height="25.6" fill="#e04d45"/><rect x="459.82" y="466.52" width="5.61" height="13.78" fill="#bf413b"/><rect x="465.42" y="432.27" width="5.61" height="23.05" fill="#73b66f"/><rect x="465.42" y="455.32" width="5.61" height="16.23" fill="#e04d45"/><rect x="465.42" y="471.56" width="5.61" height="8.74" fill="#bf413b"/><rect x="471.03" y="432.27" width="67.29" height="48.03" fill="#1d1d1d"/><rect x="471.03" y="432.27" width="5.61" height="21.61" fill="#73b66f"/><rect x="471.03" y="453.88" width="5.61" height="26.42" fill="#e04d45"/><rect x="476.64" y="432.27" width="5.61" height="34.1" fill="#73b66f"/><rect x="476.64" y="466.37" width="5.61" height="13.93" fill="#e04d45"/><rect x="482.25" y="432.27" width="5.61" height="31.7" fill="#73b66f"/><rect x="482.25" y="463.97" width="5.61" height="16.33" fill="#e04d45"/><rect x="504.68" y="432.27" width="5.61" height="35.06" fill="#73b66f"/><rect x="504.68" y="467.33" width="5.61" height="12.97" fill="#e04d45"/><rect x="510.28" y="432.27" width="5.61" height="26.9" fill="#73b66f"/><rect x="510.28" y="459.17" width="5.61" height="21.13" fill="#e04d45"/><rect x="515.89" y="432.27" width="11.21" height="34.1" fill="#73b66f"/><rect x="515.89" y="466.37" width="11.21" height="13.93" fill="#e04d45"/><rect x="527.11" y="432.27" width="5.61" height="21.61" fill="#73b66f"/><rect x="527.11" y="453.88" width="5.61" height="26.42" fill="#e04d45"/><rect x="532.71" y="432.27" width="5.61" height="34.1" fill="#73b66f"/><rect x="532.71" y="466.37" width="5.61" height="13.93" fill="#e04d45"/><rect x="538.32" y="432.27" width="67.29" height="48.03" fill="#1d1d1d"/><rect x="538.32" y="432.27" width="5.61" height="34.1" fill="#73b66f"/><rect x="538.32" y="466.37" width="5.61" height="13.93" fill="#e04d45"/><rect x="543.93" y="432.27" width="11.22" height="42.27" fill="#73b66f"/><rect x="543.93" y="474.54" width="11.22" height="5.76" fill="#e04d45"/><rect x="555.14" y="432.27" width="16.82" height="25.46" fill="#73b66f"/><rect x="555.14" y="457.73" width="16.82" height="10.57" fill="#e04d45"/><rect x="555.14" y="468.29" width="16.82" height="12.01" fill="#bf413b"/><rect x="588.79" y="432.27" width="16.82" height="42.27" fill="#73b66f"/><rect x="588.79" y="474.54" width="16.82" height="5.76" fill="#e04d45"/><rect x="605.61" y="432.27" width="67.29" height="48.03" fill="#1d1d1d"/><rect x="605.61" y="432.27" width="67.29" height="48.03" fill="#73b66f"/><rect x="672.9" y="432.27" width="67.29" height="48.03" fill="#1d1d1d"/><rect x="672.9" y="432.27" width="16.82" height="19.21" fill="#73b66f"/><rect x="672.9" y="451.48" width="16.82" height="22.09" fill="#e04d45"/><rect x="672.9" y="473.58" width="16.82" height="6.72" fill="#bf413b"/><rect x="689.72" y="432.27" width="16.82" height="0.96" fill="#73b66f"/><rect x="689.72" y="433.23" width="16.82" height="25.46" fill="#e04d45"/><rect x="689.72" y="458.69" width="16.82" height="16.81" fill="#bf413b"/><rect x="689.72" y="475.5" width="16.82" height="4.8" fill="#9c3231"/><rect x="706.55" y="432.27" width="16.82" height="0.96" fill="#73b66f"/><rect x="706.55" y="433.23" width="16.82" height="42.27" fill="#e04d45"/><rect x="706.55" y="475.5" width="16.82" height="4.8" fill="#bf413b"/><rect x="723.37" y="432.27" width="16.82" height="18.25" fill="#73b66f"/><rect x="723.37" y="450.52" width="16.82" height="24.98" fill="#e04d45"/><rect x="723.37" y="475.5" width="16.82" height="4.8" fill="#bf413b"/><rect x="740.19" y="432.27" width="67.29" height="48.03" fill="#1d1d1d"/><rect x="740.19" y="432.27" width="16.82" height="21.61" fill="#73b66f"/><rect x="740.19" y="453.88" width="16.82" height="18.25" fill="#e04d45"/><rect x="740.19" y="472.13" width="16.82" height="8.17" fill="#bf413b"/><rect x="757.01" y="432.27" width="16.82" height="21.61" fill="#73b66f"/><rect x="757.01" y="453.88" width="16.82" height="8.65" fill="#e04d45"/><rect x="757.01" y="462.53" width="16.82" height="17.77" fill="#bf413b"/><rect x="773.84" y="432.27" width="16.82" height="11.05" fill="#73b66f"/><rect x="773.84" y="443.32" width="16.82" height="9.61" fill="#e04d45"/><rect x="773.84" y="452.92" width="16.82" height="22.57" fill="#bf413b"/><rect x="773.84" y="475.5" width="16.82" height="4.8" fill="#9c3231"/><rect x="790.66" y="432.27" width="16.82" height="21.61" fill="#73b66f"/><rect x="790.66" y="453.88" width="16.82" height="19.21" fill="#e04d45"/><rect x="790.66" y="473.1" width="16.82" height="7.2" fill="#bf413b"/><rect x="807.48" y="432.27" width="67.29" height="48.03" fill="#1d1d1d"/><rect x="807.48" y="432.27" width="16.82" height="26.9" fill="#73b66f"/><rect x="807.48" y="459.17" width="16.82" height="18.73" fill="#e04d45"/><rect x="807.48" y="477.9" width="16.82" height="2.4" fill="#bf413b"/><rect x="824.3" y="432.27" width="16.82" height="37.46" fill="#73b66f"/><rect x="824.3" y="469.73" width="16.82" height="10.57" fill="#e04d45"/><rect x="841.12" y="432.27" width="16.82" height="15.85" fill="#73b66f"/><rect x="841.12" y="448.12" width="16.82" height="14.41" fill="#e04d45"/><rect x="841.12" y="462.53" width="16.82" height="17.77" fill="#bf413b"/><rect x="857.95" y="432.27" width="16.82" height="26.9" fill="#73b66f"/><rect x="857.95" y="459.17" width="16.82" height="16.33" fill="#e04d45"/><rect x="857.95" y="475.5" width="16.82" height="4.8" fill="#bf413b"/><rect x="0" y="480.3" width="67.29" height="48.03" fill="#1d1d1d"/><rect x="0" y="480.3" width="5.61" height="28.34" fill="#73b66f"/><rect x="0" y="508.64" width="5.61" height="19.69" fill="#e04d45"/><rect x="5.61" y="480.3" width="5.61" height="41.31" fill="#73b66f"/><rect x="5.61" y="521.61" width="5.61" height="6.72" fill="#e04d45"/><rect x="11.22" y="480.3" width="5.61" height="37.94" fill="#73b66f"/><rect x="11.22" y="518.24" width="5.61" height="10.09" fill="#e04d45"/><rect x="33.65" y="480.3" width="5.61" height="43.23" fill="#73b66f"/><rect x="33.65" y="523.53" width="5.61" height="4.8" fill="#e04d45"/><rect x="39.25" y="480.3" width="5.61" height="29.3" fill="#73b66f"/><rect x="39.25" y="509.6" width="5.61" height="18.73" fill="#e04d45"/><rect x="44.86" y="480.3" width="11.22" height="42.27" fill="#73b66f"/><rect x="44.86" y="522.57" width="11.22" height="5.76" fill="#e04d45"/><rect x="56.08" y="480.3" width="5.61" height="28.34" fill="#73b66f"/><rect x="56.08" y="508.64" width="5.61" height="19.69" fill="#e04d45"/><rect x="61.68" y="480.3" width="5.61" height="42.27" fill="#73b66f"/><rect x="61.68" y="522.57" width="5.61" height="5.76" fill="#e04d45"/><rect x="67.29" y="480.3" width="67.29" height="48.03" fill="#1d1d1d"/><rect x="67.29" y="480.3" width="5.61" height="26.9" fill="#73b66f"/><rect x="67.29" y="507.2" width="5.61" height="21.13" fill="#e04d45"/><rect x="72.9" y="480.3" width="11.22" height="48.03" fill="#73b66f"/><rect x="84.11" y="480.3" width="16.82" height="6.24" fill="#73b66f"/><rect x="84.11" y="486.54" width="16.82" height="26.42" fill="#e04d45"/><rect x="84.11" y="512.96" width="16.82" height="15.37" fill="#bf413b"/><rect x="100.94" y="480.3" width="5.61" height="35.06" fill="#73b66f"/><rect x="100.94" y="515.36" width="5.61" height="12.97" fill="#e04d45"/><rect x="106.54" y="480.3" width="5.61" height="19.21" fill="#73b66f"/><rect x="106.54" y="499.51" width="5.61" height="28.82" fill="#e04d45"/><rect x="112.15" y="480.3" width="5.61" height="36.02" fill="#73b66f"/><rect x="112.15" y="516.32" width="5.61" height="12.01" fill="#e04d45"/><rect x="117.76" y="480.3" width="5.61" height="48.03" fill="#73b66f"/><rect x="123.37" y="480.3" width="5.61" height="26.42" fill="#73b66f"/><rect x="123.37" y="506.72" width="5.61" height="21.61" fill="#e04d45"/><rect x="128.97" y="480.3" width="5.61" height="48.03" fill="#73b66f"/><rect x="134.58" y="480.3" width="67.29" height="48.03" fill="#1d1d1d"/><rect x="134.58" y="480.3" width="5.61" height="4.32" fill="#73b66f"/><rect x="134.58" y="484.62" width="5.61" height="20.54" fill="#e04d45"/><rect x="134.58" y="505.17" width="5.61" height="14.86" fill="#bf413b"/><rect x="134.58" y="520.03" width="5.61" height="8.3" fill="#9c3231"/><rect x="140.19" y="480.3" width="5.61" height="37.94" fill="#73b66f"/><rect x="140.19" y="518.24" width="5.61" height="4.74" fill="#e04d45"/><rect x="140.19" y="522.98" width="5.61" height="3.43" fill="#bf413b"/><rect x="140.19" y="526.41" width="5.61" height="1.92" fill="#9c3231"/><rect x="145.8" y="480.3" width="5.61" height="39.86" fill="#73b66f"/><rect x="145.8" y="520.16" width="5.61" height="3.84" fill="#e04d45"/><rect x="145.8" y="524" width="5.61" height="2.78" fill="#bf413b"/><rect x="145.8" y="526.78" width="5.61" height="1.55" fill="#9c3231"/><rect x="151.4" y="480.3" width="16.82" height="9.13" fill="#73b66f"/><rect x="151.4" y="489.43" width="16.82" height="18.29" fill="#e04d45"/><rect x="151.4" y="507.71" width="16.82" height="13.23" fill="#bf413b"/><rect x="151.4" y="520.94" width="16.82" height="7.39" fill="#9c3231"/><rect x="168.23" y="480.3" width="5.61" height="38.9" fill="#73b66f"/><rect x="168.23" y="519.2" width="5.61" height="4.29" fill="#e04d45"/><rect x="168.23" y="523.49" width="5.61" height="3.1" fill="#bf413b"/><rect x="168.23" y="526.6" width="5.61" height="1.73" fill="#9c3231"/><rect x="173.83" y="480.3" width="5.61" height="11.05" fill="#73b66f"/><rect x="173.83" y="491.35" width="5.61" height="17.38" fill="#e04d45"/><rect x="173.83" y="508.73" width="5.61" height="12.57" fill="#bf413b"/><rect x="173.83" y="521.3" width="5.61" height="7.03" fill="#9c3231"/><rect x="179.44" y="480.3" width="11.22" height="38.9" fill="#73b66f"/><rect x="179.44" y="519.2" width="11.22" height="4.29" fill="#e04d45"/><rect x="179.44" y="523.49" width="11.22" height="3.1" fill="#bf413b"/><rect x="179.44" y="526.6" width="11.22" height="1.73" fill="#9c3231"/><rect x="190.66" y="480.3" width="5.61" height="4.32" fill="#73b66f"/><rect x="190.66" y="484.62" width="5.61" height="20.54" fill="#e04d45"/><rect x="190.66" y="505.17" width="5.61" height="14.86" fill="#bf413b"/><rect x="190.66" y="520.03" width="5.61" height="8.3" fill="#9c3231"/><rect x="196.26" y="480.3" width="5.61" height="37.94" fill="#73b66f"/><rect x="196.26" y="518.24" width="5.61" height="4.74" fill="#e04d45"/><rect x="196.26" y="522.98" width="5.61" height="3.43" fill="#bf413b"/><rect x="196.26" y="526.41" width="5.61" height="1.92" fill="#9c3231"/><rect x="201.87" y="480.3" width="67.29" height="48.03" fill="#1d1d1d"/><rect x="201.87" y="487.5" width="5.61" height="3.67" fill="#73b66f"/><rect x="201.87" y="491.18" width="5.61" height="17.46" fill="#e04d45"/><rect x="201.87" y="508.64" width="5.61" height="12.63" fill="#bf413b"/><rect x="201.87" y="521.27" width="5.61" height="7.06" fill="#9c3231"/><rect x="207.48" y="487.5" width="11.21" height="34.7" fill="#73b66f"/><rect x="207.48" y="522.21" width="11.21" height="2.88" fill="#e04d45"/><rect x="207.48" y="525.08" width="11.21" height="2.08" fill="#bf413b"/><rect x="207.48" y="527.17" width="11.21" height="1.16" fill="#9c3231"/><rect x="218.69" y="487.5" width="16.82" height="14.29" fill="#73b66f"/><rect x="218.69" y="501.79" width="16.82" height="12.47" fill="#e04d45"/><rect x="218.69" y="514.27" width="16.82" height="9.02" fill="#bf413b"/><rect x="218.69" y="523.29" width="16.82" height="5.04" fill="#9c3231"/><rect x="235.52" y="487.5" width="5.61" height="34.7" fill="#73b66f"/><rect x="235.52" y="522.21" width="5.61" height="2.88" fill="#e04d45"/><rect x="235.52" y="525.08" width="5.61" height="2.08" fill="#bf413b"/><rect x="235.52" y="527.17" width="5.61" height="1.16" fill="#9c3231"/><rect x="241.12" y="487.5" width="5.61" height="8.98" fill="#73b66f"/><rect x="241.12" y="496.49" width="5.61" height="14.97" fill="#e04d45"/><rect x="241.12" y="511.45" width="5.61" height="10.83" fill="#bf413b"/><rect x="241.12" y="522.28" width="5.61" height="6.05" fill="#9c3231"/><rect x="246.73" y="487.5" width="11.22" height="34.7" fill="#73b66f"/><rect x="246.73" y="522.21" width="11.22" height="2.88" fill="#e04d45"/><rect x="246.73" y="525.08" width="11.22" height="2.08" fill="#bf413b"/><rect x="246.73" y="527.17" width="11.22" height="1.16" fill="#9c3231"/><rect x="257.95" y="487.5" width="5.61" height="3.67" fill="#73b66f"/><rect x="257.95" y="491.18" width="5.61" height="17.46" fill="#e04d45"/><rect x="257.95" y="508.64" width="5.61" height="12.63" fill="#bf413b"/><rect x="257.95" y="521.27" width="5.61" height="7.06" fill="#9c3231"/><rect x="263.55" y="487.5" width="5.61" height="34.7" fill="#73b66f"/><rect x="263.55" y="522.21" width="5.61" height="2.88" fill="#e04d45"/><rect x="263.55" y="525.08" width="5.61" height="2.08" fill="#bf413b"/><rect x="263.55" y="527.17" width="5.61" height="1.16" fill="#9c3231"/><rect x="269.16" y="480.3" width="67.29" height="48.03" fill="#1f1f1f"/><rect x="336.45" y="480.3" width="67.29" height="48.03" fill="#1f1f1f"/><rect x="403.74" y="480.3" width="67.29" height="48.03" fill="#1f1f1f"/><rect x="471.03" y="480.3" width="67.29" height="48.03" fill="#1d1d1d"/><rect x="471.03" y="526.89" width="5.61" height="1.44" fill="#e04d45"/><rect x="476.64" y="526.89" width="11.21" height="1.01" fill="#73b66f"/><rect x="476.64" y="527.9" width="11.21" height="0.43" fill="#e04d45"/><rect x="504.68" y="526.89" width="22.43" height="1.44" fill="#73b66f"/><rect x="527.11" y="526.89" width="5.61" height="0.58" fill="#73b66f"/><rect x="527.11" y="527.47" width="5.61" height="0.86" fill="#e04d45"/><rect x="532.71" y="526.89" width="5.61" height="1.44" fill="#73b66f"/><rect x="538.32" y="480.3" width="67.29" height="48.03" fill="#1d1d1d"/><rect x="538.32" y="480.3" width="5.61" height="28.34" fill="#73b66f"/><rect x="538.32" y="508.64" width="5.61" height="19.69" fill="#e04d45"/><rect x="543.93" y="480.3" width="5.61" height="36.98" fill="#73b66f"/><rect x="543.93" y="517.28" width="5.61" height="11.05" fill="#e04d45"/><rect x="549.54" y="480.3" width="5.61" height="35.54" fill="#73b66f"/><rect x="549.54" y="515.84" width="5.61" height="12.49" fill="#e04d45"/><rect x="555.14" y="480.3" width="16.82" height="21.13" fill="#73b66f"/><rect x="555.14" y="501.43" width="16.82" height="10.57" fill="#e04d45"/><rect x="555.14" y="512" width="16.82" height="16.33" fill="#bf413b"/><rect x="588.79" y="480.3" width="5.61" height="37.94" fill="#73b66f"/><rect x="588.79" y="518.24" width="5.61" height="10.09" fill="#e04d45"/><rect x="594.39" y="480.3" width="5.61" height="28.34" fill="#73b66f"/><rect x="594.39" y="508.64" width="5.61" height="19.69" fill="#e04d45"/><rect x="600" y="480.3" width="5.61" height="37.94" fill="#73b66f"/><rect x="600" y="518.24" width="5.61" height="10.09" fill="#e04d45"/><rect x="605.61" y="480.3" width="67.29" height="48.03" fill="#1d1d1d"/><rect x="605.61" y="480.3" width="5.61" height="11.53" fill="#73b66f"/><rect x="605.61" y="491.83" width="5.61" height="17.16" fill="#e04d45"/><rect x="605.61" y="508.98" width="5.61" height="12.41" fill="#bf413b"/><rect x="605.61" y="521.39" width="5.61" height="6.94" fill="#9c3231"/><rect x="611.22" y="480.3" width="11.22" height="23.53" fill="#73b66f"/><rect x="611.22" y="503.83" width="11.22" height="11.51" fill="#e04d45"/><rect x="611.22" y="515.35" width="11.22" height="8.33" fill="#bf413b"/><rect x="611.22" y="523.68" width="11.22" height="4.65" fill="#9c3231"/><rect x="622.43" y="480.3" width="5.61" height="22.09" fill="#73b66f"/><rect x="622.43" y="502.39" width="5.61" height="12.19" fill="#e04d45"/><rect x="622.43" y="514.58" width="5.61" height="8.82" fill="#bf413b"/><rect x="622.43" y="523.4" width="5.61" height="4.93" fill="#9c3231"/><rect x="628.04" y="480.3" width="5.61" height="20.17" fill="#73b66f"/><rect x="628.04" y="500.47" width="5.61" height="13.09" fill="#e04d45"/><rect x="628.04" y="513.57" width="5.61" height="9.47" fill="#bf413b"/><rect x="628.04" y="523.04" width="5.61" height="5.29" fill="#9c3231"/><rect x="633.65" y="480.3" width="5.61" height="22.09" fill="#73b66f"/><rect x="633.65" y="502.39" width="5.61" height="12.19" fill="#e04d45"/><rect x="633.65" y="514.58" width="5.61" height="8.82" fill="#bf413b"/><rect x="633.65" y="523.4" width="5.61" height="4.93" fill="#9c3231"/><rect x="639.26" y="480.3" width="5.61" height="23.53" fill="#73b66f"/><rect x="639.26" y="503.83" width="5.61" height="11.51" fill="#e04d45"/><rect x="639.26" y="515.35" width="5.61" height="8.33" fill="#bf413b"/><rect x="639.26" y="523.68" width="5.61" height="4.65" fill="#9c3231"/><rect x="644.86" y="480.3" width="5.61" height="11.53" fill="#73b66f"/><rect x="644.86" y="491.83" width="5.61" height="17.16" fill="#e04d45"/><rect x="644.86" y="508.98" width="5.61" height="12.41" fill="#bf413b"/><rect x="644.86" y="521.39" width="5.61" height="6.94" fill="#9c3231"/><rect x="650.47" y="480.3" width="5.61" height="23.53" fill="#73b66f"/><rect x="650.47" y="503.83" width="5.61" height="11.51" fill="#e04d45"/><rect x="650.47" y="515.35" width="5.61" height="8.33" fill="#bf413b"/><rect x="650.47" y="523.68" width="5.61" height="4.65" fill="#9c3231"/><rect x="656.08" y="480.3" width="5.61" height="19.69" fill="#73b66f"/><rect x="656.08" y="499.99" width="5.61" height="13.32" fill="#e04d45"/><rect x="656.08" y="513.31" width="5.61" height="9.63" fill="#bf413b"/><rect x="656.08" y="522.95" width="5.61" height="5.38" fill="#9c3231"/><rect x="661.69" y="480.3" width="5.61" height="7.68" fill="#73b66f"/><rect x="661.69" y="487.98" width="5.61" height="18.96" fill="#e04d45"/><rect x="661.69" y="506.95" width="5.61" height="13.72" fill="#bf413b"/><rect x="661.69" y="520.66" width="5.61" height="7.67" fill="#9c3231"/><rect x="667.29" y="480.3" width="5.61" height="23.53" fill="#73b66f"/><rect x="667.29" y="503.83" width="5.61" height="11.51" fill="#e04d45"/><rect x="667.29" y="515.35" width="5.61" height="8.33" fill="#bf413b"/><rect x="667.29" y="523.68" width="5.61" height="4.65" fill="#9c3231"/><rect x="672.9" y="480.3" width="67.29" height="48.03" fill="#1d1d1d"/><rect x="672.9" y="480.3" width="22.43" height="48.03" fill="#73b66f"/><rect x="695.33" y="480.3" width="11.22" height="46.11" fill="#73b66f"/><rect x="695.33" y="526.41" width="11.22" height="1.92" fill="#e04d45"/><rect x="706.55" y="480.3" width="33.64" height="48.03" fill="#73b66f"/><rect x="740.19" y="480.3" width="67.29" height="48.03" fill="#1d1d1d"/><rect x="740.19" y="480.3" width="16.82" height="27.38" fill="#73b66f"/><rect x="740.19" y="507.68" width="16.82" height="12.97" fill="#e04d45"/><rect x="740.19" y="520.65" width="16.82" height="7.68" fill="#bf413b"/><rect x="757.01" y="480.3" width="16.82" height="21.13" fill="#73b66f"/><rect x="757.01" y="501.43" width="16.82" height="9.61" fill="#e04d45"/><rect x="757.01" y="511.04" width="16.82" height="17.29" fill="#bf413b"/><rect x="773.84" y="480.3" width="16.82" height="19.69" fill="#73b66f"/><rect x="773.84" y="499.99" width="16.82" height="10.09" fill="#e04d45"/><rect x="773.84" y="510.08" width="16.82" height="18.25" fill="#bf413b"/><rect x="790.66" y="480.3" width="16.82" height="27.38" fill="#73b66f"/><rect x="790.66" y="507.68" width="16.82" height="12.97" fill="#e04d45"/><rect x="790.66" y="520.65" width="16.82" height="7.68" fill="#bf413b"/><rect x="807.48" y="480.3" width="67.29" height="48.03" fill="#1d1d1d"/><rect x="807.48" y="480.3" width="16.82" height="24.98" fill="#73b66f"/><rect x="807.48" y="505.28" width="16.82" height="18.25" fill="#e04d45"/><rect x="807.48" y="523.53" width="16.82" height="4.8" fill="#bf413b"/><rect x="824.3" y="480.3" width="16.82" height="33.14" fill="#73b66f"/><rect x="824.3" y="513.44" width="16.82" height="14.89" fill="#e04d45"/><rect x="841.12" y="480.3" width="16.82" height="18.73" fill="#73b66f"/><rect x="841.12" y="499.03" width="16.82" height="15.85" fill="#e04d45"/><rect x="841.12" y="514.88" width="16.82" height="13.45" fill="#bf413b"/><rect x="857.95" y="480.3" width="16.82" height="24.98" fill="#73b66f"/><rect x="857.95" y="505.28" width="16.82" height="15.85" fill="#e04d45"/><rect x="857.95" y="521.13" width="16.82" height="7.2" fill="#bf413b"/><rect x="0" y="528.33" width="67.29" height="48.03" fill="#1d1d1d"/><rect x="0" y="528.33" width="5.61" height="35.54" fill="#73b66f"/><rect x="0" y="563.87" width="5.61" height="12.49" fill="#e04d45"/><rect x="5.61" y="528.33" width="5.61" height="45.15" fill="#73b66f"/><rect x="5.61" y="573.48" width="5.61" height="2.88" fill="#e04d45"/><rect x="11.22" y="528.33" width="5.61" height="42.75" fill="#73b66f"/><rect x="11.22" y="571.08" width="5.61" height="5.28" fill="#e04d45"/><rect x="33.65" y="528.33" width="5.61" height="48.03" fill="#73b66f"/><rect x="39.25" y="528.33" width="5.61" height="42.75" fill="#73b66f"/><rect x="39.25" y="571.08" width="5.61" height="5.28" fill="#e04d45"/><rect x="44.86" y="528.33" width="11.22" height="48.03" fill="#73b66f"/><rect x="56.08" y="528.33" width="5.61" height="42.75" fill="#73b66f"/><rect x="56.08" y="571.08" width="5.61" height="5.28" fill="#e04d45"/><rect x="61.68" y="528.33" width="5.61" height="48.03" fill="#73b66f"/><rect x="67.29" y="528.33" width="67.29" height="48.03" fill="#1d1d1d"/><rect x="67.29" y="528.33" width="5.61" height="28.82" fill="#73b66f"/><rect x="67.29" y="557.15" width="5.61" height="19.21" fill="#e04d45"/><rect x="72.9" y="528.33" width="11.22" height="48.03" fill="#73b66f"/><rect x="84.11" y="528.33" width="16.82" height="19.69" fill="#73b66f"/><rect x="84.11" y="548.02" width="16.82" height="18.73" fill="#e04d45"/><rect x="84.11" y="566.75" width="16.82" height="9.61" fill="#bf413b"/><rect x="100.94" y="528.33" width="5.61" height="48.03" fill="#73b66f"/><rect x="106.54" y="528.33" width="5.61" height="21.61" fill="#73b66f"/><rect x="106.54" y="549.94" width="5.61" height="26.42" fill="#e04d45"/><rect x="112.15" y="528.33" width="11.22" height="48.03" fill="#73b66f"/><rect x="123.37" y="528.33" width="5.61" height="28.82" fill="#73b66f"/><rect x="123.37" y="557.15" width="5.61" height="19.21" fill="#e04d45"/><rect x="128.97" y="528.33" width="5.61" height="48.03" fill="#73b66f"/><rect x="134.58" y="528.33" width="67.29" height="48.03" fill="#1d1d1d"/><rect x="134.58" y="528.33" width="5.61" height="8.17" fill="#73b66f"/><rect x="134.58" y="536.5" width="5.61" height="18.74" fill="#e04d45"/><rect x="134.58" y="555.23" width="5.61" height="13.55" fill="#bf413b"/><rect x="134.58" y="568.79" width="5.61" height="7.57" fill="#9c3231"/><rect x="140.19" y="528.33" width="11.22" height="43.71" fill="#73b66f"/><rect x="140.19" y="572.04" width="11.22" height="2.03" fill="#e04d45"/><rect x="140.19" y="574.07" width="11.22" height="1.47" fill="#bf413b"/><rect x="140.19" y="575.54" width="11.22" height="0.82" fill="#9c3231"/><rect x="151.4" y="528.33" width="16.82" height="19.69" fill="#73b66f"/><rect x="151.4" y="548.02" width="16.82" height="13.32" fill="#e04d45"/><rect x="151.4" y="561.34" width="16.82" height="9.63" fill="#bf413b"/><rect x="151.4" y="570.98" width="16.82" height="5.38" fill="#9c3231"/><rect x="168.23" y="528.33" width="5.61" height="48.03" fill="#73b66f"/><rect x="173.83" y="528.33" width="5.61" height="15.37" fill="#73b66f"/><rect x="173.83" y="543.7" width="5.61" height="15.35" fill="#e04d45"/><rect x="173.83" y="559.05" width="5.61" height="11.1" fill="#bf413b"/><rect x="173.83" y="570.15" width="5.61" height="6.21" fill="#9c3231"/><rect x="179.44" y="528.33" width="11.22" height="48.03" fill="#73b66f"/><rect x="190.66" y="528.33" width="5.61" height="8.17" fill="#73b66f"/><rect x="190.66" y="536.5" width="5.61" height="18.74" fill="#e04d45"/><rect x="190.66" y="555.23" width="5.61" height="13.55" fill="#bf413b"/><rect x="190.66" y="568.79" width="5.61" height="7.57" fill="#9c3231"/><rect x="196.26" y="528.33" width="5.61" height="48.03" fill="#73b66f"/><rect x="201.87" y="528.33" width="67.29" height="48.03" fill="#1f1f1f"/><rect x="269.16" y="528.33" width="67.29" height="48.03" fill="#1f1f1f"/><rect x="336.45" y="528.33" width="67.29" height="48.03" fill="#1f1f1f"/><rect x="403.74" y="528.33" width="67.29" height="48.03" fill="#1f1f1f"/><rect x="471.03" y="528.33" width="67.29" height="48.03" fill="#1f1f1f"/><rect x="538.32" y="528.33" width="67.29" height="48.03" fill="#1f1f1f"/><rect x="605.61" y="528.33" width="67.29" height="48.03" fill="#1d1d1d"/><rect x="605.61" y="566.75" width="5.61" height="9.61" fill="#e04d45"/><rect x="611.22" y="566.75" width="5.61" height="4.32" fill="#73b66f"/><rect x="611.22" y="571.08" width="5.61" height="5.28" fill="#e04d45"/><rect x="616.83" y="566.75" width="11.22" height="3.84" fill="#73b66f"/><rect x="616.83" y="570.6" width="11.22" height="5.76" fill="#e04d45"/><rect x="628.04" y="566.75" width="5.61" height="3.36" fill="#73b66f"/><rect x="628.04" y="570.12" width="5.61" height="6.24" fill="#e04d45"/><rect x="633.65" y="566.75" width="11.22" height="3.84" fill="#73b66f"/><rect x="633.65" y="570.6" width="11.22" height="5.76" fill="#e04d45"/><rect x="644.86" y="566.75" width="5.61" height="9.61" fill="#e04d45"/><rect x="650.47" y="566.75" width="11.22" height="3.84" fill="#73b66f"/><rect x="650.47" y="570.6" width="11.22" height="5.76" fill="#e04d45"/><rect x="661.69" y="566.75" width="5.61" height="4.32" fill="#73b66f"/><rect x="661.69" y="571.08" width="5.61" height="5.28" fill="#e04d45"/><rect x="667.29" y="566.75" width="5.61" height="5.76" fill="#73b66f"/><rect x="667.29" y="572.52" width="5.61" height="3.84" fill="#e04d45"/><rect x="672.9" y="528.33" width="67.29" height="48.03" fill="#1f1f1f"/><rect x="740.19" y="528.33" width="67.29" height="48.03" fill="#1d1d1d"/><rect x="740.19" y="528.33" width="11.22" height="43.23" fill="#73b66f"/><rect x="740.19" y="571.56" width="11.22" height="4.8" fill="#e04d45"/><rect x="751.41" y="528.33" width="11.21" height="48.03" fill="#73b66f"/><rect x="762.62" y="528.33" width="11.22" height="42.27" fill="#73b66f"/><rect x="762.62" y="570.6" width="11.22" height="5.76" fill="#e04d45"/><rect x="773.84" y="528.33" width="11.22" height="48.03" fill="#73b66f"/><rect x="785.05" y="528.33" width="11.21" height="43.23" fill="#73b66f"/><rect x="785.05" y="571.56" width="11.21" height="4.8" fill="#e04d45"/><rect x="796.26" y="528.33" width="11.22" height="48.03" fill="#73b66f"/><rect x="807.48" y="528.33" width="67.29" height="48.03" fill="#1d1d1d"/><rect x="807.48" y="528.33" width="16.82" height="33.62" fill="#73b66f"/><rect x="807.48" y="561.95" width="16.82" height="14.41" fill="#e04d45"/><rect x="824.3" y="528.33" width="16.82" height="25.46" fill="#73b66f"/><rect x="824.3" y="553.79" width="16.82" height="22.57" fill="#e04d45"/><rect x="841.12" y="528.33" width="16.82" height="28.82" fill="#73b66f"/><rect x="841.12" y="557.15" width="16.82" height="19.21" fill="#e04d45"/><rect x="857.95" y="528.33" width="16.82" height="33.62" fill="#73b66f"/><rect x="857.95" y="561.95" width="16.82" height="14.41" fill="#e04d45"/><rect x="0" y="576.36" width="67.29" height="48.03" fill="#1d1d1d"/><rect x="0" y="576.36" width="5.61" height="36.98" fill="#73b66f"/><rect x="0" y="613.34" width="5.61" height="11.05" fill="#e04d45"/><rect x="5.61" y="576.36" width="5.61" height="38.42" fill="#73b66f"/><rect x="5.61" y="614.78" width="5.61" height="9.61" fill="#e04d45"/><rect x="11.22" y="576.36" width="5.61" height="35.06" fill="#73b66f"/><rect x="11.22" y="611.42" width="5.61" height="12.97" fill="#e04d45"/><rect x="33.65" y="576.36" width="5.61" height="40.83" fill="#73b66f"/><rect x="33.65" y="617.19" width="5.61" height="7.2" fill="#e04d45"/><rect x="39.25" y="576.36" width="5.61" height="37.46" fill="#73b66f"/><rect x="39.25" y="613.82" width="5.61" height="10.57" fill="#e04d45"/><rect x="44.86" y="576.36" width="11.22" height="36.02" fill="#73b66f"/><rect x="44.86" y="612.38" width="11.22" height="12.01" fill="#e04d45"/><rect x="56.08" y="576.36" width="5.61" height="38.42" fill="#73b66f"/><rect x="56.08" y="614.78" width="5.61" height="9.61" fill="#e04d45"/><rect x="61.68" y="576.36" width="5.61" height="39.38" fill="#73b66f"/><rect x="61.68" y="615.74" width="5.61" height="8.65" fill="#e04d45"/><rect x="67.29" y="576.36" width="67.29" height="48.03" fill="#1d1d1d"/><rect x="67.29" y="576.36" width="5.61" height="24.5" fill="#73b66f"/><rect x="67.29" y="600.86" width="5.61" height="23.53" fill="#e04d45"/><rect x="72.9" y="576.36" width="11.22" height="48.03" fill="#73b66f"/><rect x="84.11" y="576.36" width="16.82" height="19.21" fill="#73b66f"/><rect x="84.11" y="595.57" width="16.82" height="14.41" fill="#e04d45"/><rect x="84.11" y="609.98" width="16.82" height="14.41" fill="#bf413b"/><rect x="100.94" y="576.36" width="5.61" height="48.03" fill="#73b66f"/><rect x="106.54" y="576.36" width="5.61" height="21.13" fill="#73b66f"/><rect x="106.54" y="597.49" width="5.61" height="26.9" fill="#e04d45"/><rect x="112.15" y="576.36" width="11.22" height="48.03" fill="#73b66f"/><rect x="123.37" y="576.36" width="5.61" height="24.5" fill="#73b66f"/><rect x="123.37" y="600.86" width="5.61" height="23.53" fill="#e04d45"/><rect x="128.97" y="576.36" width="5.61" height="48.03" fill="#73b66f"/><rect x="134.58" y="576.36" width="67.29" height="48.03" fill="#1f1f1f"/><rect x="201.87" y="576.36" width="67.29" height="48.03" fill="#1f1f1f"/><rect x="269.16" y="576.36" width="67.29" height="48.03" fill="#1f1f1f"/><rect x="336.45" y="576.36" width="67.29" height="48.03" fill="#1f1f1f"/><rect x="403.74" y="576.36" width="67.29" height="48.03" fill="#1f1f1f"/><rect x="471.03" y="576.36" width="67.29" height="48.03" fill="#1f1f1f"/><rect x="538.32" y="576.36" width="67.29" height="48.03" fill="#1f1f1f"/><rect x="605.61" y="576.36" width="67.29" height="48.03" fill="#1f1f1f"/><rect x="672.9" y="576.36" width="67.29" height="48.03" fill="#1f1f1f"/><rect x="740.19" y="576.36" width="67.29" height="48.03" fill="#1f1f1f"/><rect x="807.48" y="576.36" width="67.29" height="48.03" fill="#1d1d1d"/><rect x="807.48" y="576.36" width="11.22" height="28.82" fill="#73b66f"/><rect x="807.48" y="605.18" width="11.22" height="19.21" fill="#e04d45"/><rect x="818.7" y="576.36" width="11.22" height="48.03" fill="#73b66f"/><rect x="829.91" y="576.36" width="11.21" height="37.46" fill="#73b66f"/><rect x="829.91" y="613.82" width="11.21" height="10.57" fill="#e04d45"/><rect x="841.12" y="576.36" width="11.22" height="48.03" fill="#73b66f"/><rect x="852.34" y="576.36" width="11.22" height="28.82" fill="#73b66f"/><rect x="852.34" y="605.18" width="11.22" height="19.21" fill="#e04d45"/><rect x="863.56" y="576.36" width="11.22" height="48.03" fill="#73b66f"/><rect x="66.29" y="0" width="1" height="624.39" fill="#000" fill-opacity=".55"/><rect x="0" y="47.03" width="874.77" height="1" fill="#000" fill-opacity=".55"/><rect x="133.58" y="0" width="1" height="624.39" fill="#000" fill-opacity=".55"/><rect x="0" y="95.06" width="874.77" height="1" fill="#000" fill-opacity=".55"/><rect x="200.87" y="0" width="1" height="624.39" fill="#000" fill-opacity=".55"/><rect x="0" y="143.09" width="874.77" height="1" fill="#000" fill-opacity=".55"/><rect x="268.16" y="0" width="1" height="624.39" fill="#000" fill-opacity=".55"/><rect x="0" y="191.12" width="874.77" height="1" fill="#000" fill-opacity=".55"/><rect x="335.45" y="0" width="1" height="624.39" fill="#000" fill-opacity=".55"/><rect x="0" y="239.15" width="874.77" height="1" fill="#000" fill-opacity=".55"/><rect x="402.74" y="0" width="1" height="624.39" fill="#000" fill-opacity=".55"/><rect x="0" y="287.18" width="874.77" height="1" fill="#000" fill-opacity=".55"/><rect x="470.03" y="0" width="1" height="624.39" fill="#000" fill-opacity=".55"/><rect x="0" y="335.21" width="874.77" height="1" fill="#000" fill-opacity=".55"/><rect x="537.32" y="0" width="1" height="624.39" fill="#000" fill-opacity=".55"/><rect x="0" y="383.24" width="874.77" height="1" fill="#000" fill-opacity=".55"/><rect x="604.61" y="0" width="1" height="624.39" fill="#000" fill-opacity=".55"/><rect x="0" y="431.27" width="874.77" height="1" fill="#000" fill-opacity=".55"/><rect x="671.9" y="0" width="1" height="624.39" fill="#000" fill-opacity=".55"/><rect x="0" y="479.3" width="874.77" height="1" fill="#000" fill-opacity=".55"/><rect x="739.19" y="0" width="1" height="624.39" fill="#000" fill-opacity=".55"/><rect x="0" y="527.33" width="874.77" height="1" fill="#000" fill-opacity=".55"/><rect x="806.48" y="0" width="1" height="624.39" fill="#000" fill-opacity=".55"/><rect x="0" y="575.36" width="874.77" height="1" fill="#000" fill-opacity=".55"/></svg><div class="c" style="left:0px;top:0px"><b>AA</b><i>11.52</i></div><div class="c" style="left:67.29px;top:0px"><b>AKs</b><i>5.5</i></div><div class="c" style="left:134.58px;top:0px"><b>AQs</b><i>5.47</i></div><div class="c" style="left:201.87px;top:0px"><b>AJs</b><i>5.41</i></div><div class="c" style="left:269.16px;top:0px"><b>ATs</b><i>5.37</i></div><div class="c" style="left:336.45px;top:0px"><b>A9s</b><i>5.34</i></div><div class="c" style="left:403.74px;top:0px"><b>A8s</b><i>5.23</i></div><div class="c" style="left:471.03px;top:0px"><b>A7s</b><i>8.98</i></div><div class="c" style="left:538.32px;top:0px"><b>A6s</b><i>7.87</i></div><div class="c" style="left:605.61px;top:0px"><b>A5s</b><i>4.63</i></div><div class="c" style="left:672.9px;top:0px"><b>A4s</b><i>4.55</i></div><div class="c" style="left:740.19px;top:0px"><b>A3s</b><i>4.5</i></div><div class="c" style="left:807.48px;top:0px"><b>A2s</b><i>4.49</i></div><div class="c" style="left:0px;top:48.03px"><b>AKo</b><i>5.58</i></div><div class="c" style="left:67.29px;top:48.03px"><b>KK</b><i>3.96</i></div><div class="c" style="left:134.58px;top:48.03px"><b>KQs</b><i>2.7</i></div><div class="c" style="left:201.87px;top:48.03px"><b>KJs</b><i>2.68</i></div><div class="c" style="left:269.16px;top:48.03px"><b>KTs</b><i>2.69</i></div><div class="c" style="left:336.45px;top:48.03px"><b>K9s</b><i>2.62</i></div><div class="c" style="left:403.74px;top:48.03px"><b>K8s</b><i>2.65</i></div><div class="c" style="left:471.03px;top:48.03px"><b>K7s</b><i>3.31</i></div><div class="c" style="left:538.32px;top:48.03px"><b>K6s</b><i>4.01</i></div><div class="c" style="left:605.61px;top:48.03px"><b>K5s</b><i>2.37</i></div><div class="c" style="left:672.9px;top:48.03px"><b>K4s</b><i>2.28</i></div><div class="c" style="left:740.19px;top:48.03px"><b>K3s</b><i>2.2</i></div><div class="c" style="left:807.48px;top:48.03px"><b>K2s</b><i>2.15</i></div><div class="c" style="left:0px;top:96.06px"><b>AQo</b><i>5.51</i></div><div class="c" style="left:67.29px;top:96.06px"><b>KQo</b><i>1.69</i></div><div class="c" style="left:134.58px;top:96.06px"><b>QQ</b><i>3.76</i></div><div class="c" style="left:201.87px;top:96.06px"><b>QJs</b><i>2.27</i></div><div class="c" style="left:269.16px;top:96.06px"><b>QTs</b><i>2.29</i></div><div class="c" style="left:336.45px;top:96.06px"><b>Q9s</b><i>2.23</i></div><div class="c" style="left:403.74px;top:96.06px"><b>Q8s</b><i>2.32</i></div><div class="c" style="left:471.03px;top:96.06px"><b>Q7s</b><i>3.13</i></div><div class="c" style="left:538.32px;top:96.06px"><b>Q6s</b><i>3.72</i></div><div class="c" style="left:605.61px;top:96.06px"><b>Q5s</b><i>2.1</i></div><div class="c" style="left:672.9px;top:96.06px"><b>Q4s</b><i>2.03</i></div><div class="c" style="left:740.19px;top:96.06px"><b>Q3s</b><i>1.94</i></div><div class="c" style="left:807.48px;top:96.06px"><b>Q2s</b><i>1.91</i></div><div class="c" style="left:0px;top:144.09px"><b>AJo</b><i>5.43</i></div><div class="c" style="left:67.29px;top:144.09px"><b>KJo</b><i>1.64</i></div><div class="c" style="left:134.58px;top:144.09px"><b>QJo</b><i>1.32</i></div><div class="c" style="left:201.87px;top:144.09px"><b>JJ</b><i>3.6</i></div><div class="c" style="left:269.16px;top:144.09px"><b>JTs</b><i>2.12</i></div><div class="c" style="left:336.45px;top:144.09px"><b>J9s</b><i>2.08</i></div><div class="c" style="left:403.74px;top:144.09px"><b>J8s</b><i>2.19</i></div><div class="c" style="left:471.03px;top:144.09px"><b>J7s</b><i>3</i></div><div class="c" style="left:538.32px;top:144.09px"><b>J6s</b><i>3.52</i></div><div class="c" style="left:605.61px;top:144.09px"><b>J5s</b><i>1.97</i></div><div class="c" style="left:672.9px;top:144.09px"><b>J4s</b><i>1.9</i></div><div class="c" style="left:740.19px;top:144.09px"><b>J3s</b><i>1.82</i></div><div class="c" style="left:807.48px;top:144.09px"><b>J2s</b><i>1.79</i></div><div class="c" style="left:0px;top:192.12px"><b>ATo</b><i>5.34</i></div><div class="c" style="left:67.29px;top:192.12px"><b>KTo</b><i>1.65</i></div><div class="c" style="left:134.58px;top:192.12px"><b>QTo</b><i>1.35</i></div><div class="c" style="left:201.87px;top:192.12px"><b>JTo</b><i>1.3</i></div><div class="c" style="left:269.16px;top:192.12px"><b>TT</b><i>3.47</i></div><div class="c" style="left:336.45px;top:192.12px"><b>T9s</b><i>3.12</i></div><div class="c" style="left:403.74px;top:192.12px"><b>T8s</b><i>3.18</i></div><div class="c" style="left:471.03px;top:192.12px"><b>T7s</b><i>2.98</i></div><div class="c" style="left:538.32px;top:192.12px"><b>T6s</b><i>3.39</i></div><div class="c" style="left:605.61px;top:192.12px"><b>T5s</b><i>1.85</i></div><div class="c" style="left:672.9px;top:192.12px"><b>T4s</b><i>1.83</i></div><div class="c" style="left:740.19px;top:192.12px"><b>T3s</b><i>1.74</i></div><div class="c" style="left:807.48px;top:192.12px"><b>T2s</b><i>1.71</i></div><div class="c" style="left:0px;top:240.15px"><b>A9o</b><i>5.3</i></div><div class="c" style="left:67.29px;top:240.15px"><b>K9o</b><i>1.55</i></div><div class="c" style="left:134.58px;top:240.15px"><b>Q9o</b><i>1.27</i></div><div class="c" style="left:201.87px;top:240.15px"><b>J9o</b><i>1.25</i></div><div class="c" style="left:269.16px;top:240.15px"><b>T9o</b><i>2.4</i></div><div class="c" style="left:336.45px;top:240.15px"><b>99</b><i>3.4</i></div><div class="c" style="left:403.74px;top:240.15px"><b>98s</b><i>4.55</i></div><div class="c" style="left:471.03px;top:240.15px"><b>97s</b><i>2.96</i></div><div class="c" style="left:538.32px;top:240.15px"><b>96s</b><i>3.32</i></div><div class="c" style="left:605.61px;top:240.15px"><b>95s</b><i>2.73</i></div><div class="c" style="left:672.9px;top:240.15px"><b>94s</b><i>1.78</i></div><div class="c" style="left:740.19px;top:240.15px"><b>93s</b><i>1.74</i></div><div class="c" style="left:807.48px;top:240.15px"><b>92s</b><i>1.7</i></div><div class="c" style="left:0px;top:288.18px"><b>A8o</b><i>5.17</i></div><div class="c" style="left:67.29px;top:288.18px"><b>K8o</b><i>1.55</i></div><div class="c" style="left:134.58px;top:288.18px"><b>Q8o</b><i>1.32</i></div><div class="c" style="left:201.87px;top:288.18px"><b>J8o</b><i>1.32</i></div><div class="c" style="left:269.16px;top:288.18px"><b>T8o</b><i>2.43</i></div><div class="c" style="left:336.45px;top:288.18px"><b>98o</b><i>3.93</i></div><div class="c" style="left:403.74px;top:288.18px"><b>88</b><i>3.36</i></div><div class="c" style="left:471.03px;top:288.18px"><b>87s</b><i>2.97</i></div><div class="c" style="left:538.32px;top:288.18px"><b>86s</b><i>3.29</i></div><div class="c" style="left:605.61px;top:288.18px"><b>85s</b><i>4.09</i></div><div class="c" style="left:672.9px;top:288.18px"><b>84s</b><i>2.8</i></div><div class="c" style="left:740.19px;top:288.18px"><b>83s</b><i>1.72</i></div><div class="c" style="left:807.48px;top:288.18px"><b>82s</b><i>1.72</i></div><div class="c" style="left:0px;top:336.21px"><b>A7o</b><i>8.87</i></div><div class="c" style="left:67.29px;top:336.21px"><b>K7o</b><i>3.36</i></div><div class="c" style="left:134.58px;top:336.21px"><b>Q7o</b><i>3.15</i></div><div class="c" style="left:201.87px;top:336.21px"><b>J7o</b><i>3</i></div><div class="c" style="left:269.16px;top:336.21px"><b>T7o</b><i>2.97</i></div><div class="c" style="left:336.45px;top:336.21px"><b>97o</b><i>2.94</i></div><div class="c" style="left:403.74px;top:336.21px"><b>87o</b><i>2.94</i></div><div class="c" style="left:471.03px;top:336.21px"><b>77</b><i>11.97</i></div><div class="c" style="left:538.32px;top:336.21px"><b>76s</b><i>5.9</i></div><div class="c" style="left:605.61px;top:336.21px"><b>75s</b><i>2.82</i></div><div class="c" style="left:672.9px;top:336.21px"><b>74s</b><i>2.75</i></div><div class="c" style="left:740.19px;top:336.21px"><b>73s</b><i>2.7</i></div><div class="c" style="left:807.48px;top:336.21px"><b>72s</b><i>2.67</i></div><div class="c" style="left:0px;top:384.24px"><b>A6o</b><i>7.84</i></div><div class="c" style="left:67.29px;top:384.24px"><b>K6o</b><i>2.57</i></div><div class="c" style="left:134.58px;top:384.24px"><b>Q6o</b><i>2.46</i></div><div class="c" style="left:201.87px;top:384.24px"><b>J6o</b><i>2.39</i></div><div class="c" style="left:269.16px;top:384.24px"><b>T6o</b><i>2.42</i></div><div class="c" style="left:336.45px;top:384.24px"><b>96o</b><i>2.45</i></div><div class="c" style="left:403.74px;top:384.24px"><b>86o</b><i>2.48</i></div><div class="c" style="left:471.03px;top:384.24px"><b>76o</b><i>5.91</i></div><div class="c" style="left:538.32px;top:384.24px"><b>66</b><i>11.51</i></div><div class="c" style="left:605.61px;top:384.24px"><b>65s</b><i>3.15</i></div><div class="c" style="left:672.9px;top:384.24px"><b>64s</b><i>3.09</i></div><div class="c" style="left:740.19px;top:384.24px"><b>63s</b><i>3.06</i></div><div class="c" style="left:807.48px;top:384.24px"><b>62s</b><i>3.02</i></div><div class="c" style="left:0px;top:432.27px"><b>A5o</b><i>4.57</i></div><div class="c" style="left:67.29px;top:432.27px"><b>K5o</b><i>1.29</i></div><div class="c" style="left:134.58px;top:432.27px"><b>Q5o</b><i>1.12</i></div><div class="c" style="left:201.87px;top:432.27px"><b>J5o</b><i>1.09</i></div><div class="c" style="left:269.16px;top:432.27px"><b>T5o</b><i>1.1</i></div><div class="c" style="left:336.45px;top:432.27px"><b>95o</b><i>2.05</i></div><div class="c" style="left:403.74px;top:432.27px"><b>85o</b><i>3.46</i></div><div class="c" style="left:471.03px;top:432.27px"><b>75o</b><i>2.79</i></div><div class="c" style="left:538.32px;top:432.27px"><b>65o</b><i>2.34</i></div><div class="c" style="left:605.61px;top:432.27px"><b>55</b><i>2.01</i></div><div class="c" style="left:672.9px;top:432.27px"><b>54s</b><i>3.81</i></div><div class="c" style="left:740.19px;top:432.27px"><b>53s</b><i>2.72</i></div><div class="c" style="left:807.48px;top:432.27px"><b>52s</b><i>1.55</i></div><div class="c" style="left:0px;top:480.3px"><b>A4o</b><i>4.49</i></div><div class="c" style="left:67.29px;top:480.3px"><b>K4o</b><i>1.2</i></div><div class="c" style="left:134.58px;top:480.3px"><b>Q4o</b><i>1.05</i></div><div class="c" style="left:201.87px;top:480.3px"><b>J4o</b><i>1.02</i></div><div class="c in" style="left:269.16px;top:480.3px"><b>T4o</b></div><div class="c in" style="left:336.45px;top:480.3px"><b>94o</b></div><div class="c in" style="left:403.74px;top:480.3px"><b>84o</b></div><div class="c" style="left:471.03px;top:480.3px"><b>74o</b><i>2.74</i></div><div class="c" style="left:538.32px;top:480.3px"><b>64o</b><i>2.28</i></div><div class="c" style="left:605.61px;top:480.3px"><b>54o</b><i>3.19</i></div><div class="c" style="left:672.9px;top:480.3px"><b>44</b><i>1.87</i></div><div class="c" style="left:740.19px;top:480.3px"><b>43s</b><i>2.48</i></div><div class="c" style="left:807.48px;top:480.3px"><b>42s</b><i>1.5</i></div><div class="c" style="left:0px;top:528.33px"><b>A3o</b><i>4.45</i></div><div class="c" style="left:67.29px;top:528.33px"><b>K3o</b><i>1.12</i></div><div class="c" style="left:134.58px;top:528.33px"><b>Q3o</b><i>0.97</i></div><div class="c in" style="left:201.87px;top:528.33px"><b>J3o</b></div><div class="c in" style="left:269.16px;top:528.33px"><b>T3o</b></div><div class="c in" style="left:336.45px;top:528.33px"><b>93o</b></div><div class="c in" style="left:403.74px;top:528.33px"><b>83o</b></div><div class="c in" style="left:471.03px;top:528.33px"><b>73o</b></div><div class="c in" style="left:538.32px;top:528.33px"><b>63o</b></div><div class="c" style="left:605.61px;top:528.33px"><b>53o</b><i>2.1</i></div><div class="c in" style="left:672.9px;top:528.33px"><b>43o</b></div><div class="c" style="left:740.19px;top:528.33px"><b>33</b><i>1.74</i></div><div class="c" style="left:807.48px;top:528.33px"><b>32s</b><i>1.44</i></div><div class="c" style="left:0px;top:576.36px"><b>A2o</b><i>4.43</i></div><div class="c" style="left:67.29px;top:576.36px"><b>K2o</b><i>1.07</i></div><div class="c in" style="left:134.58px;top:576.36px"><b>Q2o</b></div><div class="c in" style="left:201.87px;top:576.36px"><b>J2o</b></div><div class="c in" style="left:269.16px;top:576.36px"><b>T2o</b></div><div class="c in" style="left:336.45px;top:576.36px"><b>92o</b></div><div class="c in" style="left:403.74px;top:576.36px"><b>82o</b></div><div class="c in" style="left:471.03px;top:576.36px"><b>72o</b></div><div class="c in" style="left:538.32px;top:576.36px"><b>62o</b></div><div class="c in" style="left:605.61px;top:576.36px"><b>52o</b></div><div class="c in" style="left:672.9px;top:576.36px"><b>42o</b></div><div class="c in" style="left:740.19px;top:576.36px"><b>32o</b></div><div class="c" style="left:807.48px;top:576.36px"><b>22</b><i>1.73</i></div></div>
<div class="tab act" style="left:903.5px;top:183px;width:92px"><span class="abs" style="left:16px">Overview</span></div>
<div class="tab" style="left:1015.5px;top:183px">Table</div>
<div class="panel" style="left:903px;top:209px;width:633px;height:45px;border-radius:0 0 0 6px"></div>
<div class="box" style="left:907.700px;top:214px;width:51.500px;height:35px;color:#4db592">SB<br>97.5</div>
<div class="box" style="left:964px;top:214px;width:53px;height:35px;color:#e8e8e8">BB<br>97.5</div>
<div class="abs" style="left:1031.500px;top:217.500px;font-weight:bold;font-size:12.500px;line-height:14px;white-space:nowrap">5 BB<span style="color:#8f8f8f;margin-left:8px">5 BB</span></div>
<div class="abs" style="left:1032.500px;top:234.500px;font-size:11.500px;line-height:14px;color:#8f8f8f;white-space:nowrap;letter-spacing:.2px">Pot odds:<b style="margin-left:9px">-</b></div>
<div class="card" style="left:1111px;top:214.300px;width:21px;height:35px;background:#a92418;border-radius:3px"><svg class="abs" style="left:0;top:0" width="21" height="35" viewBox="0 0 37 60" preserveAspectRatio="none"><path d="M30.600 56.600C20 46 1.700 32 1.700 18 1.700 9 8 3 16 3c6 0 12 3 14.600 7.600C33 6 39 3 45 3c8 0 14.500 6 14.500 15 0 14-18.500 28-28.900 38.600z" fill="#7a150e"/></svg><span class="abs" style="left:-2px;width:25px;top:5px;font-size:23px;line-height:26px">A</span></div>
<div class="card" style="left:1134px;top:214.300px;width:21px;height:35px;background:#a92418;border-radius:3px"><svg class="abs" style="left:0;top:0" width="21" height="35" viewBox="0 0 37 60" preserveAspectRatio="none"><path d="M30.600 56.600C20 46 1.700 32 1.700 18 1.700 9 8 3 16 3c6 0 12 3 14.600 7.600C33 6 39 3 45 3c8 0 14.500 6 14.500 15 0 14-18.500 28-28.900 38.600z" fill="#7a150e"/></svg><span class="abs" style="left:-2px;width:25px;top:5px;font-size:23px;line-height:26px">7</span></div>
<div class="card" style="left:1157px;top:214.300px;width:21px;height:35px;background:#2a36c0;border-radius:3px"><svg class="abs" style="left:0;top:0" width="21" height="35" viewBox="0 0 37 60" preserveAspectRatio="none"><path d="M30 2L40.400 30 30 57.500 19.600 30z" fill="#1c2690"/></svg><span class="abs" style="left:-2px;width:25px;top:5px;font-size:23px;line-height:26px">6</span></div>
<div class="tab act" style="left:903.500px;top:263px;width:95px"><span class="abs" style="left:16px">Actions</span><svg class="abs" style="left:66px;top:5px" width="19" height="19" viewBox="0 0 24 24"><path d="M7 10l5 5 5-5z" fill="#fff"/></svg></div>
<div class="panel" style="left:903px;top:289px;width:633px;height:177px;border-radius:0 0 0 6px"></div>
<div class="ac" style="left:907.7px;top:295px;width:204.300px;height:67.500px;background:#6a1f1f"><div class="t">Allin 97.5 <small>(1950%)</small></div><div class="v">0%</div><div class="n"><em>0</em><br>combos</div></div>
<div class="ac" style="left:1117px;top:295px;width:204.300px;height:67.500px;background:#7a2525"><div class="t">Bet 7.5 <small>(150%)</small></div><div class="v">0.7%</div><div class="n"><em>6.58</em><br>combos</div><svg width="18.700" height="18.700" viewBox="0 0 24 24"><path d="M19 3H5c-1.100 0-2 .9-2 2v14c0 1.100.9 2 2 2h14c1.100 0 2-.9 2-2V5c0-1.100-.9-2-2-2zm0 16H5V5h14v14zM7 7h10v2H7zm0 4h10v2H7zm0 4h7v2H7z" fill="#f3e6e6"/></svg></div>
<div class="ac" style="left:1326px;top:295px;width:204.300px;height:67.500px;background:#9c3231"><div class="t">Bet 5 <small>(100%)</small></div><div class="v">5.2%</div><div class="n"><em>47.92</em><br>combos</div><svg width="18.700" height="18.700" viewBox="0 0 24 24"><path d="M19 3H5c-1.100 0-2 .9-2 2v14c0 1.100.9 2 2 2h14c1.100 0 2-.9 2-2V5c0-1.100-.9-2-2-2zm0 16H5V5h14v14zM7 7h10v2H7zm0 4h10v2H7zm0 4h7v2H7z" fill="#f3e6e6"/></svg></div>
<div class="ac" style="left:907.7px;top:366px;width:204.300px;height:67.500px;background:#bf413b"><div class="t">Bet 3.35 <small>(67%)</small></div><div class="v">12.9%</div><div class="n"><em>118.89</em><br>combos</div><svg width="18.700" height="18.700" viewBox="0 0 24 24"><path d="M19 3H5c-1.100 0-2 .9-2 2v14c0 1.100.9 2 2 2h14c1.100 0 2-.9 2-2V5c0-1.100-.9-2-2-2zm0 16H5V5h14v14zM7 7h10v2H7zm0 4h10v2H7zm0 4h7v2H7z" fill="#f3e6e6"/></svg></div>
<div class="ac" style="left:1117px;top:366px;width:204.300px;height:67.500px;background:#e04d45"><div class="t">Bet 1.65 <small>(33%)</small></div><div class="v">24.7%</div><div class="n"><em>228.53</em><br>combos</div><svg width="18.700" height="18.700" viewBox="0 0 24 24"><path d="M19 3H5c-1.100 0-2 .9-2 2v14c0 1.100.9 2 2 2h14c1.100 0 2-.9 2-2V5c0-1.100-.9-2-2-2zm0 16H5V5h14v14zM7 7h10v2H7zm0 4h10v2H7zm0 4h7v2H7z" fill="#f3e6e6"/></svg></div>
<div class="ac" style="left:1326px;top:366px;width:204.300px;height:67.500px;background:#73b66f"><div class="t">Check</div><div class="v">56.5%</div><div class="n"><em>522.71</em><br>combos</div><svg width="18.700" height="18.700" viewBox="0 0 24 24"><path d="M19 3H5c-1.100 0-2 .9-2 2v14c0 1.100.9 2 2 2h14c1.100 0 2-.9 2-2V5c0-1.100-.9-2-2-2zm0 16H5V5h14v14zM7 7h10v2H7zm0 4h10v2H7zm0 4h7v2H7z" fill="#f3e6e6"/></svg></div>
<div class="abs" style="left:907.700px;top:437.700px;width:622.3px;height:22.500px;border-radius:3px;overflow:hidden;background:#73b66f"><div class="abs" style="left:0.00px;top:0;width:4.86px;height:23px;background:#7a2525"></div><div class="abs" style="left:4.36px;top:0;width:32.86px;height:23px;background:#9c3231"></div><div class="abs" style="left:36.72px;top:0;width:80.78px;height:23px;background:#bf413b"></div><div class="abs" style="left:116.99px;top:0;width:154.21px;height:23px;background:#e04d45"></div><div class="abs" style="left:270.70px;top:0;width:352.10px;height:23px;background:#73b66f"></div></div>
<div class="tab act" style="left:903px;top:474px;width:74px"><span class="abs" style="left:16.500px">Hands</span></div>
<div class="tab" style="left:996.500px;top:474px">Summary</div>
<div class="tab" style="left:1092.500px;top:474px">Filters</div>
<div class="tab" style="left:1168.500px;top:474px">Blockers</div>
<div class="panel" style="left:903.500px;top:500px;width:633px;height:343px;border-radius:0 0 0 6px"></div>
<div class="hc r1" style="left:908.9px;top:506px;width:309.1px;height:166.5px;border-radius:4px 0 0 0;box-shadow:inset 0 -1px 0 rgba(0,0,0,.55)"><div class="abs" style="left:0.0px;top:0;width:2.0px;height:100%;background:#9c3231"></div><div class="abs" style="left:1.7px;top:0;width:1.4px;height:100%;background:#e04d45"></div><div class="bd" style="left:0;width:51px;color:#222">J<u>♠</u>2<u>♠</u></div><div class="bd2" style="left:55px;width:60px"><svg class="abs" style="left:4px;top:3px" width="13" height="15" viewBox="0 0 13 15"><path d="M6.500 0L13 2v6c0 3.500-2.800 6-6.500 7C2.800 14 0 11.500 0 8V2z" fill="#d9403a"/><path d="M6.500 4.500L10 9H3z" fill="#fff"/></svg><span class="abs" style="left:20px">1</span><svg class="abs" style="left:30px;top:3px" width="13" height="15" viewBox="0 0 13 15"><path d="M6.500 0L13 2v6c0 3.500-2.800 6-6.500 7C2.800 14 0 11.500 0 8V2z" fill="#d6b04f"/><path d="M3 6h7l-3.500 4.500z" fill="#f4e3b0"/></svg><span class="abs" style="left:46px">8</span></div><div class="ev">EV</div><div class="ls"><div>Allin 97.5<small>(1950%)</small><span>-5.52</span></div><div>Bet 7.5<small>(150%)</small><span>0.65</span></div><div>Bet 5<small>(100%)</small><span>0.71</span></div><div>Bet 3.35<small>(67%)</small><span>0.71</span></div><div>Bet 1.65<small>(33%)</small><span>0.74</span></div><div>Check<span>0.76</span></div></div></div>
<div class="hc r1" style="left:1219px;top:506px;width:311px;height:166.5px;border-radius:0;box-shadow:inset 0 -1px 0 rgba(0,0,0,.55)"><div class="abs" style="left:0.0px;top:0;width:3.4px;height:100%;background:#7a2525"></div><div class="abs" style="left:3.1px;top:0;width:36.7px;height:100%;background:#9c3231"></div><div class="abs" style="left:39.5px;top:0;width:86.8px;height:100%;background:#bf413b"></div><div class="abs" style="left:126.0px;top:0;width:110.7px;height:100%;background:#e04d45"></div><div class="bd" style="left:0;width:51px;color:#c62a22">J<u>♥</u>2<u>♥</u></div><div class="bd2" style="left:55px;width:60px"><svg class="abs" style="left:4px;top:3px" width="13" height="15" viewBox="0 0 13 15"><path d="M6.500 0L13 2v6c0 3.500-2.800 6-6.500 7C2.800 14 0 11.500 0 8V2z" fill="#e8744a"/><path d="M6.500 4.500L10 9H3z" fill="#fff"/></svg><span class="abs" style="left:20px">2</span><svg class="abs" style="left:30px;top:3px" width="13" height="15" viewBox="0 0 13 15"><path d="M6.500 0L13 2v6c0 3.500-2.800 6-6.500 7C2.800 14 0 11.500 0 8V2z" fill="#e8744a"/><path d="M3 6h7l-3.500 4.500z" fill="#fff"/></svg><span class="abs" style="left:46px">3</span></div><div class="ev">EV</div><div class="ls"><div>Allin 97.5<small>(1950%)</small><span>1.32</span></div><div>Bet 7.5<small>(150%)</small><span>4.5</span></div><div>Bet 5<small>(100%)</small><span>4.5</span></div><div>Bet 3.35<small>(67%)</small><span>4.51</span></div><div>Bet 1.65<small>(33%)</small><span>4.51</span></div><div>Check<span>4.51</span></div></div></div>
<div class="hc" style="left:908.9px;top:672.5px;width:309.1px;height:167px;border-radius:0 0 0 4px"><div class="abs" style="left:0.0px;top:0;width:17.3px;height:100%;background:#9c3231"></div><div class="abs" style="left:17.0px;top:0;width:41.7px;height:100%;background:#bf413b"></div><div class="abs" style="left:58.4px;top:0;width:13.0px;height:100%;background:#e04d45"></div><div class="bd" style="left:0;width:51px;color:#2a36c8">J<u>♦</u>2<u>♦</u></div><div class="bd2" style="left:55px;width:60px"><svg class="abs" style="left:4px;top:3px" width="13" height="15" viewBox="0 0 13 15"><path d="M6.500 0L13 2v6c0 3.500-2.800 6-6.500 7C2.800 14 0 11.500 0 8V2z" fill="#d9403a"/><path d="M6.500 4.500L10 9H3z" fill="#fff"/></svg><span class="abs" style="left:20px">1</span><svg class="abs" style="left:30px;top:3px" width="13" height="15" viewBox="0 0 13 15"><path d="M6.500 0L13 2v6c0 3.500-2.800 6-6.500 7C2.800 14 0 11.500 0 8V2z" fill="#d6b04f"/><path d="M3 6h7l-3.500 4.500z" fill="#f4e3b0"/></svg><span class="abs" style="left:46px">7</span></div><div class="ev">EV</div><div class="ls"><div>Allin 97.5<small>(1950%)</small><span>-4.71</span></div><div>Bet 7.5<small>(150%)</small><span>1.09</span></div><div>Bet 5<small>(100%)</small><span>1.12</span></div><div>Bet 3.35<small>(67%)</small><span>1.13</span></div><div>Bet 1.65<small>(33%)</small><span>1.12</span></div><div>Check<span>1.13</span></div></div></div>
<div class="hc" style="left:1219px;top:672.5px;width:311px;height:167px;border-radius:0"><div class="abs" style="left:0.0px;top:0;width:2.0px;height:100%;background:#9c3231"></div><div class="abs" style="left:1.7px;top:0;width:1.4px;height:100%;background:#e04d45"></div><div class="bd" style="left:0;width:51px;color:#4aa84f">J<u>♣</u>2<u>♣</u></div><div class="bd2" style="left:55px;width:60px"><svg class="abs" style="left:4px;top:3px" width="13" height="15" viewBox="0 0 13 15"><path d="M6.500 0L13 2v6c0 3.500-2.800 6-6.500 7C2.800 14 0 11.500 0 8V2z" fill="#d9403a"/><path d="M6.500 4.500L10 9H3z" fill="#fff"/></svg><span class="abs" style="left:20px">1</span><svg class="abs" style="left:30px;top:3px" width="13" height="15" viewBox="0 0 13 15"><path d="M6.500 0L13 2v6c0 3.500-2.800 6-6.500 7C2.800 14 0 11.500 0 8V2z" fill="#d6b04f"/><path d="M3 6h7l-3.500 4.500z" fill="#f4e3b0"/></svg><span class="abs" style="left:46px">8</span></div><div class="ev">EV</div><div class="ls"><div>Allin 97.5<small>(1950%)</small><span>-5.52</span></div><div>Bet 7.5<small>(150%)</small><span>0.65</span></div><div>Bet 5<small>(100%)</small><span>0.71</span></div><div>Bet 3.35<small>(67%)</small><span>0.71</span></div><div>Bet 1.65<small>(33%)</small><span>0.74</span></div><div>Check<span>0.76</span></div></div></div>

</body>
</html>
